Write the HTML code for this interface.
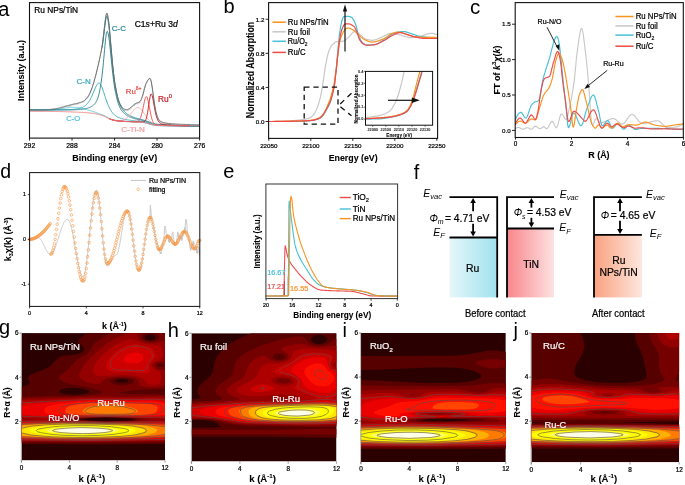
<!DOCTYPE html>
<html><head><meta charset="utf-8"><style>
html,body{margin:0;padding:0;background:#fff;width:685px;height:485px;overflow:hidden}
svg{display:block;font-family:"Liberation Sans", sans-serif;will-change:transform}
</style></head><body>
<svg width="685" height="485" viewBox="0 0 685 485">
<rect x="0" y="0" width="685" height="485" fill="#fff"/>
<path d="M29.5,111.6L29.9,111 30.3,110.8 30.7,110 31.1,110.7 31.5,110.6 31.9,110.7 32.3,110.5 32.7,110.8 33.2,110.6 33.6,110.2 34,111.2 34.4,111.2 34.8,111.5 35.2,110.8 35.6,110.6 36,110.5 36.4,110 36.8,111.2 37.2,110.2 37.6,110.2 38,110.6 38.4,111.3 38.8,110.8 39.2,110.2 39.6,110.3 40.1,110.9 40.5,110.6 40.9,110.3 41.3,110.5 41.7,110.9 42.1,111.5 42.5,110 42.9,110.3 43.3,110.2 43.7,109.4 44.1,110.1 44.5,110 44.9,111 45.3,110.4 45.7,109.7 46.1,110.7 46.5,110.2 47,109.5 47.4,110 47.8,110 48.2,109.8 48.6,110.2 49,109.2 49.4,110 49.8,110.5 50.2,110.4 50.6,110.5 51,110.5 51.4,110.6 51.8,109.4 52.2,110.2 52.6,108.9 53,109.4 53.4,108.8 53.9,110 54.3,110.1 54.7,109.4 55.1,110.2 55.5,109 55.9,109.3 56.3,109.2 56.7,108.6 57.1,109.2 57.5,109.8 57.9,108.4 58.3,109.1 58.7,108.6 59.1,109.3 59.5,108.7 59.9,108.7 60.3,108.5 60.8,108.3 61.2,107.4 61.6,108.6 62,107.2 62.4,107.8 62.8,107.9 63.2,107.1 63.6,107.5 64,107.8 64.4,107.2 64.8,106.7 65.2,105.6 65.6,106.4 66,106.4 66.4,106.4 66.8,106.1 67.3,106.5 67.7,106 68.1,106.1 68.5,106.3 68.9,105.5 69.3,105.7 69.7,106.7 70.1,106 70.5,104.9 70.9,105.4 71.3,105.5 71.7,105.7 72.1,105.2 72.5,104.7 72.9,104.6 73.3,105.1 73.7,104.8 74.2,104.4 74.6,104.4 75,104.2 75.4,104.7 75.8,103.9 76.2,104.4 76.6,104.4 77,104.2 77.4,103.5 77.8,104.4 78.2,103.4 78.6,103.7 79,103.1 79.4,102.5 79.8,103.3 80.2,103.2 80.6,102.9 81.1,102.9 81.5,102.3 81.9,102.1 82.3,102.2 82.7,102.9 83.1,102.2 83.5,101.4 83.9,101.6 84.3,100.9 84.7,100.6 85.1,100.8 85.5,99.8 85.9,98.9 86.3,98.8 86.7,98.8 87.1,98.3 87.5,98.3 88,96.8 88.4,96.8 88.8,96 89.2,95 89.6,94.7 90,93.7 90.4,92.2 90.8,92.1 91.2,90.1 91.6,89.6 92,88.5 92.4,87.5 92.8,85.7 93.2,84.7 93.6,83.3 94,82.4 94.4,80.2 94.9,79.1 95.3,77.4 95.7,75.3 96.1,75.5 96.5,72.7 96.9,70.4 97.3,70 97.7,67.3 98.1,66.2 98.5,64.7 98.9,62.4 99.3,60.7 99.7,58.8 100.1,57.1 100.5,54.5 100.9,52.6 101.3,50.8 101.8,48.9 102.2,46.1 102.6,43.7 103,40.2 103.4,36.5 103.8,33.2 104.2,28.9 104.6,25.9 105,22.5 105.4,20 105.8,17.5 106.2,15 106.6,13.8 107,13.2 107.4,14.7 107.8,16.6 108.2,19.1 108.7,21.7 109.1,26.6 109.5,30.4 109.9,34.2 110.3,38.6 110.7,43.4 111.1,48.3 111.5,52.8 111.9,57.5 112.3,61.9 112.7,66.2 113.1,70 113.5,73 113.9,76.6 114.3,79.4 114.7,82.3 115.1,86.1 115.6,87.5 116,90.9 116.4,92 116.8,94.1 117.2,96.3 117.6,97.4 118,99 118.4,100.1 118.8,101.2 119.2,102.4 119.6,103.2 120,105.1 120.4,105.2 120.8,106.8 121.2,105.4 121.6,107.3 122,108 122.5,108.1 122.9,109.2 123.3,109.3 123.7,109.2 124.1,109.8 124.5,111.1 124.9,110.1 125.3,110.3 125.7,110 126.1,110.3 126.5,109.7 126.9,110.1 127.3,111.2 127.7,110.5 128.1,110.1 128.5,110.1 129,110.3 129.4,109.4 129.8,109.8 130.2,109.1 130.6,108.3 131,108.7 131.4,106.5 131.8,106.9 132.2,106.9 132.6,106 133,106 133.4,105.4 133.8,105 134.2,106.2 134.6,105 135,104.4 135.4,104.8 135.9,103.8 136.3,104.1 136.7,103.7 137.1,104.2 137.5,102.7 137.9,103.5 138.3,103.1 138.7,102.4 139.1,103.2 139.5,102 139.9,102.8 140.3,101.8 140.7,101.3 141.1,100.3 141.5,99.7 141.9,97.4 142.3,97 142.8,95.3 143.2,94.2 143.6,92.5 144,91.2 144.4,88.9 144.8,88.6 145.2,87.5 145.6,85.1 146,84.1 146.4,83.3 146.8,83 147.2,82.6 147.6,80.6 148,80.3 148.4,79.6 148.8,79.1 149.2,78.4 149.7,79.1 150.1,78.6 150.5,80.3 150.9,81.2 151.3,82 151.7,84.2 152.1,86.9 152.5,90.6 152.9,92.5 153.3,95.2 153.7,98.8 154.1,101.8 154.5,104.1 154.9,107.6 155.3,109.3 155.7,111.4 156.1,112.7 156.6,114.7 157,116 157.4,116.2 157.8,118.4 158.2,118.3 158.6,119.8 159,119.8 159.4,121.9 159.8,121.5 160.2,122.1 160.6,122.4 161,121.6 161.4,121.4 161.8,122.5 162.2,123.2 162.6,123 163,123.4 163.5,123.6 163.9,122.6 164.3,123.5 164.7,124.3 165.1,123.3 165.5,122.7 165.9,123.6 166.3,123.5 166.7,124 167.1,123.4 167.5,123.9 167.9,123 168.3,124.4 168.7,124.8 169.1,124.7 169.5,123.5 169.9,124.3 170.4,122.9 170.8,124.4 171.2,124.3 171.6,123.9 172,124.5 172.4,124.5 172.8,124.9 173.2,124.5 173.6,124.6 174,123.6 174.4,124 174.8,124.4 175.2,124.7 175.6,124.6 176,125.3 176.4,124.3 176.8,124.6 177.3,124.8 177.7,124.6 178.1,125 178.5,124.5 178.9,125.4 179.3,124.7 179.7,125.3 180.1,124.8 180.5,125.5 180.9,124.2 181.3,125.1 181.7,124.7 182.1,125 182.5,125.5 182.9,124.4 183.3,124.4 183.7,124.5 184.2,125.1 184.6,124.2 185,125.1 185.4,124.5 185.8,124.5 186.2,124.9 186.6,125.2 187,124.8 187.4,124.9 187.8,125.1 188.2,125 188.6,123.9 189,124.9 189.4,125.2 189.8,125.7 190.2,126.1 190.6,125.5 191.1,125.2 191.5,124.8 191.9,125.2 192.3,125.6 192.7,125.8 193.1,124.8 193.5,125.3 193.9,125.6 194.3,126.1 194.7,125.4 195.1,125 195.5,125 195.9,125.1 196.3,125 196.7,125.7 197.1,125.8 197.6,125.6 198,125.9 198.4,125.1 198.8,125.5 199.2,125.2 199.6,125.4" fill="none" stroke="#bdbdbd" stroke-width="0.8" stroke-linejoin="round" stroke-linecap="round" />
<path d="M29.5,110L29.9,110 30.3,110 30.7,110 31.1,110 31.5,110 31.9,110 32.3,110 32.7,110 33.2,110 33.6,110 34,110.1 34.4,110.1 34.8,110.1 35.2,110.1 35.6,110.1 36,110.1 36.4,110.1 36.8,110.1 37.2,110.1 37.6,110.1 38,110.1 38.4,110.1 38.8,110.1 39.2,110.1 39.6,110.1 40.1,110.1 40.5,110.1 40.9,110.1 41.3,110.1 41.7,110.1 42.1,110.1 42.5,110.1 42.9,110.1 43.3,110.1 43.7,110.1 44.1,110.1 44.5,110.1 44.9,110.1 45.3,110.1 45.7,110.1 46.1,110.1 46.5,110.1 47,110.1 47.4,110.1 47.8,110.1 48.2,110.1 48.6,110.1 49,110 49.4,110 49.8,110 50.2,110 50.6,110 51,109.9 51.4,109.9 51.8,109.9 52.2,109.9 52.6,109.8 53,109.8 53.4,109.8 53.9,109.7 54.3,109.7 54.7,109.6 55.1,109.6 55.5,109.5 55.9,109.5 56.3,109.5 56.7,109.4 57.1,109.4 57.5,109.3 57.9,109.2 58.3,109.2 58.7,109.1 59.1,109.1 59.5,109 59.9,108.9 60.3,108.9 60.8,108.8 61.2,108.7 61.6,108.7 62,108.6 62.4,108.5 62.8,108.5 63.2,108.4 63.6,108.3 64,108.3 64.4,108.2 64.8,108.1 65.2,108.1 65.6,108 66,107.9 66.4,107.9 66.8,107.8 67.3,107.7 67.7,107.7 68.1,107.6 68.5,107.6 68.9,107.5 69.3,107.5 69.7,107.5 70.1,107.4 70.5,107.4 70.9,107.4 71.3,107.3 71.7,107.3 72.1,107.3 72.5,107.3 72.9,107.3 73.3,107.3 73.7,107.3 74.2,107.3 74.6,107.3 75,107.3 75.4,107.3 75.8,107.4 76.2,107.4 76.6,107.4 77,107.5 77.4,107.5 77.8,107.6 78.2,107.6 78.6,107.7 79,107.7 79.4,107.8 79.8,107.9 80.2,108 80.6,108 81.1,108.1 81.5,108.2 81.9,108.3 82.3,108.4 82.7,108.5 83.1,108.6 83.5,108.7 83.9,108.8 84.3,108.9 84.7,109 85.1,109.1 85.5,109.3 85.9,109.4 86.3,109.5 86.7,109.6 87.1,109.7 87.5,109.8 88,110 88.4,110.1 88.8,110.2 89.2,110.3 89.6,110.5 90,110.6 90.4,110.7 90.8,110.8 91.2,111 91.6,111.1 92,111.2 92.4,111.3 92.8,111.5 93.2,111.6 93.6,111.7 94,111.8 94.4,112 94.9,112.1 95.3,112.2 95.7,112.4 96.1,112.5 96.5,112.6 96.9,112.8 97.3,112.9 97.7,113.1 98.1,113.2 98.5,113.4 98.9,113.5 99.3,113.6 99.7,113.8 100.1,113.9 100.5,114.1 100.9,114.2 101.3,114.4 101.8,114.6 102.2,114.7 102.6,114.9 103,115.1 103.4,115.2 103.8,115.4 104.2,115.6 104.6,115.8 105,116 105.4,116.2 105.8,116.4 106.2,116.7 106.6,116.9 107,117.1 107.4,117.3 107.8,117.5 108.2,117.8 108.7,118 109.1,118.2 109.5,118.4 109.9,118.6 110.3,118.7 110.7,118.9 111.1,119.1 111.5,119.2 111.9,119.4 112.3,119.5 112.7,119.6 113.1,119.8 113.5,119.9 113.9,120 114.3,120.1 114.7,120.2 115.1,120.2 115.6,120.3 116,120.4 116.4,120.5 116.8,120.5 117.2,120.6 117.6,120.6 118,120.7 118.4,120.7 118.8,120.8 119.2,120.8 119.6,120.9 120,120.9 120.4,121 120.8,121 121.2,121 121.6,121.1 122,121.1 122.5,121.1 122.9,121.2 123.3,121.2 123.7,121.2 124.1,121.2 124.5,121.3 124.9,121.3 125.3,121.3 125.7,121.3 126.1,121.4 126.5,121.4 126.9,121.4 127.3,121.4 127.7,121.5 128.1,121.5 128.5,121.5 129,121.5 129.4,121.6 129.8,121.6 130.2,121.6 130.6,121.6 131,121.7 131.4,121.7 131.8,121.7 132.2,121.7 132.6,121.7 133,121.8 133.4,121.8 133.8,121.8 134.2,121.8 134.6,121.9 135,121.9 135.4,121.9 135.9,121.9 136.3,122 136.7,122 137.1,122 137.5,122 137.9,122.1 138.3,122.1 138.7,122.1 139.1,122.2 139.5,122.2 139.9,122.2 140.3,122.2 140.7,122.3 141.1,122.3 141.5,122.4 141.9,122.4 142.3,122.4 142.8,122.5 143.2,122.6 143.6,122.6 144,122.7 144.4,122.8 144.8,122.8 145.2,122.9 145.6,123 146,123.1 146.4,123.2 146.8,123.3 147.2,123.4 147.6,123.5 148,123.6 148.4,123.7 148.8,123.9 149.2,124 149.7,124.1 150.1,124.2 150.5,124.3 150.9,124.5 151.3,124.6 151.7,124.7 152.1,124.8 152.5,124.9 152.9,125 153.3,125.1 153.7,125.2 154.1,125.3 154.5,125.3 154.9,125.4 155.3,125.4 155.7,125.5 156.1,125.5 156.6,125.6 157,125.6 157.4,125.6 157.8,125.6 158.2,125.7 158.6,125.7 159,125.7 159.4,125.7 159.8,125.7 160.2,125.8 160.6,125.8 161,125.8 161.4,125.8 161.8,125.8 162.2,125.8 162.6,125.8 163,125.8 163.5,125.9 163.9,125.9 164.3,125.9 164.7,125.9 165.1,125.9 165.5,125.9 165.9,125.9 166.3,125.9 166.7,125.9 167.1,125.9 167.5,126 167.9,126 168.3,126 168.7,126 169.1,126 169.5,126 169.9,126 170.4,126 170.8,126 171.2,126 171.6,126 172,126 172.4,126.1 172.8,126.1 173.2,126.1 173.6,126.1 174,126.1 174.4,126.1 174.8,126.1 175.2,126.1 175.6,126.1 176,126.1 176.4,126.1 176.8,126.1 177.3,126.1 177.7,126.2 178.1,126.2 178.5,126.2 178.9,126.2 179.3,126.2 179.7,126.2 180.1,126.2 180.5,126.2 180.9,126.2 181.3,126.2 181.7,126.2 182.1,126.2 182.5,126.2 182.9,126.2 183.3,126.2 183.7,126.3 184.2,126.3 184.6,126.3 185,126.3 185.4,126.3 185.8,126.3 186.2,126.3 186.6,126.3 187,126.3 187.4,126.3 187.8,126.3 188.2,126.3 188.6,126.3 189,126.3 189.4,126.3 189.8,126.4 190.2,126.4 190.6,126.4 191.1,126.4 191.5,126.4 191.9,126.4 192.3,126.4 192.7,126.4 193.1,126.4 193.5,126.4 193.9,126.4 194.3,126.4 194.7,126.4 195.1,126.4 195.5,126.4 195.9,126.4 196.3,126.5 196.7,126.5 197.1,126.5 197.6,126.5 198,126.5 198.4,126.5 198.8,126.5 199.2,126.5 199.6,126.5" fill="none" stroke="#55c8da" stroke-width="0.9" stroke-linejoin="round" stroke-linecap="round" />
<path d="M29.5,109.7L29.9,109.7 30.3,109.7 30.7,109.7 31.1,109.7 31.5,109.7 31.9,109.7 32.3,109.7 32.7,109.7 33.2,109.7 33.6,109.7 34,109.7 34.4,109.7 34.8,109.7 35.2,109.8 35.6,109.8 36,109.8 36.4,109.8 36.8,109.8 37.2,109.8 37.6,109.8 38,109.8 38.4,109.8 38.8,109.8 39.2,109.8 39.6,109.8 40.1,109.8 40.5,109.8 40.9,109.8 41.3,109.8 41.7,109.8 42.1,109.8 42.5,109.8 42.9,109.8 43.3,109.8 43.7,109.8 44.1,109.8 44.5,109.8 44.9,109.8 45.3,109.8 45.7,109.8 46.1,109.8 46.5,109.8 47,109.8 47.4,109.8 47.8,109.8 48.2,109.8 48.6,109.8 49,109.8 49.4,109.8 49.8,109.8 50.2,109.8 50.6,109.8 51,109.8 51.4,109.8 51.8,109.8 52.2,109.8 52.6,109.8 53,109.8 53.4,109.8 53.9,109.8 54.3,109.8 54.7,109.8 55.1,109.8 55.5,109.8 55.9,109.8 56.3,109.8 56.7,109.8 57.1,109.8 57.5,109.8 57.9,109.8 58.3,109.8 58.7,109.8 59.1,109.8 59.5,109.8 59.9,109.8 60.3,109.8 60.8,109.8 61.2,109.8 61.6,109.8 62,109.8 62.4,109.8 62.8,109.7 63.2,109.7 63.6,109.7 64,109.7 64.4,109.7 64.8,109.7 65.2,109.7 65.6,109.7 66,109.7 66.4,109.7 66.8,109.7 67.3,109.6 67.7,109.6 68.1,109.6 68.5,109.6 68.9,109.6 69.3,109.6 69.7,109.5 70.1,109.5 70.5,109.5 70.9,109.5 71.3,109.5 71.7,109.4 72.1,109.4 72.5,109.4 72.9,109.3 73.3,109.3 73.7,109.3 74.2,109.2 74.6,109.2 75,109.1 75.4,109.1 75.8,109.1 76.2,109 76.6,108.9 77,108.9 77.4,108.8 77.8,108.7 78.2,108.7 78.6,108.6 79,108.5 79.4,108.4 79.8,108.3 80.2,108.2 80.6,108 81.1,107.9 81.5,107.8 81.9,107.6 82.3,107.4 82.7,107.3 83.1,107.1 83.5,106.8 83.9,106.6 84.3,106.3 84.7,106.1 85.1,105.8 85.5,105.4 85.9,105.1 86.3,104.7 86.7,104.3 87.1,103.9 87.5,103.4 88,102.9 88.4,102.3 88.8,101.8 89.2,101.2 89.6,100.5 90,99.8 90.4,99.1 90.8,98.3 91.2,97.5 91.6,96.7 92,95.8 92.4,94.9 92.8,93.9 93.2,93 93.6,92 94,91 94.4,90 94.9,89 95.3,88.1 95.7,87.2 96.1,86.3 96.5,85.5 96.9,84.8 97.3,84.2 97.7,83.7 98.1,83.3 98.5,83.1 98.9,83 99.3,83.1 99.7,83.4 100.1,83.8 100.5,84.4 100.9,85.1 101.3,86 101.8,86.9 102.2,87.9 102.6,89 103,90.2 103.4,91.4 103.8,92.6 104.2,93.8 104.6,95.1 105,96.3 105.4,97.5 105.8,98.7 106.2,99.9 106.6,101 107,102.1 107.4,103.2 107.8,104.2 108.2,105.2 108.7,106.2 109.1,107.1 109.5,107.9 109.9,108.7 110.3,109.5 110.7,110.2 111.1,110.8 111.5,111.5 111.9,112 112.3,112.6 112.7,113.1 113.1,113.6 113.5,114 113.9,114.4 114.3,114.8 114.7,115.2 115.1,115.5 115.6,115.8 116,116.1 116.4,116.3 116.8,116.6 117.2,116.8 117.6,117 118,117.2 118.4,117.4 118.8,117.6 119.2,117.8 119.6,117.9 120,118.1 120.4,118.2 120.8,118.4 121.2,118.5 121.6,118.6 122,118.7 122.5,118.8 122.9,118.9 123.3,119 123.7,119.1 124.1,119.2 124.5,119.3 124.9,119.4 125.3,119.5 125.7,119.5 126.1,119.6 126.5,119.7 126.9,119.8 127.3,119.8 127.7,119.9 128.1,120 128.5,120 129,120.1 129.4,120.1 129.8,120.2 130.2,120.3 130.6,120.3 131,120.4 131.4,120.4 131.8,120.5 132.2,120.5 132.6,120.6 133,120.6 133.4,120.7 133.8,120.7 134.2,120.8 134.6,120.8 135,120.9 135.4,120.9 135.9,121 136.3,121 136.7,121.1 137.1,121.1 137.5,121.1 137.9,121.2 138.3,121.2 138.7,121.3 139.1,121.3 139.5,121.4 139.9,121.4 140.3,121.5 140.7,121.5 141.1,121.6 141.5,121.6 141.9,121.7 142.3,121.7 142.8,121.8 143.2,121.9 143.6,121.9 144,122 144.4,122.1 144.8,122.2 145.2,122.3 145.6,122.4 146,122.5 146.4,122.6 146.8,122.7 147.2,122.8 147.6,122.9 148,123.1 148.4,123.2 148.8,123.3 149.2,123.4 149.7,123.6 150.1,123.7 150.5,123.8 150.9,124 151.3,124.1 151.7,124.2 152.1,124.3 152.5,124.4 152.9,124.5 153.3,124.6 153.7,124.7 154.1,124.8 154.5,124.9 154.9,124.9 155.3,125 155.7,125.1 156.1,125.1 156.6,125.1 157,125.2 157.4,125.2 157.8,125.3 158.2,125.3 158.6,125.3 159,125.3 159.4,125.4 159.8,125.4 160.2,125.4 160.6,125.4 161,125.4 161.4,125.4 161.8,125.5 162.2,125.5 162.6,125.5 163,125.5 163.5,125.5 163.9,125.5 164.3,125.6 164.7,125.6 165.1,125.6 165.5,125.6 165.9,125.6 166.3,125.6 166.7,125.6 167.1,125.7 167.5,125.7 167.9,125.7 168.3,125.7 168.7,125.7 169.1,125.7 169.5,125.7 169.9,125.7 170.4,125.7 170.8,125.8 171.2,125.8 171.6,125.8 172,125.8 172.4,125.8 172.8,125.8 173.2,125.8 173.6,125.8 174,125.8 174.4,125.9 174.8,125.9 175.2,125.9 175.6,125.9 176,125.9 176.4,125.9 176.8,125.9 177.3,125.9 177.7,125.9 178.1,125.9 178.5,125.9 178.9,126 179.3,126 179.7,126 180.1,126 180.5,126 180.9,126 181.3,126 181.7,126 182.1,126 182.5,126 182.9,126 183.3,126.1 183.7,126.1 184.2,126.1 184.6,126.1 185,126.1 185.4,126.1 185.8,126.1 186.2,126.1 186.6,126.1 187,126.1 187.4,126.1 187.8,126.1 188.2,126.2 188.6,126.2 189,126.2 189.4,126.2 189.8,126.2 190.2,126.2 190.6,126.2 191.1,126.2 191.5,126.2 191.9,126.2 192.3,126.2 192.7,126.2 193.1,126.2 193.5,126.3 193.9,126.3 194.3,126.3 194.7,126.3 195.1,126.3 195.5,126.3 195.9,126.3 196.3,126.3 196.7,126.3 197.1,126.3 197.6,126.3 198,126.3 198.4,126.3 198.8,126.3 199.2,126.4 199.6,126.4" fill="none" stroke="#2aa6b9" stroke-width="0.9" stroke-linejoin="round" stroke-linecap="round" />
<path d="M29.5,109.7L29.9,109.7 30.3,109.7 30.7,109.7 31.1,109.7 31.5,109.7 31.9,109.7 32.3,109.7 32.7,109.7 33.2,109.7 33.6,109.8 34,109.8 34.4,109.8 34.8,109.8 35.2,109.8 35.6,109.8 36,109.8 36.4,109.8 36.8,109.8 37.2,109.8 37.6,109.8 38,109.8 38.4,109.8 38.8,109.8 39.2,109.8 39.6,109.8 40.1,109.8 40.5,109.8 40.9,109.8 41.3,109.8 41.7,109.8 42.1,109.8 42.5,109.8 42.9,109.8 43.3,109.8 43.7,109.8 44.1,109.9 44.5,109.9 44.9,109.9 45.3,109.9 45.7,109.9 46.1,109.9 46.5,109.9 47,109.9 47.4,109.9 47.8,109.9 48.2,109.9 48.6,109.9 49,109.9 49.4,109.9 49.8,109.9 50.2,109.9 50.6,109.9 51,109.9 51.4,109.9 51.8,109.9 52.2,109.9 52.6,109.9 53,109.9 53.4,109.9 53.9,109.9 54.3,109.9 54.7,109.9 55.1,109.9 55.5,109.9 55.9,109.9 56.3,109.9 56.7,109.9 57.1,109.9 57.5,109.9 57.9,109.9 58.3,109.9 58.7,109.9 59.1,109.9 59.5,109.9 59.9,109.9 60.3,109.9 60.8,109.9 61.2,109.9 61.6,109.9 62,109.9 62.4,109.9 62.8,109.9 63.2,109.9 63.6,109.9 64,109.9 64.4,109.9 64.8,109.9 65.2,109.9 65.6,109.9 66,109.9 66.4,109.9 66.8,109.9 67.3,109.9 67.7,109.9 68.1,109.9 68.5,109.9 68.9,109.9 69.3,109.9 69.7,109.9 70.1,109.9 70.5,109.9 70.9,109.9 71.3,109.9 71.7,109.9 72.1,109.9 72.5,109.8 72.9,109.8 73.3,109.8 73.7,109.8 74.2,109.8 74.6,109.8 75,109.8 75.4,109.7 75.8,109.7 76.2,109.7 76.6,109.7 77,109.7 77.4,109.6 77.8,109.6 78.2,109.6 78.6,109.6 79,109.5 79.4,109.5 79.8,109.5 80.2,109.4 80.6,109.4 81.1,109.4 81.5,109.3 81.9,109.3 82.3,109.2 82.7,109.2 83.1,109.1 83.5,109 83.9,109 84.3,108.9 84.7,108.8 85.1,108.8 85.5,108.7 85.9,108.6 86.3,108.5 86.7,108.4 87.1,108.3 87.5,108.2 88,108.1 88.4,107.9 88.8,107.8 89.2,107.6 89.6,107.5 90,107.3 90.4,107.1 90.8,106.9 91.2,106.7 91.6,106.5 92,106.2 92.4,106 92.8,105.7 93.2,105.4 93.6,105 94,104.6 94.4,104.2 94.9,103.7 95.3,103.2 95.7,102.6 96.1,101.9 96.5,101.2 96.9,100.4 97.3,99.4 97.7,98.4 98.1,97.2 98.5,95.9 98.9,94.4 99.3,92.7 99.7,90.8 100.1,88.7 100.5,86.4 100.9,83.8 101.3,81 101.8,77.8 102.2,74.4 102.6,70.8 103,66.9 103.4,62.7 103.8,58.4 104.2,54 104.6,49.5 105,45.2 105.4,41.2 105.8,37.6 106.2,34.6 106.6,32.5 107,31.5 107.4,31.4 107.8,32.3 108.2,33.9 108.7,36.2 109.1,39 109.5,42.3 109.9,46 110.3,49.9 110.7,53.9 111.1,57.9 111.5,61.9 111.9,65.8 112.3,69.5 112.7,73.1 113.1,76.5 113.5,79.7 113.9,82.6 114.3,85.4 114.7,88 115.1,90.4 115.6,92.6 116,94.6 116.4,96.5 116.8,98.2 117.2,99.8 117.6,101.2 118,102.6 118.4,103.8 118.8,104.9 119.2,105.9 119.6,106.8 120,107.7 120.4,108.4 120.8,109.2 121.2,109.8 121.6,110.4 122,111 122.5,111.5 122.9,112 123.3,112.5 123.7,112.9 124.1,113.3 124.5,113.6 124.9,114 125.3,114.3 125.7,114.6 126.1,114.9 126.5,115.2 126.9,115.4 127.3,115.7 127.7,115.9 128.1,116.1 128.5,116.4 129,116.6 129.4,116.8 129.8,116.9 130.2,117.1 130.6,117.3 131,117.4 131.4,117.6 131.8,117.8 132.2,117.9 132.6,118 133,118.2 133.4,118.3 133.8,118.4 134.2,118.6 134.6,118.7 135,118.8 135.4,118.9 135.9,119 136.3,119.1 136.7,119.2 137.1,119.3 137.5,119.4 137.9,119.5 138.3,119.6 138.7,119.7 139.1,119.8 139.5,119.9 139.9,119.9 140.3,120 140.7,120.1 141.1,120.2 141.5,120.3 141.9,120.4 142.3,120.5 142.8,120.6 143.2,120.7 143.6,120.8 144,120.9 144.4,121 144.8,121.1 145.2,121.2 145.6,121.3 146,121.5 146.4,121.6 146.8,121.7 147.2,121.9 147.6,122 148,122.1 148.4,122.3 148.8,122.4 149.2,122.6 149.7,122.7 150.1,122.9 150.5,123 150.9,123.2 151.3,123.3 151.7,123.4 152.1,123.6 152.5,123.7 152.9,123.8 153.3,123.9 153.7,124 154.1,124.1 154.5,124.2 154.9,124.3 155.3,124.4 155.7,124.4 156.1,124.5 156.6,124.5 157,124.6 157.4,124.6 157.8,124.7 158.2,124.7 158.6,124.8 159,124.8 159.4,124.8 159.8,124.8 160.2,124.9 160.6,124.9 161,124.9 161.4,125 161.8,125 162.2,125 162.6,125 163,125 163.5,125.1 163.9,125.1 164.3,125.1 164.7,125.1 165.1,125.2 165.5,125.2 165.9,125.2 166.3,125.2 166.7,125.2 167.1,125.3 167.5,125.3 167.9,125.3 168.3,125.3 168.7,125.3 169.1,125.3 169.5,125.4 169.9,125.4 170.4,125.4 170.8,125.4 171.2,125.4 171.6,125.4 172,125.5 172.4,125.5 172.8,125.5 173.2,125.5 173.6,125.5 174,125.5 174.4,125.5 174.8,125.6 175.2,125.6 175.6,125.6 176,125.6 176.4,125.6 176.8,125.6 177.3,125.6 177.7,125.7 178.1,125.7 178.5,125.7 178.9,125.7 179.3,125.7 179.7,125.7 180.1,125.7 180.5,125.7 180.9,125.7 181.3,125.8 181.7,125.8 182.1,125.8 182.5,125.8 182.9,125.8 183.3,125.8 183.7,125.8 184.2,125.8 184.6,125.9 185,125.9 185.4,125.9 185.8,125.9 186.2,125.9 186.6,125.9 187,125.9 187.4,125.9 187.8,125.9 188.2,125.9 188.6,126 189,126 189.4,126 189.8,126 190.2,126 190.6,126 191.1,126 191.5,126 191.9,126 192.3,126 192.7,126.1 193.1,126.1 193.5,126.1 193.9,126.1 194.3,126.1 194.7,126.1 195.1,126.1 195.5,126.1 195.9,126.1 196.3,126.1 196.7,126.1 197.1,126.2 197.6,126.2 198,126.2 198.4,126.2 198.8,126.2 199.2,126.2 199.6,126.2" fill="none" stroke="#1f7f8c" stroke-width="0.9" stroke-linejoin="round" stroke-linecap="round" />
<path d="M102.2,47.1L102.6,44.4 103,41.5 103.4,38.4 103.8,35.2 104.2,31.8 104.6,28.4 105,25.2 105.4,22.1 105.8,19.6 106.2,17.6 106.6,16.5 107,16.3 107.4,17.1 107.8,18.8 108.2,21.2 108.7,24.2 109.1,27.8 109.5,31.7 109.9,36 110.3,40.5 110.7,45 111.1,49.6 111.5,54 111.9,58.4 112.3,62.5 112.7,66.5 113.1,70.3 113.5,73.8 113.9,77.1 114.3,80.1 114.7,83 115.1,85.6 115.6,88.1 116,90.3 116.4,92.4 116.8,94.3 117.2,96 117.6,97.6 118,99.1 118.4,100.5 118.8,101.7 119.2,102.8 119.6,103.9 120,104.8 120.4,105.7 120.8,106.5 121.2,107.3 121.6,108 122,108.6 122.5,109.2 122.9,109.8 123.3,110.3 123.7,110.8 124.1,111.2 124.5,111.7 124.9,112.1 125.3,112.5 125.7,112.8 126.1,113.2 126.5,113.5 126.9,113.8 127.3,114.1 127.7,114.4 128.1,114.6 128.5,114.9 129,115.1 129.4,115.3 129.8,115.6 130.2,115.8 130.6,116 131,116.2 131.4,116.3 131.8,116.5 132.2,116.7 132.6,116.9 133,117 133.4,117.2 133.8,117.3 134.2,117.5 134.6,117.6 135,117.8 135.4,117.9 135.9,118 136.3,118.1 136.7,118.3 137.1,118.4 137.5,118.5 137.9,118.6 138.3,118.7 138.7,118.8 139.1,118.9 139.5,119 139.9,119.1 140.3,119.2 140.7,119.3 141.1,119.4 141.5,119.5 141.9,119.6 142.3,119.7 142.8,119.9 143.2,120 143.6,120.1 144,120.2 144.4,120.3 144.8,120.5 145.2,120.6 145.6,120.7 146,120.9 146.4,121 146.8,121.1 147.2,121.3 147.6,121.4 148,121.6 148.4,121.7 148.8,121.9 149.2,122 149.7,122.2 150.1,122.3 150.5,122.5 150.9,122.7 151.3,122.8 151.7,123 152.1,123.1 152.5,123.2 152.9,123.4 153.3,123.5 153.7,123.6 154.1,123.7 154.5,123.8 154.9,123.9 155.3,123.9 155.7,124 156.1,124.1 156.6,124.1 157,124.2 157.4,124.2 157.8,124.3 158.2,124.3 158.6,124.4 159,124.4 159.4,124.4 159.8,124.5 160.2,124.5 160.6,124.5 161,124.6 161.4,124.6 161.8,124.6 162.2,124.7 162.6,124.7 163,124.7 163.5,124.7 163.9,124.8 164.3,124.8 164.7,124.8 165.1,124.8 165.5,124.9 165.9,124.9 166.3,124.9 166.7,124.9 167.1,125 167.5,125 167.9,125 168.3,125 168.7,125 169.1,125.1 169.5,125.1 169.9,125.1 170.4,125.1 170.8,125.1 171.2,125.2 171.6,125.2 172,125.2 172.4,125.2 172.8,125.2 173.2,125.3 173.6,125.3 174,125.3 174.4,125.3 174.8,125.3 175.2,125.3 175.6,125.4 176,125.4 176.4,125.4 176.8,125.4 177.3,125.4 177.7,125.4 178.1,125.4 178.5,125.5 178.9,125.5 179.3,125.5 179.7,125.5 180.1,125.5 180.5,125.5 180.9,125.5 181.3,125.6 181.7,125.6 182.1,125.6 182.5,125.6 182.9,125.6 183.3,125.6 183.7,125.6 184.2,125.7 184.6,125.7 185,125.7 185.4,125.7 185.8,125.7 186.2,125.7 186.6,125.7 187,125.7 187.4,125.8 187.8,125.8 188.2,125.8 188.6,125.8 189,125.8 189.4,125.8 189.8,125.8 190.2,125.8 190.6,125.8 191.1,125.9 191.5,125.9 191.9,125.9 192.3,125.9 192.7,125.9 193.1,125.9 193.5,125.9 193.9,125.9 194.3,125.9 194.7,126 195.1,126 195.5,126 195.9,126 196.3,126 196.7,126 197.1,126 197.6,126 198,126 198.4,126 198.8,126.1 199.2,126.1 199.6,126.1" fill="none" stroke="#1f7f8c" stroke-width="0.9" stroke-linejoin="round" stroke-linecap="round" />
<path d="M109.5,118.7L109.9,118.9 110.3,119 110.7,119.2 111.1,119.3 111.5,119.5 111.9,119.6 112.3,119.7 112.7,119.8 113.1,120 113.5,120.1 113.9,120.1 114.3,120.2 114.7,120.3 115.1,120.4 115.6,120.4 116,120.5 116.4,120.5 116.8,120.6 117.2,120.6 117.6,120.6 118,120.6 118.4,120.6 118.8,120.7 119.2,120.6 119.6,120.6 120,120.6 120.4,120.6 120.8,120.5 121.2,120.5 121.6,120.4 122,120.3 122.5,120.2 122.9,120.1 123.3,120 123.7,119.9 124.1,119.7 124.5,119.5 124.9,119.3 125.3,119.1 125.7,118.8 126.1,118.5 126.5,118.2 126.9,117.9 127.3,117.6 127.7,117.2 128.1,116.8 128.5,116.4 129,116 129.4,115.5 129.8,115 130.2,114.5 130.6,114 131,113.5 131.4,113 131.8,112.5 132.2,112 132.6,111.5 133,111 133.4,110.5 133.8,110 134.2,109.6 134.6,109.2 135,108.8 135.4,108.5 135.9,108.2 136.3,108 136.7,107.8 137.1,107.7 137.5,107.6 137.9,107.6 138.3,107.6 138.7,107.7 139.1,107.9 139.5,108.1 139.9,108.4 140.3,108.7 140.7,109.1 141.1,109.5 141.5,109.9 141.9,110.4 142.3,110.9 142.8,111.5 143.2,112 143.6,112.6 144,113.2 144.4,113.8 144.8,114.4 145.2,115 145.6,115.6 146,116.2 146.4,116.8 146.8,117.4 147.2,118 147.6,118.5 148,119 148.4,119.5 148.8,120 149.2,120.5 149.7,120.9 150.1,121.3 150.5,121.7 150.9,122.1 151.3,122.5 151.7,122.8 152.1,123.1 152.5,123.3 152.9,123.6 153.3,123.8 153.7,124 154.1,124.2 154.5,124.4 154.9,124.5 155.3,124.6 155.7,124.7 156.1,124.8 156.6,124.9 157,125 157.4,125.1 157.8,125.1 158.2,125.2 158.6,125.2 159,125.2 159.4,125.3 159.8,125.3 160.2,125.3 160.6,125.3 161,125.4 161.4,125.4 161.8,125.4 162.2,125.4 162.6,125.4 163,125.4 163.5,125.5 163.9,125.5 164.3,125.5 164.7,125.5 165.1,125.5 165.5,125.5 165.9,125.5 166.3,125.5 166.7,125.5 167.1,125.5 167.5,125.5 167.9,125.5 168.3,125.6 168.7,125.6 169.1,125.6 169.5,125.6 169.9,125.6 170.4,125.6 170.8,125.6 171.2,125.6 171.6,125.6 172,125.6 172.4,125.6 172.8,125.6 173.2,125.6 173.6,125.6 174,125.6 174.4,125.6 174.8,125.6 175.2,125.6 175.6,125.6 176,125.6 176.4,125.6 176.8,125.7 177.3,125.7 177.7,125.7 178.1,125.7 178.5,125.7 178.9,125.7 179.3,125.7 179.7,125.7 180.1,125.7 180.5,125.7 180.9,125.7 181.3,125.7 181.7,125.7 182.1,125.7 182.5,125.7 182.9,125.7 183.3,125.7 183.7,125.7 184.2,125.7 184.6,125.7 185,125.7 185.4,125.7 185.8,125.7 186.2,125.7 186.6,125.7 187,125.7 187.4,125.7 187.8,125.7 188.2,125.7 188.6,125.7" fill="none" stroke="#f6a3a3" stroke-width="0.9" stroke-linejoin="round" stroke-linecap="round" />
<path d="M109.5,118.8L109.9,118.9 110.3,119.1 110.7,119.3 111.1,119.4 111.5,119.6 111.9,119.7 112.3,119.8 112.7,120 113.1,120.1 113.5,120.2 113.9,120.3 114.3,120.3 114.7,120.4 115.1,120.5 115.6,120.6 116,120.6 116.4,120.7 116.8,120.8 117.2,120.8 117.6,120.9 118,120.9 118.4,121 118.8,121 119.2,121 119.6,121.1 120,121.1 120.4,121.1 120.8,121.2 121.2,121.2 121.6,121.2 122,121.2 122.5,121.3 122.9,121.3 123.3,121.3 123.7,121.3 124.1,121.4 124.5,121.4 124.9,121.4 125.3,121.4 125.7,121.4 126.1,121.5 126.5,121.5 126.9,121.5 127.3,121.5 127.7,121.5 128.1,121.5 128.5,121.5 129,121.6 129.4,121.6 129.8,121.6 130.2,121.6 130.6,121.6 131,121.6 131.4,121.6 131.8,121.6 132.2,121.7 132.6,121.7 133,121.7 133.4,121.7 133.8,121.7 134.2,121.7 134.6,121.7 135,121.7 135.4,121.7 135.9,121.7 136.3,121.6 136.7,121.6 137.1,121.5 137.5,121.4 137.9,121.2 138.3,121 138.7,120.7 139.1,120.3 139.5,119.8 139.9,119.1 140.3,118.3 140.7,117.3 141.1,116.1 141.5,114.7 141.9,113.2 142.3,111.4 142.8,109.5 143.2,107.5 143.6,105.5 144,103.5 144.4,101.6 144.8,99.9 145.2,98.5 145.6,97.4 146,96.8 146.4,96.6 146.8,96.9 147.2,97.7 147.6,98.9 148,100.5 148.4,102.3 148.8,104.4 149.2,106.6 149.7,108.8 150.1,110.9 150.5,113 150.9,114.9 151.3,116.6 151.7,118.2 152.1,119.5 152.5,120.7 152.9,121.6 153.3,122.4 153.7,123.1 154.1,123.6 154.5,124 154.9,124.3 155.3,124.5 155.7,124.7 156.1,124.8 156.6,125 157,125 157.4,125.1 157.8,125.2 158.2,125.2 158.6,125.2 159,125.3 159.4,125.3 159.8,125.3 160.2,125.3 160.6,125.4 161,125.4 161.4,125.4 161.8,125.4 162.2,125.4 162.6,125.4 163,125.5 163.5,125.5 163.9,125.5 164.3,125.5 164.7,125.5 165.1,125.5 165.5,125.5 165.9,125.5 166.3,125.5 166.7,125.5 167.1,125.5 167.5,125.6 167.9,125.6 168.3,125.6 168.7,125.6 169.1,125.6 169.5,125.6 169.9,125.6 170.4,125.6 170.8,125.6 171.2,125.6 171.6,125.6 172,125.6 172.4,125.6 172.8,125.6 173.2,125.6 173.6,125.6 174,125.6 174.4,125.6 174.8,125.6 175.2,125.7 175.6,125.7 176,125.7 176.4,125.7 176.8,125.7 177.3,125.7 177.7,125.7 178.1,125.7 178.5,125.7 178.9,125.7 179.3,125.7 179.7,125.7 180.1,125.7 180.5,125.7 180.9,125.7 181.3,125.7 181.7,125.7 182.1,125.7 182.5,125.7 182.9,125.7 183.3,125.7 183.7,125.7 184.2,125.7 184.6,125.7 185,125.7 185.4,125.7 185.8,125.7 186.2,125.7 186.6,125.7 187,125.7 187.4,125.7 187.8,125.7 188.2,125.7 188.6,125.7" fill="none" stroke="#ef4444" stroke-width="0.9" stroke-linejoin="round" stroke-linecap="round" />
<path d="M109.5,118.8L109.9,119 110.3,119.1 110.7,119.3 111.1,119.4 111.5,119.6 111.9,119.7 112.3,119.8 112.7,120 113.1,120.1 113.5,120.2 113.9,120.3 114.3,120.4 114.7,120.4 115.1,120.5 115.6,120.6 116,120.7 116.4,120.7 116.8,120.8 117.2,120.8 117.6,120.9 118,120.9 118.4,121 118.8,121 119.2,121.1 119.6,121.1 120,121.1 120.4,121.2 120.8,121.2 121.2,121.2 121.6,121.2 122,121.3 122.5,121.3 122.9,121.3 123.3,121.3 123.7,121.4 124.1,121.4 124.5,121.4 124.9,121.4 125.3,121.5 125.7,121.5 126.1,121.5 126.5,121.5 126.9,121.5 127.3,121.5 127.7,121.6 128.1,121.6 128.5,121.6 129,121.6 129.4,121.6 129.8,121.6 130.2,121.7 130.6,121.7 131,121.7 131.4,121.7 131.8,121.7 132.2,121.7 132.6,121.8 133,121.8 133.4,121.8 133.8,121.8 134.2,121.8 134.6,121.8 135,121.9 135.4,121.9 135.9,121.9 136.3,121.9 136.7,121.9 137.1,121.9 137.5,121.9 137.9,122 138.3,122 138.7,122 139.1,122 139.5,122 139.9,122 140.3,122 140.7,122 141.1,122.1 141.5,122.1 141.9,122.1 142.3,122.1 142.8,122.1 143.2,122 143.6,121.9 144,121.8 144.4,121.6 144.8,121.3 145.2,120.8 145.6,120.2 146,119.3 146.4,118.1 146.8,116.6 147.2,114.7 147.6,112.6 148,110.1 148.4,107.4 148.8,104.5 149.2,101.7 149.7,99.1 150.1,96.8 150.5,95.1 150.9,94.1 151.3,94 151.7,94.5 152.1,95.5 152.5,97 152.9,98.9 153.3,101 153.7,103.3 154.1,105.6 154.5,107.8 154.9,109.9 155.3,111.9 155.7,113.8 156.1,115.4 156.6,116.9 157,118.1 157.4,119.2 157.8,120.1 158.2,120.9 158.6,121.6 159,122.1 159.4,122.6 159.8,122.9 160.2,123.2 160.6,123.5 161,123.7 161.4,123.8 161.8,124 162.2,124.1 162.6,124.2 163,124.3 163.5,124.4 163.9,124.5 164.3,124.6 164.7,124.6 165.1,124.7 165.5,124.7 165.9,124.8 166.3,124.8 166.7,124.9 167.1,124.9 167.5,125 167.9,125 168.3,125 168.7,125.1 169.1,125.1 169.5,125.1 169.9,125.1 170.4,125.2 170.8,125.2 171.2,125.2 171.6,125.2 172,125.2 172.4,125.3 172.8,125.3 173.2,125.3 173.6,125.3 174,125.3 174.4,125.3 174.8,125.4 175.2,125.4 175.6,125.4 176,125.4 176.4,125.4 176.8,125.4 177.3,125.4 177.7,125.4 178.1,125.5 178.5,125.5 178.9,125.5 179.3,125.5 179.7,125.5 180.1,125.5 180.5,125.5 180.9,125.5 181.3,125.5 181.7,125.5 182.1,125.5 182.5,125.5 182.9,125.6 183.3,125.6 183.7,125.6 184.2,125.6 184.6,125.6 185,125.6 185.4,125.6 185.8,125.6 186.2,125.6 186.6,125.6 187,125.6 187.4,125.6 187.8,125.6 188.2,125.6 188.6,125.6" fill="none" stroke="#c8141a" stroke-width="0.9" stroke-linejoin="round" stroke-linecap="round" />
<path d="M29.5,111.3L29.9,111.3 30.3,111.3 30.7,111.3 31.1,111.3 31.5,111.3 31.9,111.3 32.3,111.3 32.7,111.3 33.2,111.3 33.6,111.3 34,111.3 34.4,111.3 34.8,111.3 35.2,111.3 35.6,111.3 36,111.3 36.4,111.3 36.8,111.3 37.2,111.3 37.6,111.3 38,111.3 38.4,111.3 38.8,111.3 39.2,111.3 39.6,111.4 40.1,111.4 40.5,111.4 40.9,111.4 41.3,111.4 41.7,111.4 42.1,111.4 42.5,111.4 42.9,111.4 43.3,111.4 43.7,111.4 44.1,111.4 44.5,111.4 44.9,111.4 45.3,111.4 45.7,111.4 46.1,111.4 46.5,111.4 47,111.4 47.4,111.4 47.8,111.4 48.2,111.4 48.6,111.4 49,111.4 49.4,111.4 49.8,111.4 50.2,111.4 50.6,111.5 51,111.5 51.4,111.5 51.8,111.5 52.2,111.5 52.6,111.5 53,111.5 53.4,111.5 53.9,111.5 54.3,111.5 54.7,111.5 55.1,111.5 55.5,111.5 55.9,111.5 56.3,111.5 56.7,111.5 57.1,111.5 57.5,111.5 57.9,111.6 58.3,111.6 58.7,111.6 59.1,111.6 59.5,111.6 59.9,111.6 60.3,111.6 60.8,111.6 61.2,111.6 61.6,111.6 62,111.6 62.4,111.6 62.8,111.7 63.2,111.7 63.6,111.7 64,111.7 64.4,111.7 64.8,111.7 65.2,111.7 65.6,111.7 66,111.7 66.4,111.8 66.8,111.8 67.3,111.8 67.7,111.8 68.1,111.8 68.5,111.8 68.9,111.8 69.3,111.8 69.7,111.9 70.1,111.9 70.5,111.9 70.9,111.9 71.3,111.9 71.7,111.9 72.1,112 72.5,112 72.9,112 73.3,112 73.7,112 74.2,112 74.6,112.1 75,112.1 75.4,112.1 75.8,112.1 76.2,112.1 76.6,112.1 77,112.2 77.4,112.2 77.8,112.2 78.2,112.2 78.6,112.2 79,112.3 79.4,112.3 79.8,112.3 80.2,112.3 80.6,112.3 81.1,112.4 81.5,112.4 81.9,112.4 82.3,112.4 82.7,112.4 83.1,112.5 83.5,112.5 83.9,112.5 84.3,112.5 84.7,112.6 85.1,112.6 85.5,112.6 85.9,112.6 86.3,112.7 86.7,112.7 87.1,112.7 87.5,112.8 88,112.8 88.4,112.8 88.8,112.9 89.2,112.9 89.6,112.9 90,113 90.4,113 90.8,113.1 91.2,113.1 91.6,113.2 92,113.2 92.4,113.3 92.8,113.3 93.2,113.4 93.6,113.4 94,113.5 94.4,113.6 94.9,113.6 95.3,113.7 95.7,113.8 96.1,113.9 96.5,113.9 96.9,114 97.3,114.1 97.7,114.2 98.1,114.3 98.5,114.4 98.9,114.5 99.3,114.6 99.7,114.7 100.1,114.8 100.5,114.9 100.9,115.1 101.3,115.2 101.8,115.3 102.2,115.5 102.6,115.6 103,115.8 103.4,115.9 103.8,116.1 104.2,116.2 104.6,116.4 105,116.6 105.4,116.8 105.8,117 106.2,117.2 106.6,117.4 107,117.6 107.4,117.8 107.8,118 108.2,118.2 108.7,118.4 109.1,118.6 109.5,118.8 109.9,119 110.3,119.1 110.7,119.3 111.1,119.5 111.5,119.6 111.9,119.7 112.3,119.9 112.7,120 113.1,120.1 113.5,120.2 113.9,120.3 114.3,120.4 114.7,120.5 115.1,120.5 115.6,120.6 116,120.7 116.4,120.7 116.8,120.8 117.2,120.9 117.6,120.9 118,121 118.4,121 118.8,121 119.2,121.1 119.6,121.1 120,121.2 120.4,121.2 120.8,121.2 121.2,121.2 121.6,121.3 122,121.3 122.5,121.3 122.9,121.4 123.3,121.4 123.7,121.4 124.1,121.4 124.5,121.5 124.9,121.5 125.3,121.5 125.7,121.5 126.1,121.5 126.5,121.6 126.9,121.6 127.3,121.6 127.7,121.6 128.1,121.6 128.5,121.6 129,121.7 129.4,121.7 129.8,121.7 130.2,121.7 130.6,121.7 131,121.8 131.4,121.8 131.8,121.8 132.2,121.8 132.6,121.8 133,121.9 133.4,121.9 133.8,121.9 134.2,121.9 134.6,121.9 135,122 135.4,122 135.9,122 136.3,122 136.7,122 137.1,122.1 137.5,122.1 137.9,122.1 138.3,122.1 138.7,122.1 139.1,122.2 139.5,122.2 139.9,122.2 140.3,122.2 140.7,122.3 141.1,122.3 141.5,122.3 141.9,122.4 142.3,122.4 142.8,122.5 143.2,122.5 143.6,122.6 144,122.6 144.4,122.7 144.8,122.8 145.2,122.9 145.6,122.9 146,123 146.4,123.1 146.8,123.2 147.2,123.3 147.6,123.4 148,123.5 148.4,123.6 148.8,123.7 149.2,123.9 149.7,124 150.1,124.1 150.5,124.2 150.9,124.3 151.3,124.4 151.7,124.6 152.1,124.7 152.5,124.8 152.9,124.9 153.3,124.9 153.7,125 154.1,125.1 154.5,125.1 154.9,125.2 155.3,125.3 155.7,125.3 156.1,125.3 156.6,125.4 157,125.4 157.4,125.4 157.8,125.4 158.2,125.5 158.6,125.5 159,125.5 159.4,125.5 159.8,125.5 160.2,125.5 160.6,125.5 161,125.5 161.4,125.5 161.8,125.6 162.2,125.6 162.6,125.6 163,125.6 163.5,125.6 163.9,125.6 164.3,125.6 164.7,125.6 165.1,125.6 165.5,125.6 165.9,125.6 166.3,125.6 166.7,125.6 167.1,125.6 167.5,125.6 167.9,125.6 168.3,125.6 168.7,125.6 169.1,125.6 169.5,125.7 169.9,125.7 170.4,125.7 170.8,125.7 171.2,125.7 171.6,125.7 172,125.7 172.4,125.7 172.8,125.7 173.2,125.7 173.6,125.7 174,125.7 174.4,125.7 174.8,125.7 175.2,125.7 175.6,125.7 176,125.7 176.4,125.7 176.8,125.7 177.3,125.7 177.7,125.7 178.1,125.7 178.5,125.7 178.9,125.7 179.3,125.7 179.7,125.7 180.1,125.7 180.5,125.7 180.9,125.7 181.3,125.7 181.7,125.7 182.1,125.7 182.5,125.7 182.9,125.7 183.3,125.7 183.7,125.7 184.2,125.7 184.6,125.7 185,125.7 185.4,125.7 185.8,125.8 186.2,125.8 186.6,125.8 187,125.8 187.4,125.8 187.8,125.8 188.2,125.8 188.6,125.8 189,125.8 189.4,125.8 189.8,125.8 190.2,125.8 190.6,125.8 191.1,125.8 191.5,125.8 191.9,125.8 192.3,125.8 192.7,125.8 193.1,125.8 193.5,125.8 193.9,125.8 194.3,125.8 194.7,125.8 195.1,125.8 195.5,125.8 195.9,125.8 196.3,125.8 196.7,125.8 197.1,125.8 197.6,125.8 198,125.8 198.4,125.8 198.8,125.8 199.2,125.8 199.6,125.8" fill="none" stroke="#ef8080" stroke-width="1" stroke-linejoin="round" stroke-linecap="round" />
<path d="M29.5,110.2L29.9,110.2 30.3,110.2 30.7,110.2 31.1,110.2 31.5,110.2 31.9,110.2 32.3,110.2 32.7,110.2 33.2,110.2 33.6,110.2 34,110.2 34.4,110.2 34.8,110.1 35.2,110.1 35.6,110.1 36,110.1 36.4,110.1 36.8,110.1 37.2,110.1 37.6,110.1 38,110.1 38.4,110.1 38.8,110.1 39.2,110.1 39.6,110.1 40.1,110 40.5,110 40.9,110 41.3,110 41.7,110 42.1,110 42.5,110 42.9,109.9 43.3,109.9 43.7,109.9 44.1,109.9 44.5,109.9 44.9,109.8 45.3,109.8 45.7,109.8 46.1,109.8 46.5,109.8 47,109.7 47.4,109.7 47.8,109.7 48.2,109.6 48.6,109.6 49,109.6 49.4,109.5 49.8,109.5 50.2,109.4 50.6,109.4 51,109.4 51.4,109.3 51.8,109.3 52.2,109.2 52.6,109.2 53,109.1 53.4,109 53.9,109 54.3,108.9 54.7,108.8 55.1,108.8 55.5,108.7 55.9,108.6 56.3,108.6 56.7,108.5 57.1,108.4 57.5,108.3 57.9,108.2 58.3,108.1 58.7,108 59.1,107.9 59.5,107.9 59.9,107.8 60.3,107.7 60.8,107.6 61.2,107.4 61.6,107.3 62,107.2 62.4,107.1 62.8,107 63.2,106.9 63.6,106.8 64,106.7 64.4,106.6 64.8,106.5 65.2,106.3 65.6,106.2 66,106.1 66.4,106 66.8,105.9 67.3,105.8 67.7,105.7 68.1,105.5 68.5,105.4 68.9,105.3 69.3,105.2 69.7,105.1 70.1,105 70.5,104.9 70.9,104.8 71.3,104.7 71.7,104.6 72.1,104.5 72.5,104.4 72.9,104.3 73.3,104.2 73.7,104.1 74.2,104 74.6,103.9 75,103.8 75.4,103.7 75.8,103.6 76.2,103.5 76.6,103.5 77,103.4 77.4,103.3 77.8,103.2 78.2,103.1 78.6,103 79,102.8 79.4,102.7 79.8,102.6 80.2,102.5 80.6,102.3 81.1,102.2 81.5,102 81.9,101.9 82.3,101.7 82.7,101.5 83.1,101.3 83.5,101 83.9,100.8 84.3,100.5 84.7,100.2 85.1,99.8 85.5,99.5 85.9,99.1 86.3,98.6 86.7,98.2 87.1,97.7 87.5,97.1 88,96.5 88.4,95.9 88.8,95.2 89.2,94.5 89.6,93.7 90,92.9 90.4,92 90.8,91 91.2,90 91.6,89 92,87.9 92.4,86.7 92.8,85.4 93.2,84.1 93.6,82.8 94,81.4 94.4,79.9 94.9,78.4 95.3,76.9 95.7,75.3 96.1,73.7 96.5,72.1 96.9,70.5 97.3,68.8 97.7,67.1 98.1,65.5 98.5,63.8 98.9,62 99.3,60.3 99.7,58.5 100.1,56.6 100.5,54.6 100.9,52.5 101.3,50.3 101.8,47.8 102.2,45.2 102.6,42.4 103,39.3 103.4,36.1 103.8,32.7 104.2,29.2 104.6,25.7 105,22.3 105.4,19.2 105.8,16.6 106.2,14.6 106.6,13.4 107,13.3 107.4,14.2 107.8,15.9 108.2,18.3 108.7,21.5 109.1,25.1 109.5,29.2 109.9,33.6 110.3,38.2 110.7,42.9 111.1,47.6 111.5,52.2 111.9,56.6 112.3,60.9 112.7,65 113.1,68.9 113.5,72.5 113.9,75.9 114.3,79 114.7,81.9 115.1,84.6 115.6,87.1 116,89.4 116.4,91.5 116.8,93.4 117.2,95.2 117.6,96.8 118,98.3 118.4,99.6 118.8,100.8 119.2,101.9 119.6,102.9 120,103.8 120.4,104.6 120.8,105.4 121.2,106 121.6,106.6 122,107.2 122.5,107.7 122.9,108.1 123.3,108.4 123.7,108.8 124.1,109 124.5,109.2 124.9,109.4 125.3,109.5 125.7,109.6 126.1,109.7 126.5,109.6 126.9,109.6 127.3,109.5 127.7,109.4 128.1,109.2 128.5,109 129,108.8 129.4,108.6 129.8,108.3 130.2,108 130.6,107.6 131,107.3 131.4,106.9 131.8,106.6 132.2,106.2 132.6,105.8 133,105.4 133.4,105.1 133.8,104.7 134.2,104.4 134.6,104.1 135,103.8 135.4,103.6 135.9,103.3 136.3,103.1 136.7,103 137.1,102.8 137.5,102.7 137.9,102.6 138.3,102.4 138.7,102.3 139.1,102.1 139.5,101.8 139.9,101.5 140.3,101 140.7,100.4 141.1,99.6 141.5,98.7 141.9,97.6 142.3,96.4 142.8,95 143.2,93.5 143.6,91.9 144,90.3 144.4,88.7 144.8,87.2 145.2,85.8 145.6,84.6 146,83.5 146.4,82.6 146.8,81.8 147.2,81.1 147.6,80.5 148,80 148.4,79.4 148.8,79 149.2,78.6 149.7,78.4 150.1,78.5 150.5,79.1 150.9,80.2 151.3,81.9 151.7,84.1 152.1,86.6 152.5,89.3 152.9,92.3 153.3,95.3 153.7,98.2 154.1,101.1 154.5,103.8 154.9,106.3 155.3,108.6 155.7,110.6 156.1,112.5 156.6,114.1 157,115.5 157.4,116.7 157.8,117.7 158.2,118.5 158.6,119.3 159,119.9 159.4,120.3 159.8,120.8 160.2,121.1 160.6,121.4 161,121.6 161.4,121.8 161.8,122 162.2,122.2 162.6,122.3 163,122.4 163.5,122.5 163.9,122.7 164.3,122.7 164.7,122.8 165.1,122.9 165.5,123 165.9,123.1 166.3,123.1 166.7,123.2 167.1,123.2 167.5,123.3 167.9,123.4 168.3,123.4 168.7,123.5 169.1,123.5 169.5,123.5 169.9,123.6 170.4,123.6 170.8,123.7 171.2,123.7 171.6,123.7 172,123.8 172.4,123.8 172.8,123.8 173.2,123.9 173.6,123.9 174,123.9 174.4,123.9 174.8,124 175.2,124 175.6,124 176,124 176.4,124.1 176.8,124.1 177.3,124.1 177.7,124.1 178.1,124.1 178.5,124.2 178.9,124.2 179.3,124.2 179.7,124.2 180.1,124.2 180.5,124.3 180.9,124.3 181.3,124.3 181.7,124.3 182.1,124.3 182.5,124.3 182.9,124.4 183.3,124.4 183.7,124.4 184.2,124.4 184.6,124.4 185,124.4 185.4,124.4 185.8,124.4 186.2,124.5 186.6,124.5 187,124.5 187.4,124.5 187.8,124.5 188.2,124.5 188.6,124.5 189,124.5 189.4,124.5 189.8,124.6 190.2,124.6 190.6,124.6 191.1,124.6 191.5,124.6 191.9,124.6 192.3,124.6 192.7,124.6 193.1,124.6 193.5,124.6 193.9,124.6 194.3,124.7 194.7,124.7 195.1,124.7 195.5,124.7 195.9,124.7 196.3,124.7 196.7,124.7 197.1,124.7 197.6,124.7 198,124.7 198.4,124.7 198.8,124.7 199.2,124.7 199.6,124.8" fill="none" stroke="#6d6d6d" stroke-width="1" stroke-linejoin="round" stroke-linecap="round" />
<rect x="29.5" y="2.6" width="170.1" height="135.5" fill="none" stroke="#111" stroke-width="1.1" />
<line x1="29.5" y1="138.1" x2="29.5" y2="140.6" stroke="#111" stroke-width="0.9" />
<text x="29.5" y="147.8" font-size="6.8" fill="#000" text-anchor="middle" stroke="#000" stroke-width="0.22">292</text>
<line x1="72.02" y1="138.1" x2="72.02" y2="140.6" stroke="#111" stroke-width="0.9" />
<text x="72.02" y="147.8" font-size="6.8" fill="#000" text-anchor="middle" stroke="#000" stroke-width="0.22">288</text>
<line x1="114.54" y1="138.1" x2="114.54" y2="140.6" stroke="#111" stroke-width="0.9" />
<text x="114.54" y="147.8" font-size="6.8" fill="#000" text-anchor="middle" stroke="#000" stroke-width="0.22">284</text>
<line x1="157.06" y1="138.1" x2="157.06" y2="140.6" stroke="#111" stroke-width="0.9" />
<text x="157.06" y="147.8" font-size="6.8" fill="#000" text-anchor="middle" stroke="#000" stroke-width="0.22">280</text>
<line x1="199.58" y1="138.1" x2="199.58" y2="140.6" stroke="#111" stroke-width="0.9" />
<text x="199.58" y="147.8" font-size="6.8" fill="#000" text-anchor="middle" stroke="#000" stroke-width="0.22">276</text>
<text x="114.7" y="161.1" font-size="9.46" fill="#000" text-anchor="middle" font-weight="bold" textLength="85" lengthAdjust="spacingAndGlyphs" stroke="#000" stroke-width="0.08">Binding energy (eV)</text>
<text x="24" y="70.4" font-size="9.9" fill="#000" text-anchor="middle" font-weight="bold" textLength="61" lengthAdjust="spacingAndGlyphs" transform="rotate(-90 24 70.4)" stroke="#000" stroke-width="0.08">Intensity (a.u.)</text>
<text x="-1.8" y="15.8" font-size="20" fill="#000" text-anchor="start" >a</text>
<text x="34.3" y="12.7" font-size="8.14" fill="#000" text-anchor="start" textLength="43.8" lengthAdjust="spacingAndGlyphs" stroke="#000" stroke-width="0.22">Ru NPs/TiN</text>
<text x="134.7" y="27.3" font-size="8.14" fill="#000" text-anchor="start" textLength="43" lengthAdjust="spacingAndGlyphs" stroke="#000" stroke-width="0.22">C1<tspan font-style="italic">s</tspan>+Ru 3<tspan font-style="italic">d</tspan></text>
<text x="111.8" y="31.3" font-size="7.92" fill="#2a8796" text-anchor="start" textLength="14.2" lengthAdjust="spacingAndGlyphs" stroke="#2a8796" stroke-width="0.22">C-C</text>
<text x="76.5" y="84" font-size="7.92" fill="#35a9ba" text-anchor="start" textLength="14.2" lengthAdjust="spacingAndGlyphs" stroke="#35a9ba" stroke-width="0.22">C-N</text>
<text x="66.2" y="120.8" font-size="7.92" fill="#4fc5d8" text-anchor="start" textLength="14.2" lengthAdjust="spacingAndGlyphs" stroke="#4fc5d8" stroke-width="0.22">C-O</text>
<text x="121.3" y="131.6" font-size="7.92" fill="#f3a0a0" text-anchor="start" textLength="23.5" lengthAdjust="spacingAndGlyphs" stroke="#f3a0a0" stroke-width="0.22">C-Ti-N</text>
<text x="125.8" y="93.5" font-size="7.8" fill="#e84a4a" text-anchor="start" stroke="#e84a4a" stroke-width="0.22">Ru<tspan font-size="5" dy="-3.6">&#948;+</tspan></text>
<text x="158" y="101.6" font-size="8.4" fill="#c8252b" text-anchor="start" stroke="#c8252b" stroke-width="0.22">Ru<tspan font-size="6" dy="-4">0</tspan></text>
<defs><clipPath id="cb"><rect x="268.6" y="2.6" width="169" height="135.8"/></clipPath><clipPath id="cbi"><rect x="365.5" y="71.4" width="67.1" height="53.8"/></clipPath></defs>
<g clip-path="url(#cb)">
<path d="M268.8,121.5L269.2,121.5 269.6,121.5 270.1,121.5 270.5,121.5 270.9,121.5 271.3,121.5 271.7,121.5 272.2,121.5 272.6,121.5 273,121.5 273.4,121.5 273.9,121.5 274.3,121.5 274.7,121.4 275.1,121.4 275.5,121.4 276,121.4 276.4,121.4 276.8,121.4 277.2,121.4 277.6,121.4 278.1,121.4 278.5,121.4 278.9,121.4 279.3,121.3 279.7,121.3 280.2,121.3 280.6,121.3 281,121.3 281.4,121.3 281.9,121.3 282.3,121.3 282.7,121.3 283.1,121.2 283.5,121.2 284,121.2 284.4,121.2 284.8,121.2 285.2,121.2 285.6,121.2 286.1,121.1 286.5,121.1 286.9,121.1 287.3,121.1 287.7,121.1 288.2,121 288.6,121 289,121 289.4,121 289.9,120.9 290.3,120.9 290.7,120.9 291.1,120.8 291.5,120.8 292,120.8 292.4,120.7 292.8,120.7 293.2,120.6 293.6,120.6 294.1,120.6 294.5,120.5 294.9,120.5 295.3,120.4 295.7,120.4 296.2,120.3 296.6,120.3 297,120.3 297.4,120.2 297.9,120.2 298.3,120.1 298.7,120.1 299.1,120 299.5,120 300,120 300.4,119.9 300.8,119.9 301.2,119.8 301.6,119.8 302.1,119.7 302.5,119.7 302.9,119.6 303.3,119.5 303.7,119.5 304.2,119.4 304.6,119.3 305,119.3 305.4,119.2 305.9,119.1 306.3,119 306.7,118.9 307.1,118.8 307.5,118.7 308,118.6 308.4,118.4 308.8,118.2 309.2,118.1 309.6,117.9 310.1,117.7 310.5,117.4 310.9,117.2 311.3,116.9 311.7,116.6 312.2,116.2 312.6,115.7 313,115.3 313.4,114.8 313.9,114.2 314.3,113.7 314.7,113 315.1,112.3 315.5,111.5 316,110.7 316.4,109.8 316.8,108.8 317.2,107.8 317.6,106.7 318.1,105.5 318.5,104.2 318.9,102.8 319.3,101.3 319.7,99.7 320.2,98 320.6,96.2 321,94.3 321.4,92.1 321.9,89.8 322.3,87.4 322.7,84.9 323.1,82.2 323.5,79.3 324,76.3 324.4,73.3 324.8,70.4 325.2,67.6 325.6,65 326.1,62.8 326.5,60.8 326.9,58.7 327.3,56.8 327.7,55 328.2,53.3 328.6,51.9 329,50.6 329.4,49.6 329.9,48.7 330.3,47.8 330.7,47.1 331.1,46.4 331.5,45.8 332,45.3 332.4,44.8 332.8,44.4 333.2,44 333.6,43.6 334.1,43.2 334.5,42.9 334.9,42.6 335.3,42.3 335.7,42 336.2,41.9 336.6,41.7 337,41.6 337.4,41.6 337.9,41.5 338.3,41.5 338.7,41.5 339.1,41.4 339.5,41.4 340,41.4 340.4,41.4 340.8,41.3 341.2,41.3 341.6,41.3 342.1,41.3 342.5,41.2 342.9,41.2 343.3,41.1 343.7,41 344.2,40.9 344.6,40.7 345,40.4 345.4,40.1 345.9,39.7 346.3,39.4 346.7,38.9 347.1,38.5 347.5,38.1 348,37.7 348.4,37.3 348.8,37 349.2,36.6 349.6,36.1 350.1,35.6 350.5,35.2 350.9,34.6 351.3,34.1 351.7,33.7 352.2,33.2 352.6,32.8 353,32.4 353.4,32.1 353.9,31.8 354.3,31.7 354.7,31.6 355.1,31.6 355.5,31.7 356,31.9 356.4,32.1 356.8,32.3 357.2,32.6 357.6,32.8 358.1,33.1 358.5,33.3 358.9,33.6 359.3,33.9 359.7,34.2 360.2,34.6 360.6,35 361,35.3 361.4,35.7 361.9,36.1 362.3,36.5 362.7,36.9 363.1,37.3 363.5,37.7 364,38 364.4,38.3 364.8,38.6 365.2,38.8 365.6,39 366.1,39.1 366.5,39.2 366.9,39.4 367.3,39.5 367.7,39.6 368.2,39.7 368.6,39.8 369,39.9 369.4,40 369.9,40.1 370.3,40.2 370.7,40.2 371.1,40.3 371.5,40.3 372,40.3 372.4,40.3 372.8,40.3 373.2,40.2 373.6,40.2 374.1,40.1 374.5,40 374.9,39.9 375.3,39.8 375.7,39.7 376.2,39.5 376.6,39.4 377,39.2 377.4,39 377.9,38.8 378.3,38.7 378.7,38.5 379.1,38.3 379.5,38.1 380,37.9 380.4,37.7 380.8,37.5 381.2,37.3 381.6,37.1 382.1,36.9 382.5,36.7 382.9,36.5 383.3,36.3 383.7,36.1 384.2,36 384.6,35.8 385,35.6 385.4,35.4 385.9,35.2 386.3,35 386.7,34.8 387.1,34.6 387.5,34.4 388,34.2 388.4,34 388.8,33.8 389.2,33.6 389.6,33.5 390.1,33.4 390.5,33.4 390.9,33.3 391.3,33.3 391.7,33.3 392.2,33.4 392.6,33.4 393,33.4 393.4,33.5 393.9,33.5 394.3,33.6 394.7,33.7 395.1,33.8 395.5,33.8 396,33.9 396.4,34 396.8,34.1 397.2,34.2 397.6,34.3 398.1,34.4 398.5,34.5 398.9,34.6 399.3,34.7 399.7,34.8 400.2,34.9 400.6,35 401,35.2 401.4,35.3 401.9,35.5 402.3,35.6 402.7,35.8 403.1,36 403.5,36.1 404,36.2 404.4,36.4 404.8,36.5 405.2,36.6 405.6,36.7 406.1,36.8 406.5,36.9 406.9,37 407.3,37.1 407.7,37.1 408.2,37.2 408.6,37.3 409,37.4 409.4,37.4 409.9,37.5 410.3,37.6 410.7,37.6 411.1,37.6 411.5,37.7 412,37.7 412.4,37.7 412.8,37.6 413.2,37.6 413.6,37.6 414.1,37.5 414.5,37.5 414.9,37.4 415.3,37.3 415.7,37.2 416.2,37.2 416.6,37.1 417,37 417.4,36.9 417.9,36.8 418.3,36.7 418.7,36.6 419.1,36.5 419.5,36.4 420,36.3 420.4,36.2 420.8,36.1 421.2,36 421.6,35.9 422.1,35.8 422.5,35.6 422.9,35.5 423.3,35.3 423.7,35.2 424.2,35.1 424.6,34.9 425,34.8 425.4,34.6 425.9,34.5 426.3,34.3 426.7,34.2 427.1,34.1 427.5,33.9 428,33.8 428.4,33.7 428.8,33.6 429.2,33.5 429.6,33.5 430.1,33.4 430.5,33.4 430.9,33.3 431.3,33.3 431.7,33.3 432.2,33.3 432.6,33.4 433,33.5 433.4,33.5 433.9,33.6 434.3,33.7 434.7,33.9 435.1,34 435.5,34.1 436,34.3 436.4,34.4 436.8,34.6" fill="none" stroke="#c8c8c8" stroke-width="1.2" stroke-linejoin="round" stroke-linecap="round" />
<path d="M268.8,121.5L269.2,121.5 269.6,121.5 270.1,121.5 270.5,121.5 270.9,121.5 271.3,121.5 271.7,121.5 272.2,121.5 272.6,121.5 273,121.5 273.4,121.5 273.9,121.5 274.3,121.5 274.7,121.5 275.1,121.5 275.5,121.5 276,121.5 276.4,121.5 276.8,121.5 277.2,121.5 277.6,121.5 278.1,121.5 278.5,121.5 278.9,121.5 279.3,121.5 279.7,121.5 280.2,121.5 280.6,121.5 281,121.5 281.4,121.5 281.9,121.5 282.3,121.5 282.7,121.5 283.1,121.5 283.5,121.5 284,121.5 284.4,121.5 284.8,121.5 285.2,121.5 285.6,121.5 286.1,121.5 286.5,121.5 286.9,121.5 287.3,121.5 287.7,121.5 288.2,121.5 288.6,121.5 289,121.5 289.4,121.5 289.9,121.5 290.3,121.5 290.7,121.5 291.1,121.5 291.5,121.5 292,121.5 292.4,121.5 292.8,121.5 293.2,121.5 293.6,121.5 294.1,121.5 294.5,121.5 294.9,121.5 295.3,121.5 295.7,121.5 296.2,121.5 296.6,121.5 297,121.5 297.4,121.5 297.9,121.5 298.3,121.5 298.7,121.5 299.1,121.5 299.5,121.5 300,121.5 300.4,121.5 300.8,121.5 301.2,121.4 301.6,121.4 302.1,121.4 302.5,121.4 302.9,121.4 303.3,121.3 303.7,121.3 304.2,121.3 304.6,121.2 305,121.2 305.4,121.2 305.9,121.1 306.3,121.1 306.7,121.1 307.1,121 307.5,121 308,120.9 308.4,120.9 308.8,120.9 309.2,120.8 309.6,120.8 310.1,120.7 310.5,120.7 310.9,120.6 311.3,120.6 311.7,120.5 312.2,120.5 312.6,120.4 313,120.3 313.4,120.3 313.9,120.2 314.3,120.1 314.7,120 315.1,119.9 315.5,119.8 316,119.7 316.4,119.6 316.8,119.5 317.2,119.3 317.6,119.2 318.1,119 318.5,118.9 318.9,118.7 319.3,118.6 319.7,118.4 320.2,118.1 320.6,117.8 321,117.5 321.4,117.1 321.9,116.7 322.3,116.3 322.7,115.8 323.1,115.3 323.5,114.7 324,114.1 324.4,113.4 324.8,112.7 325.2,112 325.6,111.3 326.1,110.6 326.5,109.9 326.9,109.1 327.3,108.4 327.7,107.6 328.2,106.7 328.6,105.9 329,105 329.4,104.1 329.9,103.1 330.3,102 330.7,100.8 331.1,99.5 331.5,97.9 332,96.2 332.4,94.4 332.8,92.7 333.2,90.9 333.6,88.9 334.1,86.6 334.5,83.9 334.9,80.7 335.3,77.2 335.7,73.4 336.2,69.4 336.6,65.3 337,60.6 337.4,55.5 337.9,50.3 338.3,45.6 338.7,41.5 339.1,37.7 339.5,34.2 340,31.1 340.4,28.4 340.8,25.9 341.2,23.7 341.6,21.8 342.1,20.3 342.5,18.9 342.9,17.7 343.3,17 343.7,16.7 344.2,16.6 344.6,16.6 345,16.5 345.4,16.4 345.9,16.4 346.3,16.3 346.7,16.3 347.1,16.3 347.5,16.3 348,16.3 348.4,16.3 348.8,16.4 349.2,16.5 349.6,16.6 350.1,16.7 350.5,16.9 350.9,17.1 351.3,17.2 351.7,17.5 352.2,17.8 352.6,18.3 353,18.9 353.4,19.6 353.9,20.4 354.3,21.3 354.7,22.2 355.1,23.1 355.5,24.2 356,25.5 356.4,27 356.8,28.7 357.2,30.4 357.6,32.1 358.1,33.6 358.5,34.8 358.9,35.9 359.3,37 359.7,38 360.2,39 360.6,39.9 361,40.7 361.4,41.3 361.9,41.9 362.3,42.3 362.7,42.7 363.1,43.1 363.5,43.5 364,43.8 364.4,44.1 364.8,44.4 365.2,44.6 365.6,44.8 366.1,45 366.5,45.1 366.9,45.2 367.3,45.2 367.7,45.2 368.2,45.1 368.6,45.1 369,45.1 369.4,45.1 369.9,45.1 370.3,45 370.7,45 371.1,45 371.5,44.9 372,44.9 372.4,44.8 372.8,44.8 373.2,44.7 373.6,44.7 374.1,44.6 374.5,44.6 374.9,44.5 375.3,44.4 375.7,44.3 376.2,44.2 376.6,44 377,43.8 377.4,43.7 377.9,43.5 378.3,43.3 378.7,43 379.1,42.8 379.5,42.6 380,42.3 380.4,42.1 380.8,41.8 381.2,41.6 381.6,41.3 382.1,41 382.5,40.8 382.9,40.5 383.3,40.3 383.7,40 384.2,39.7 384.6,39.5 385,39.2 385.4,39 385.9,38.7 386.3,38.4 386.7,38 387.1,37.7 387.5,37.4 388,37 388.4,36.7 388.8,36.4 389.2,36.1 389.6,35.7 390.1,35.4 390.5,35.1 390.9,34.9 391.3,34.6 391.7,34.4 392.2,34.1 392.6,33.9 393,33.8 393.4,33.6 393.9,33.5 394.3,33.4 394.7,33.2 395.1,33.1 395.5,33 396,32.8 396.4,32.7 396.8,32.6 397.2,32.5 397.6,32.3 398.1,32.2 398.5,32.1 398.9,32 399.3,32 399.7,31.9 400.2,31.8 400.6,31.7 401,31.7 401.4,31.6 401.9,31.6 402.3,31.6 402.7,31.5 403.1,31.5 403.5,31.5 404,31.6 404.4,31.6 404.8,31.7 405.2,31.7 405.6,31.8 406.1,31.9 406.5,32.1 406.9,32.2 407.3,32.3 407.7,32.5 408.2,32.6 408.6,32.7 409,32.9 409.4,33 409.9,33.2 410.3,33.3 410.7,33.5 411.1,33.6 411.5,33.7 412,33.8 412.4,34 412.8,34.1 413.2,34.2 413.6,34.4 414.1,34.5 414.5,34.7 414.9,34.8 415.3,35 415.7,35.1 416.2,35.3 416.6,35.4 417,35.6 417.4,35.7 417.9,35.9 418.3,36 418.7,36.1 419.1,36.2 419.5,36.3 420,36.4 420.4,36.5 420.8,36.6 421.2,36.7 421.6,36.7 422.1,36.8 422.5,36.8 422.9,36.9 423.3,36.9 423.7,36.9 424.2,37 424.6,37 425,37.1 425.4,37.1 425.9,37.1 426.3,37.2 426.7,37.2 427.1,37.2 427.5,37.3 428,37.3 428.4,37.3 428.8,37.4 429.2,37.4 429.6,37.4 430.1,37.4 430.5,37.5 430.9,37.5 431.3,37.5 431.7,37.5 432.2,37.6 432.6,37.6 433,37.6 433.4,37.6 433.9,37.6 434.3,37.6 434.7,37.6 435.1,37.6 435.5,37.7 436,37.7 436.4,37.7 436.8,37.7" fill="none" stroke="#45c1d6" stroke-width="1.2" stroke-linejoin="round" stroke-linecap="round" />
<path d="M268.8,121.5L269.2,121.5 269.6,121.5 270.1,121.5 270.5,121.5 270.9,121.5 271.3,121.5 271.7,121.5 272.2,121.5 272.6,121.5 273,121.4 273.4,121.4 273.9,121.4 274.3,121.4 274.7,121.4 275.1,121.4 275.5,121.4 276,121.4 276.4,121.4 276.8,121.4 277.2,121.4 277.6,121.4 278.1,121.4 278.5,121.4 278.9,121.4 279.3,121.3 279.7,121.3 280.2,121.3 280.6,121.3 281,121.3 281.4,121.3 281.9,121.3 282.3,121.3 282.7,121.3 283.1,121.3 283.5,121.3 284,121.3 284.4,121.3 284.8,121.3 285.2,121.3 285.6,121.2 286.1,121.2 286.5,121.2 286.9,121.2 287.3,121.2 287.7,121.2 288.2,121.2 288.6,121.2 289,121.2 289.4,121.2 289.9,121.2 290.3,121.2 290.7,121.2 291.1,121.1 291.5,121.1 292,121.1 292.4,121.1 292.8,121.1 293.2,121.1 293.6,121.1 294.1,121.1 294.5,121.1 294.9,121.1 295.3,121.1 295.7,121.1 296.2,121 296.6,121 297,121 297.4,121 297.9,121 298.3,121 298.7,121 299.1,121 299.5,120.9 300,120.9 300.4,120.9 300.8,120.9 301.2,120.9 301.6,120.9 302.1,120.9 302.5,120.8 302.9,120.8 303.3,120.8 303.7,120.8 304.2,120.8 304.6,120.7 305,120.7 305.4,120.7 305.9,120.7 306.3,120.7 306.7,120.6 307.1,120.6 307.5,120.6 308,120.5 308.4,120.5 308.8,120.5 309.2,120.4 309.6,120.4 310.1,120.4 310.5,120.3 310.9,120.3 311.3,120.2 311.7,120.2 312.2,120.1 312.6,120.1 313,120 313.4,119.9 313.9,119.8 314.3,119.7 314.7,119.6 315.1,119.4 315.5,119.3 316,119.2 316.4,119 316.8,118.9 317.2,118.7 317.6,118.5 318.1,118.4 318.5,118.2 318.9,118 319.3,117.8 319.7,117.6 320.2,117.4 320.6,117.1 321,116.7 321.4,116.3 321.9,115.9 322.3,115.4 322.7,115 323.1,114.4 323.5,113.8 324,113.1 324.4,112.3 324.8,111.5 325.2,110.7 325.6,109.9 326.1,109 326.5,108.1 326.9,107.1 327.3,106.1 327.7,105.1 328.2,104.1 328.6,103.1 329,102.1 329.4,101 329.9,99.9 330.3,98.7 330.7,97.4 331.1,96 331.5,94.4 332,92.7 332.4,91.1 332.8,89.5 333.2,87.8 333.6,86.1 334.1,84 334.5,81.6 334.9,78.8 335.3,75.6 335.7,72.3 336.2,69 336.6,65.6 337,61.9 337.4,58.1 337.9,54.3 338.3,50.8 338.7,47.9 339.1,45.2 339.5,42.7 340,40.7 340.4,39.1 340.8,37.7 341.2,36.5 341.6,35.4 342.1,34.4 342.5,33.5 342.9,32.7 343.3,32 343.7,31.3 344.2,30.7 344.6,30.1 345,29.6 345.4,29.1 345.9,28.7 346.3,28.4 346.7,28.3 347.1,28.2 347.5,28.1 348,28 348.4,28 348.8,28.1 349.2,28.2 349.6,28.3 350.1,28.4 350.5,28.6 350.9,28.8 351.3,29 351.7,29.2 352.2,29.4 352.6,29.7 353,29.9 353.4,30.2 353.9,30.5 354.3,30.7 354.7,31 355.1,31.3 355.5,31.7 356,32.1 356.4,32.5 356.8,33 357.2,33.4 357.6,33.9 358.1,34.3 358.5,34.7 358.9,35.1 359.3,35.5 359.7,35.9 360.2,36.3 360.6,36.7 361,37 361.4,37.4 361.9,37.8 362.3,38.1 362.7,38.5 363.1,38.8 363.5,39 364,39.3 364.4,39.5 364.8,39.7 365.2,39.9 365.6,40.1 366.1,40.3 366.5,40.5 366.9,40.7 367.3,40.9 367.7,41.1 368.2,41.3 368.6,41.4 369,41.6 369.4,41.7 369.9,41.8 370.3,41.9 370.7,42 371.1,42 371.5,42.1 372,42.1 372.4,42.1 372.8,42.1 373.2,42 373.6,42 374.1,41.9 374.5,41.9 374.9,41.8 375.3,41.7 375.7,41.6 376.2,41.5 376.6,41.4 377,41.3 377.4,41.2 377.9,41 378.3,40.9 378.7,40.7 379.1,40.6 379.5,40.4 380,40.3 380.4,40.1 380.8,39.9 381.2,39.8 381.6,39.6 382.1,39.4 382.5,39.2 382.9,39.1 383.3,38.9 383.7,38.7 384.2,38.5 384.6,38.3 385,38.1 385.4,37.9 385.9,37.6 386.3,37.3 386.7,37 387.1,36.7 387.5,36.3 388,36 388.4,35.7 388.8,35.3 389.2,35 389.6,34.7 390.1,34.4 390.5,34.2 390.9,34 391.3,33.8 391.7,33.6 392.2,33.5 392.6,33.3 393,33.2 393.4,33 393.9,32.9 394.3,32.7 394.7,32.6 395.1,32.5 395.5,32.4 396,32.3 396.4,32.2 396.8,32.1 397.2,32.1 397.6,32 398.1,32 398.5,32.1 398.9,32.1 399.3,32.1 399.7,32.2 400.2,32.3 400.6,32.4 401,32.5 401.4,32.6 401.9,32.7 402.3,32.9 402.7,33 403.1,33.2 403.5,33.3 404,33.5 404.4,33.6 404.8,33.8 405.2,33.9 405.6,34.1 406.1,34.2 406.5,34.3 406.9,34.5 407.3,34.6 407.7,34.7 408.2,34.8 408.6,34.9 409,35.1 409.4,35.2 409.9,35.3 410.3,35.4 410.7,35.6 411.1,35.7 411.5,35.8 412,35.9 412.4,36 412.8,36.2 413.2,36.3 413.6,36.4 414.1,36.5 414.5,36.5 414.9,36.6 415.3,36.7 415.7,36.7 416.2,36.8 416.6,36.8 417,36.8 417.4,36.9 417.9,36.9 418.3,37 418.7,37 419.1,37 419.5,37.1 420,37.1 420.4,37.1 420.8,37.2 421.2,37.2 421.6,37.2 422.1,37.2 422.5,37.3 422.9,37.3 423.3,37.3 423.7,37.3 424.2,37.3 424.6,37.3 425,37.3 425.4,37.3 425.9,37.3 426.3,37.3 426.7,37.3 427.1,37.3 427.5,37.3 428,37.3 428.4,37.3 428.8,37.3 429.2,37.3 429.6,37.3 430.1,37.3 430.5,37.3 430.9,37.3 431.3,37.3 431.7,37.3 432.2,37.3 432.6,37.3 433,37.3 433.4,37.3 433.9,37.3 434.3,37.3 434.7,37.3 435.1,37.3 435.5,37.3 436,37.3 436.4,37.3 436.8,37.3" fill="none" stroke="#f7931e" stroke-width="1.2" stroke-linejoin="round" stroke-linecap="round" />
<path d="M268.8,121.5L269.2,121.5 269.6,121.5 270.1,121.5 270.5,121.5 270.9,121.5 271.3,121.5 271.7,121.5 272.2,121.5 272.6,121.5 273,121.5 273.4,121.5 273.9,121.5 274.3,121.5 274.7,121.5 275.1,121.5 275.5,121.5 276,121.4 276.4,121.4 276.8,121.4 277.2,121.4 277.6,121.4 278.1,121.4 278.5,121.4 278.9,121.4 279.3,121.4 279.7,121.4 280.2,121.4 280.6,121.4 281,121.4 281.4,121.4 281.9,121.4 282.3,121.4 282.7,121.4 283.1,121.4 283.5,121.4 284,121.4 284.4,121.3 284.8,121.3 285.2,121.3 285.6,121.3 286.1,121.3 286.5,121.3 286.9,121.3 287.3,121.3 287.7,121.3 288.2,121.3 288.6,121.3 289,121.3 289.4,121.3 289.9,121.3 290.3,121.3 290.7,121.2 291.1,121.2 291.5,121.2 292,121.2 292.4,121.2 292.8,121.2 293.2,121.2 293.6,121.2 294.1,121.2 294.5,121.2 294.9,121.2 295.3,121.1 295.7,121.1 296.2,121.1 296.6,121.1 297,121.1 297.4,121.1 297.9,121.1 298.3,121.1 298.7,121.1 299.1,121 299.5,121 300,121 300.4,121 300.8,121 301.2,121 301.6,121 302.1,121 302.5,120.9 302.9,120.9 303.3,120.9 303.7,120.9 304.2,120.9 304.6,120.9 305,120.8 305.4,120.8 305.9,120.8 306.3,120.8 306.7,120.8 307.1,120.7 307.5,120.7 308,120.7 308.4,120.7 308.8,120.6 309.2,120.6 309.6,120.6 310.1,120.5 310.5,120.5 310.9,120.5 311.3,120.4 311.7,120.4 312.2,120.3 312.6,120.3 313,120.2 313.4,120.1 313.9,120 314.3,119.9 314.7,119.8 315.1,119.7 315.5,119.6 316,119.5 316.4,119.3 316.8,119.2 317.2,119.1 317.6,118.9 318.1,118.7 318.5,118.6 318.9,118.4 319.3,118.2 319.7,118 320.2,117.8 320.6,117.5 321,117.1 321.4,116.7 321.9,116.3 322.3,115.9 322.7,115.4 323.1,114.8 323.5,114.2 324,113.5 324.4,112.7 324.8,112 325.2,111.2 325.6,110.5 326.1,109.7 326.5,109 326.9,108.3 327.3,107.5 327.7,106.7 328.2,105.9 328.6,105.1 329,104.3 329.4,103.4 329.9,102.5 330.3,101.5 330.7,100.4 331.1,99.1 331.5,97.7 332,96.1 332.4,94.5 332.8,92.9 333.2,91.3 333.6,89.5 334.1,87.4 334.5,84.9 334.9,81.8 335.3,78.3 335.7,74.7 336.2,70.9 336.6,67.1 337,63 337.4,58.7 337.9,54.4 338.3,50.3 338.7,46.8 339.1,43.4 339.5,40.3 340,37.6 340.4,35.4 340.8,33.5 341.2,31.8 341.6,30.3 342.1,29.1 342.5,28 342.9,27 343.3,26.1 343.7,25.3 344.2,24.7 344.6,24.3 345,24.2 345.4,24.1 345.9,24 346.3,23.9 346.7,23.8 347.1,23.8 347.5,23.8 348,23.8 348.4,23.8 348.8,23.8 349.2,23.9 349.6,24 350.1,24.2 350.5,24.3 350.9,24.5 351.3,24.7 351.7,24.9 352.2,25.2 352.6,25.4 353,25.7 353.4,26 353.9,26.3 354.3,26.8 354.7,27.5 355.1,28.2 355.5,29 356,29.9 356.4,30.8 356.8,31.7 357.2,32.9 357.6,34.2 358.1,35.5 358.5,36.9 358.9,38.1 359.3,39.1 359.7,39.9 360.2,40.5 360.6,41.1 361,41.7 361.4,42.3 361.9,42.7 362.3,43.2 362.7,43.5 363.1,43.8 363.5,44 364,44.3 364.4,44.4 364.8,44.6 365.2,44.8 365.6,44.9 366.1,45 366.5,45.1 366.9,45.2 367.3,45.2 367.7,45.2 368.2,45.1 368.6,45.1 369,45.1 369.4,45.1 369.9,45.1 370.3,45.1 370.7,45 371.1,45 371.5,45 372,45 372.4,44.9 372.8,44.9 373.2,44.9 373.6,44.8 374.1,44.8 374.5,44.7 374.9,44.7 375.3,44.6 375.7,44.5 376.2,44.3 376.6,44.2 377,44 377.4,43.9 377.9,43.7 378.3,43.5 378.7,43.3 379.1,43.1 379.5,42.9 380,42.7 380.4,42.5 380.8,42.2 381.2,42 381.6,41.8 382.1,41.5 382.5,41.3 382.9,41.1 383.3,40.9 383.7,40.6 384.2,40.4 384.6,40.2 385,40 385.4,39.7 385.9,39.5 386.3,39.2 386.7,38.9 387.1,38.7 387.5,38.4 388,38.1 388.4,37.8 388.8,37.5 389.2,37.2 389.6,36.9 390.1,36.7 390.5,36.4 390.9,36.2 391.3,35.9 391.7,35.7 392.2,35.5 392.6,35.3 393,35.1 393.4,34.9 393.9,34.7 394.3,34.5 394.7,34.3 395.1,34.1 395.5,33.9 396,33.7 396.4,33.5 396.8,33.3 397.2,33.2 397.6,33 398.1,32.9 398.5,32.8 398.9,32.7 399.3,32.7 399.7,32.6 400.2,32.6 400.6,32.7 401,32.7 401.4,32.8 401.9,32.8 402.3,32.9 402.7,33 403.1,33.2 403.5,33.3 404,33.4 404.4,33.6 404.8,33.7 405.2,33.9 405.6,34 406.1,34.2 406.5,34.3 406.9,34.4 407.3,34.6 407.7,34.7 408.2,34.8 408.6,35 409,35.1 409.4,35.2 409.9,35.4 410.3,35.5 410.7,35.7 411.1,35.8 411.5,35.9 412,36.1 412.4,36.2 412.8,36.4 413.2,36.5 413.6,36.6 414.1,36.7 414.5,36.9 414.9,37 415.3,37.1 415.7,37.1 416.2,37.2 416.6,37.3 417,37.4 417.4,37.5 417.9,37.5 418.3,37.6 418.7,37.7 419.1,37.8 419.5,37.9 420,37.9 420.4,38 420.8,38.1 421.2,38.1 421.6,38.2 422.1,38.2 422.5,38.3 422.9,38.3 423.3,38.3 423.7,38.4 424.2,38.4 424.6,38.4 425,38.4 425.4,38.4 425.9,38.4 426.3,38.4 426.7,38.5 427.1,38.5 427.5,38.5 428,38.5 428.4,38.5 428.8,38.5 429.2,38.5 429.6,38.5 430.1,38.5 430.5,38.5 430.9,38.5 431.3,38.5 431.7,38.5 432.2,38.5 432.6,38.5 433,38.5 433.4,38.5 433.9,38.5 434.3,38.5 434.7,38.5 435.1,38.5 435.5,38.5 436,38.5 436.4,38.5 436.8,38.5" fill="none" stroke="#ef4b4b" stroke-width="1.2" stroke-linejoin="round" stroke-linecap="round" />
</g>
<rect x="268.6" y="2.6" width="169" height="135.8" fill="none" stroke="#111" stroke-width="1.1" />
<line x1="265.6" y1="121.5" x2="268.6" y2="121.5" stroke="#111" stroke-width="0.9" />
<text x="264.4" y="123.8" font-size="6.2" fill="#000" text-anchor="end" textLength="8.7" lengthAdjust="spacingAndGlyphs" stroke="#000" stroke-width="0.22">0.0</text>
<line x1="265.6" y1="87.42" x2="268.6" y2="87.42" stroke="#111" stroke-width="0.9" />
<text x="264.4" y="89.72" font-size="6.2" fill="#000" text-anchor="end" textLength="8.7" lengthAdjust="spacingAndGlyphs" stroke="#000" stroke-width="0.22">0.4</text>
<line x1="265.6" y1="53.34" x2="268.6" y2="53.34" stroke="#111" stroke-width="0.9" />
<text x="264.4" y="55.64" font-size="6.2" fill="#000" text-anchor="end" textLength="8.7" lengthAdjust="spacingAndGlyphs" stroke="#000" stroke-width="0.22">0.8</text>
<line x1="265.6" y1="19.26" x2="268.6" y2="19.26" stroke="#111" stroke-width="0.9" />
<text x="264.4" y="21.56" font-size="6.2" fill="#000" text-anchor="end" textLength="8.7" lengthAdjust="spacingAndGlyphs" stroke="#000" stroke-width="0.22">1.2</text>
<line x1="268.8" y1="138.4" x2="268.8" y2="140.8" stroke="#111" stroke-width="0.9" />
<text x="268.8" y="147.8" font-size="6.2" fill="#000" text-anchor="middle" textLength="17.3" lengthAdjust="spacingAndGlyphs" stroke="#000" stroke-width="0.22">22050</text>
<line x1="310.8" y1="138.4" x2="310.8" y2="140.8" stroke="#111" stroke-width="0.9" />
<text x="310.8" y="147.8" font-size="6.2" fill="#000" text-anchor="middle" textLength="17.3" lengthAdjust="spacingAndGlyphs" stroke="#000" stroke-width="0.22">22100</text>
<line x1="352.8" y1="138.4" x2="352.8" y2="140.8" stroke="#111" stroke-width="0.9" />
<text x="352.8" y="147.8" font-size="6.2" fill="#000" text-anchor="middle" textLength="17.3" lengthAdjust="spacingAndGlyphs" stroke="#000" stroke-width="0.22">22150</text>
<line x1="394.8" y1="138.4" x2="394.8" y2="140.8" stroke="#111" stroke-width="0.9" />
<text x="394.8" y="147.8" font-size="6.2" fill="#000" text-anchor="middle" textLength="17.3" lengthAdjust="spacingAndGlyphs" stroke="#000" stroke-width="0.22">22200</text>
<line x1="436.8" y1="138.4" x2="436.8" y2="140.8" stroke="#111" stroke-width="0.9" />
<text x="436.8" y="147.8" font-size="6.2" fill="#000" text-anchor="middle" textLength="17.3" lengthAdjust="spacingAndGlyphs" stroke="#000" stroke-width="0.22">22250</text>
<text x="353.2" y="161.4" font-size="9.68" fill="#000" text-anchor="middle" font-weight="bold" textLength="49" lengthAdjust="spacingAndGlyphs" stroke="#000" stroke-width="0.08">Energy (eV)</text>
<text x="254" y="70" font-size="10.12" fill="#000" text-anchor="middle" font-weight="bold" textLength="96.4" lengthAdjust="spacingAndGlyphs" transform="rotate(-90 254 70)" stroke="#000" stroke-width="0.08">Normalized Absorption</text>
<text x="223.6" y="13.2" font-size="20" fill="#000" text-anchor="start" >b</text>
<line x1="272.4" y1="22.2" x2="285.8" y2="22.2" stroke="#f7931e" stroke-width="1.5" />
<text x="287.8" y="24.9" font-size="8.58" fill="#000" text-anchor="start" textLength="40.88" lengthAdjust="spacingAndGlyphs" stroke="#000" stroke-width="0.22">Ru NPs/TiN</text>
<line x1="272.4" y1="31.8" x2="285.8" y2="31.8" stroke="#c8c8c8" stroke-width="1.5" />
<text x="287.8" y="34.5" font-size="8.58" fill="#000" text-anchor="start" textLength="22.11" lengthAdjust="spacingAndGlyphs" stroke="#000" stroke-width="0.22">Ru foil</text>
<line x1="272.4" y1="41.3" x2="285.8" y2="41.3" stroke="#45c1d6" stroke-width="1.5" />
<text x="287.8" y="44" font-size="8.58" fill="#000" text-anchor="start" textLength="19.8" lengthAdjust="spacingAndGlyphs" stroke="#000" stroke-width="0.22">Ru/O<tspan font-size="5.8" dy="1.8">2</tspan></text>
<line x1="272.4" y1="52.4" x2="285.8" y2="52.4" stroke="#ef4b4b" stroke-width="1.5" />
<text x="287.8" y="55.1" font-size="8.58" fill="#000" text-anchor="start" textLength="17.77" lengthAdjust="spacingAndGlyphs" stroke="#000" stroke-width="0.22">Ru/C</text>
<line x1="345" y1="51.6" x2="345" y2="10" stroke="#111" stroke-width="1.2" />
<path d="M345,4.2 L347.1,11.4 L342.9,11.4 Z" fill="#111"/>
<rect x="304.2" y="87.1" width="33.8" height="37.1" fill="none" stroke="#111" stroke-width="1.3" stroke-dasharray="5.3,3.9"/>
<path d="M351.5,93.3 L338.6,105.4 L351.5,115.8" fill="none" stroke="#111" stroke-width="1.3" stroke-dasharray="5.5,4.5"/>
<g clip-path="url(#cbi)">
<path d="M359.6,117.9L359.9,117.9 360.1,117.9 360.4,117.9 360.7,117.9 360.9,117.9 361.2,117.9 361.4,117.9 361.7,117.8 362,117.8 362.2,117.8 362.5,117.8 362.8,117.8 363,117.8 363.3,117.8 363.5,117.7 363.8,117.7 364.1,117.7 364.3,117.7 364.6,117.7 364.9,117.7 365.1,117.6 365.4,117.6 365.7,117.6 365.9,117.6 366.2,117.6 366.4,117.5 366.7,117.5 367,117.5 367.2,117.5 367.5,117.4 367.8,117.4 368,117.4 368.3,117.3 368.5,117.3 368.8,117.3 369.1,117.2 369.3,117.2 369.6,117.2 369.9,117.1 370.1,117.1 370.4,117.1 370.7,117 370.9,117 371.2,116.9 371.4,116.9 371.7,116.9 372,116.8 372.2,116.8 372.5,116.7 372.8,116.7 373,116.7 373.3,116.6 373.5,116.6 373.8,116.5 374.1,116.5 374.3,116.5 374.6,116.4 374.9,116.4 375.1,116.3 375.4,116.3 375.7,116.2 375.9,116.2 376.2,116.2 376.4,116.1 376.7,116.1 377,116 377.2,116 377.5,115.9 377.8,115.9 378,115.8 378.3,115.8 378.5,115.7 378.8,115.7 379.1,115.6 379.3,115.5 379.6,115.5 379.9,115.4 380.1,115.4 380.4,115.3 380.7,115.2 380.9,115.2 381.2,115.1 381.4,115 381.7,115 382,114.9 382.2,114.8 382.5,114.7 382.8,114.7 383,114.6 383.3,114.5 383.5,114.4 383.8,114.3 384.1,114.2 384.3,114.1 384.6,114 384.9,113.9 385.1,113.8 385.4,113.7 385.7,113.6 385.9,113.4 386.2,113.3 386.4,113.2 386.7,113 387,112.9 387.2,112.7 387.5,112.6 387.8,112.4 388,112.3 388.3,112.1 388.5,111.9 388.8,111.7 389.1,111.6 389.3,111.4 389.6,111.2 389.9,110.9 390.1,110.7 390.4,110.4 390.7,110.1 390.9,109.8 391.2,109.5 391.4,109.1 391.7,108.8 392,108.4 392.2,108 392.5,107.6 392.8,107.2 393,106.8 393.3,106.4 393.5,105.9 393.8,105.5 394.1,105 394.3,104.5 394.6,104 394.9,103.5 395.1,102.9 395.4,102.3 395.7,101.7 395.9,101.1 396.2,100.5 396.4,99.8 396.7,99.2 397,98.5 397.2,97.8 397.5,97.1 397.8,96.3 398,95.6 398.3,94.8 398.5,94 398.8,93.2 399.1,92.3 399.3,91.4 399.6,90.4 399.9,89.5 400.1,88.5 400.4,87.5 400.7,86.5 400.9,85.5 401.2,84.5 401.4,83.4 401.7,82.4 402,81.3 402.2,80.2 402.5,79.1 402.8,77.9 403,76.7 403.3,75.5 403.5,74.3 403.8,73 404.1,71.7 404.3,70.2 404.6,68.7 404.9,67.1 405.1,65.5 405.4,63.8 405.7,62.1 405.9,60.3 406.2,58.6 406.4,56.9 406.7,55.2 407,53.5 407.2,51.9 407.5,50.4 407.8,49 408,47.8 408.3,46.6 408.5,45.4 408.8,44.2 409.1,43 409.3,41.9 409.6,40.7 409.9,39.6 410.1,38.4 410.4,37.3 410.7,36.2 410.9,35.1 411.2,34 411.4,32.9 411.7,31.8 412,30.8 412.2,29.8 412.5,28.7 412.8,27.7 413,26.8 413.3,25.8 413.5,24.9 413.8,24 414.1,23.1 414.3,22.2 414.6,21.3 414.9,20.5 415.1,19.7 415.4,18.9 415.7,18.2 415.9,17.4 416.2,16.7 416.4,16.1 416.7,15.4 417,14.8 417.2,14.2 417.5,13.7 417.8,13.1 418,12.7 418.3,12.2 418.6,11.8" fill="none" stroke="#c8c8c8" stroke-width="1.2" stroke-linejoin="round" stroke-linecap="round" />
<path d="M359.6,119.1L359.9,119.1 360.1,119.1 360.4,119.1 360.7,119.1 360.9,119.1 361.2,119.1 361.4,119.1 361.7,119.1 362,119.1 362.2,119.1 362.5,119.1 362.8,119.1 363,119.1 363.3,119.1 363.5,119.1 363.8,119.1 364.1,119.1 364.3,119.1 364.6,119.1 364.9,119.1 365.1,119.1 365.4,119.1 365.6,119.1 365.9,119.1 366.2,119.1 366.4,119.1 366.7,119.1 367,119.1 367.2,119.1 367.5,119.1 367.7,119.1 368,119.1 368.3,119.1 368.5,119.1 368.8,119.1 369.1,119.1 369.3,119.1 369.6,119.1 369.9,119.1 370.1,119.1 370.4,119.1 370.6,119.1 370.9,119.1 371.2,119.1 371.4,119 371.7,119 372,119 372.2,119 372.5,119 372.7,119 373,119 373.3,119 373.5,119 373.8,119 374.1,119 374.3,119 374.6,119 374.8,119 375.1,119 375.4,119 375.6,119 375.9,119 376.2,118.9 376.4,118.9 376.7,118.9 376.9,118.9 377.2,118.9 377.5,118.9 377.7,118.9 378,118.9 378.3,118.9 378.5,118.9 378.8,118.9 379.1,118.9 379.3,118.9 379.6,118.8 379.8,118.8 380.1,118.8 380.4,118.8 380.6,118.8 380.9,118.8 381.2,118.7 381.4,118.7 381.7,118.7 381.9,118.7 382.2,118.6 382.5,118.6 382.7,118.6 383,118.5 383.3,118.5 383.5,118.5 383.8,118.4 384,118.4 384.3,118.3 384.6,118.3 384.8,118.3 385.1,118.2 385.4,118.2 385.6,118.1 385.9,118.1 386.2,118.1 386.4,118 386.7,118 386.9,117.9 387.2,117.9 387.5,117.9 387.7,117.8 388,117.8 388.3,117.7 388.5,117.7 388.8,117.6 389,117.6 389.3,117.5 389.6,117.5 389.8,117.5 390.1,117.4 390.4,117.4 390.6,117.3 390.9,117.3 391.1,117.2 391.4,117.2 391.7,117.1 391.9,117.1 392.2,117 392.5,117 392.7,116.9 393,116.8 393.2,116.8 393.5,116.7 393.8,116.7 394,116.6 394.3,116.6 394.6,116.5 394.8,116.4 395.1,116.4 395.4,116.3 395.6,116.2 395.9,116.2 396.1,116.1 396.4,116 396.7,116 396.9,115.9 397.2,115.8 397.5,115.8 397.7,115.7 398,115.6 398.2,115.5 398.5,115.5 398.8,115.4 399,115.3 399.3,115.2 399.6,115.1 399.8,115.1 400.1,115 400.3,114.9 400.6,114.8 400.9,114.7 401.1,114.6 401.4,114.5 401.7,114.4 401.9,114.3 402.2,114.2 402.4,114.1 402.7,114 403,113.9 403.2,113.8 403.5,113.7 403.8,113.5 404,113.4 404.3,113.3 404.6,113.1 404.8,113 405.1,112.8 405.3,112.7 405.6,112.5 405.9,112.3 406.1,112.2 406.4,112 406.7,111.8 406.9,111.6 407.2,111.3 407.4,111.1 407.7,110.8 408,110.4 408.2,110.1 408.5,109.7 408.8,109.3 409,108.9 409.3,108.4 409.5,108 409.8,107.6 410.1,107.1 410.3,106.6 410.6,106.1 410.9,105.6 411.1,105.1 411.4,104.5 411.6,103.9 411.9,103.3 412.2,102.6 412.4,102 412.7,101.3 413,100.6 413.2,99.9 413.5,99.2 413.8,98.4 414,97.6 414.3,96.7 414.5,95.9 414.8,95 415.1,94.1 415.3,93.2 415.6,92.2 415.9,91.3 416.1,90.4 416.4,89.5 416.6,88.6 416.9,87.8 417.2,86.9 417.4,86 417.7,85.1 418,84.2 418.2,83.3 418.5,82.3 418.7,81.4 419,80.5 419.3,79.7 419.5,78.8 419.8,77.9 420.1,77 420.3,76.2 420.6,75.3 420.9,74.5 421.1,73.6 421.4,72.8 421.6,71.9 421.9,71 422.2,70.1 422.4,69.2 422.7,68.2 423,67.3 423.2,66.3 423.5,65.3 423.7,64.2 424,63.2 424.3,62.1 424.5,61.1 424.8,60 425.1,58.9 425.3,57.8 425.6,56.7 425.8,55.6 426.1,54.5 426.4,53.3 426.6,52.2 426.9,51.1 427.2,50 427.4,48.8 427.7,47.7 427.9,46.6 428.2,45.4 428.5,44.3 428.7,43.2 429,42 429.3,40.9 429.5,39.7 429.8,38.6 430.1,37.4 430.3,36.3 430.6,35.1 430.8,34 431.1,32.8 431.4,31.6 431.6,30.4 431.9,29.3 432.2,28.1 432.4,26.9 432.7,25.7 432.9,24.5 433.2,23.3 433.5,22.1 433.7,20.9 434,19.7 434.3,18.5 434.5,17.3 434.8,16.1 435,14.9 435.3,13.6 435.6,12.4 435.8,11.2 436.1,9.9 436.4,8.7 436.6,7.4 436.9,6.2 437.1,4.9 437.4,3.7 437.7,2.4 437.9,1.1 438.2,-0.2" fill="none" stroke="#45c1d6" stroke-width="1.2" stroke-linejoin="round" stroke-linecap="round" />
<path d="M359.6,118.6L359.9,118.6 360.1,118.6 360.4,118.6 360.7,118.6 360.9,118.6 361.2,118.6 361.4,118.6 361.7,118.6 362,118.6 362.2,118.6 362.5,118.6 362.8,118.6 363,118.6 363.3,118.5 363.5,118.5 363.8,118.5 364.1,118.5 364.3,118.5 364.6,118.5 364.9,118.5 365.1,118.5 365.4,118.5 365.6,118.5 365.9,118.5 366.2,118.5 366.4,118.5 366.7,118.4 367,118.4 367.2,118.4 367.5,118.4 367.7,118.4 368,118.4 368.3,118.4 368.5,118.4 368.8,118.4 369.1,118.4 369.3,118.3 369.6,118.3 369.9,118.3 370.1,118.3 370.4,118.3 370.6,118.3 370.9,118.3 371.2,118.3 371.4,118.3 371.7,118.3 372,118.2 372.2,118.2 372.5,118.2 372.7,118.2 373,118.2 373.3,118.2 373.5,118.2 373.8,118.2 374.1,118.1 374.3,118.1 374.6,118.1 374.8,118.1 375.1,118.1 375.4,118.1 375.6,118.1 375.9,118 376.2,118 376.4,118 376.7,118 376.9,118 377.2,118 377.5,117.9 377.7,117.9 378,117.9 378.3,117.9 378.5,117.9 378.8,117.9 379.1,117.8 379.3,117.8 379.6,117.8 379.8,117.8 380.1,117.8 380.4,117.8 380.6,117.7 380.9,117.7 381.2,117.7 381.4,117.7 381.7,117.7 381.9,117.6 382.2,117.6 382.5,117.6 382.7,117.6 383,117.6 383.3,117.5 383.5,117.5 383.8,117.5 384,117.5 384.3,117.4 384.6,117.4 384.8,117.4 385.1,117.4 385.4,117.4 385.6,117.3 385.9,117.3 386.2,117.3 386.4,117.3 386.7,117.2 386.9,117.2 387.2,117.2 387.5,117.2 387.7,117.1 388,117.1 388.3,117.1 388.5,117 388.8,117 389,117 389.3,116.9 389.6,116.9 389.8,116.9 390.1,116.8 390.4,116.8 390.6,116.7 390.9,116.7 391.1,116.6 391.4,116.6 391.7,116.5 391.9,116.5 392.2,116.4 392.5,116.4 392.7,116.3 393,116.3 393.2,116.2 393.5,116.2 393.8,116.1 394,116.1 394.3,116 394.6,115.9 394.8,115.9 395.1,115.8 395.4,115.7 395.6,115.7 395.9,115.6 396.1,115.5 396.4,115.5 396.7,115.4 396.9,115.3 397.2,115.2 397.5,115.2 397.7,115.1 398,115 398.2,114.9 398.5,114.9 398.8,114.8 399,114.7 399.3,114.6 399.6,114.5 399.8,114.5 400.1,114.4 400.3,114.3 400.6,114.2 400.9,114.1 401.1,114 401.4,113.9 401.7,113.8 401.9,113.7 402.2,113.6 402.4,113.5 402.7,113.3 403,113.2 403.2,113.1 403.5,112.9 403.8,112.8 404,112.7 404.3,112.5 404.6,112.3 404.8,112.2 405.1,112 405.3,111.8 405.6,111.6 405.9,111.5 406.1,111.3 406.4,111.1 406.7,110.8 406.9,110.6 407.2,110.4 407.4,110.1 407.7,109.8 408,109.4 408.2,109.1 408.5,108.7 408.8,108.3 409,107.8 409.3,107.4 409.5,106.9 409.8,106.4 410.1,105.9 410.3,105.4 410.6,104.8 410.9,104.1 411.1,103.5 411.4,102.7 411.6,102 411.9,101.2 412.2,100.4 412.4,99.6 412.7,98.7 413,97.9 413.2,97 413.5,96.1 413.8,95.1 414,94.1 414.3,93.1 414.5,92 414.8,90.9 415.1,89.8 415.3,88.7 415.6,87.6 415.9,86.5 416.1,85.5 416.4,84.4 416.6,83.4 416.9,82.4 417.2,81.4 417.4,80.4 417.7,79.5 418,78.5 418.2,77.5 418.5,76.5 418.7,75.6 419,74.6 419.3,73.6 419.5,72.7 419.8,71.7 420.1,70.8 420.3,69.9 420.6,69 420.9,68.1 421.1,67.2 421.4,66.4 421.6,65.5 421.9,64.7 422.2,63.8 422.4,62.9 422.7,62.1 423,61.2 423.2,60.3 423.5,59.4 423.7,58.5 424,57.6 424.3,56.6 424.5,55.7 424.8,54.7 425.1,53.7 425.3,52.6 425.6,51.6 425.8,50.5 426.1,49.3 426.4,48.2 426.6,47 426.9,45.8 427.2,44.5 427.4,43.3 427.7,42.1 427.9,40.8 428.2,39.5 428.5,38.2 428.7,37 429,35.7 429.3,34.4 429.5,33.2 429.8,31.9 430.1,30.7 430.3,29.5 430.6,28.3 430.8,27.1 431.1,26 431.4,24.9 431.6,23.8 431.9,22.7 432.2,21.7 432.4,20.6 432.7,19.6 432.9,18.6 433.2,17.5 433.5,16.5 433.7,15.5 434,14.5 434.3,13.5 434.5,12.6 434.8,11.6 435,10.6 435.3,9.7 435.6,8.7 435.8,7.8 436.1,6.9 436.4,6 436.6,5.1 436.9,4.2 437.1,3.3 437.4,2.4 437.7,1.5 437.9,0.7 438.2,-0.2" fill="none" stroke="#f7931e" stroke-width="1.2" stroke-linejoin="round" stroke-linecap="round" />
<path d="M359.6,118.9L359.9,118.9 360.1,118.9 360.4,118.8 360.7,118.8 360.9,118.8 361.2,118.8 361.4,118.8 361.7,118.8 362,118.8 362.2,118.8 362.5,118.8 362.8,118.8 363,118.8 363.3,118.8 363.5,118.8 363.8,118.8 364.1,118.8 364.3,118.8 364.6,118.7 364.9,118.7 365.1,118.7 365.4,118.7 365.6,118.7 365.9,118.7 366.2,118.7 366.4,118.7 366.7,118.7 367,118.7 367.2,118.7 367.5,118.7 367.7,118.6 368,118.6 368.3,118.6 368.5,118.6 368.8,118.6 369.1,118.6 369.3,118.6 369.6,118.6 369.9,118.6 370.1,118.6 370.4,118.5 370.6,118.5 370.9,118.5 371.2,118.5 371.4,118.5 371.7,118.5 372,118.5 372.2,118.5 372.5,118.5 372.7,118.4 373,118.4 373.3,118.4 373.5,118.4 373.8,118.4 374.1,118.4 374.3,118.4 374.6,118.3 374.8,118.3 375.1,118.3 375.4,118.3 375.6,118.3 375.9,118.3 376.2,118.3 376.4,118.2 376.7,118.2 376.9,118.2 377.2,118.2 377.5,118.2 377.7,118.2 378,118.2 378.3,118.1 378.5,118.1 378.8,118.1 379.1,118.1 379.3,118.1 379.6,118 379.8,118 380.1,118 380.4,118 380.6,118 380.9,118 381.2,117.9 381.4,117.9 381.7,117.9 381.9,117.9 382.2,117.9 382.5,117.8 382.7,117.8 383,117.8 383.3,117.8 383.5,117.8 383.8,117.7 384,117.7 384.3,117.7 384.6,117.7 384.8,117.6 385.1,117.6 385.4,117.6 385.6,117.6 385.9,117.5 386.2,117.5 386.4,117.5 386.7,117.5 386.9,117.4 387.2,117.4 387.5,117.4 387.7,117.4 388,117.3 388.3,117.3 388.5,117.3 388.8,117.2 389,117.2 389.3,117.2 389.6,117.1 389.8,117.1 390.1,117.1 390.4,117 390.6,117 390.9,116.9 391.1,116.9 391.4,116.8 391.7,116.8 391.9,116.7 392.2,116.7 392.5,116.6 392.7,116.6 393,116.5 393.2,116.5 393.5,116.4 393.8,116.4 394,116.3 394.3,116.3 394.6,116.2 394.8,116.1 395.1,116.1 395.4,116 395.6,116 395.9,115.9 396.1,115.8 396.4,115.8 396.7,115.7 396.9,115.6 397.2,115.6 397.5,115.5 397.7,115.4 398,115.3 398.2,115.3 398.5,115.2 398.8,115.1 399,115 399.3,115 399.6,114.9 399.8,114.8 400.1,114.7 400.3,114.6 400.6,114.6 400.9,114.5 401.1,114.4 401.4,114.3 401.7,114.2 401.9,114.1 402.2,114 402.4,113.9 402.7,113.8 403,113.7 403.2,113.6 403.5,113.4 403.8,113.3 404,113.2 404.3,113 404.6,112.9 404.8,112.8 405.1,112.6 405.3,112.4 405.6,112.3 405.9,112.1 406.1,111.9 406.4,111.7 406.7,111.5 406.9,111.3 407.2,111.1 407.4,110.8 407.7,110.6 408,110.2 408.2,109.9 408.5,109.5 408.8,109.2 409,108.8 409.3,108.4 409.5,108 409.8,107.5 410.1,107.1 410.3,106.7 410.6,106.2 410.9,105.7 411.1,105.2 411.4,104.6 411.6,104.1 411.9,103.5 412.2,102.9 412.4,102.3 412.7,101.7 413,101 413.2,100.4 413.5,99.7 413.8,99 414,98.3 414.3,97.5 414.5,96.7 414.8,95.9 415.1,95.1 415.3,94.3 415.6,93.5 415.9,92.6 416.1,91.8 416.4,91 416.6,90.1 416.9,89.3 417.2,88.4 417.4,87.5 417.7,86.6 418,85.7 418.2,84.8 418.5,83.9 418.7,83 419,82.1 419.3,81.2 419.5,80.3 419.8,79.4 420.1,78.5 420.3,77.6 420.6,76.8 420.9,75.9 421.1,75 421.4,74.1 421.6,73.1 421.9,72.2 422.2,71.2 422.4,70.3 422.7,69.3 423,68.3 423.2,67.3 423.5,66.3 423.7,65.2 424,64.2 424.3,63.1 424.5,62 424.8,60.8 425.1,59.7 425.3,58.5 425.6,57.2 425.8,55.9 426.1,54.5 426.4,53.1 426.6,51.6 426.9,50.2 427.2,48.7 427.4,47.1 427.7,45.6 427.9,44 428.2,42.4 428.5,40.9 428.7,39.3 429,37.8 429.3,36.2 429.5,34.7 429.8,33.2 430.1,31.7 430.3,30.3 430.6,28.9 430.8,27.5 431.1,26.2 431.4,25 431.6,23.8 431.9,22.7 432.2,21.5 432.4,20.4 432.7,19.3 432.9,18.2 433.2,17.1 433.5,16.1 433.7,15 434,14 434.3,13 434.5,11.9 434.8,11 435,10 435.3,9 435.6,8.1 435.8,7.2 436.1,6.3 436.4,5.4 436.6,4.6 436.9,3.7 437.1,2.9 437.4,2.1 437.7,1.3 437.9,0.6 438.2,-0.2" fill="none" stroke="#ef4b4b" stroke-width="1.2" stroke-linejoin="round" stroke-linecap="round" />
</g>
<rect x="365.5" y="71.4" width="67.1" height="53.8" fill="none" stroke="#111" stroke-width="1" />
<line x1="363.7" y1="119.1" x2="365.5" y2="119.1" stroke="#111" stroke-width="0.6" />
<text x="363.3" y="120.4" font-size="3.8" fill="#333" text-anchor="end" font-weight="bold" stroke="#333" stroke-width="0.08">0.0</text>
<line x1="363.7" y1="107.17" x2="365.5" y2="107.17" stroke="#111" stroke-width="0.6" />
<text x="363.3" y="108.47" font-size="3.8" fill="#333" text-anchor="end" font-weight="bold" stroke="#333" stroke-width="0.08">0.1</text>
<line x1="363.7" y1="95.25" x2="365.5" y2="95.25" stroke="#111" stroke-width="0.6" />
<text x="363.3" y="96.55" font-size="3.8" fill="#333" text-anchor="end" font-weight="bold" stroke="#333" stroke-width="0.08">0.2</text>
<line x1="363.7" y1="83.32" x2="365.5" y2="83.32" stroke="#111" stroke-width="0.6" />
<text x="363.3" y="84.62" font-size="3.8" fill="#333" text-anchor="end" font-weight="bold" stroke="#333" stroke-width="0.08">0.3</text>
<line x1="363.7" y1="71.4" x2="365.5" y2="71.4" stroke="#111" stroke-width="0.6" />
<text x="363.3" y="72.7" font-size="3.8" fill="#333" text-anchor="end" font-weight="bold" stroke="#333" stroke-width="0.08">0.4</text>
<line x1="372.7" y1="125.2" x2="372.7" y2="126.8" stroke="#111" stroke-width="0.6" />
<text x="372.7" y="130.6" font-size="3.8" fill="#333" text-anchor="middle" font-weight="bold" stroke="#333" stroke-width="0.08">22090</text>
<line x1="385.8" y1="125.2" x2="385.8" y2="126.8" stroke="#111" stroke-width="0.6" />
<text x="385.8" y="130.6" font-size="3.8" fill="#333" text-anchor="middle" font-weight="bold" stroke="#333" stroke-width="0.08">22100</text>
<line x1="398.9" y1="125.2" x2="398.9" y2="126.8" stroke="#111" stroke-width="0.6" />
<text x="398.9" y="130.6" font-size="3.8" fill="#333" text-anchor="middle" font-weight="bold" stroke="#333" stroke-width="0.08">22110</text>
<line x1="412" y1="125.2" x2="412" y2="126.8" stroke="#111" stroke-width="0.6" />
<text x="412" y="130.6" font-size="3.8" fill="#333" text-anchor="middle" font-weight="bold" stroke="#333" stroke-width="0.08">22120</text>
<line x1="425.1" y1="125.2" x2="425.1" y2="126.8" stroke="#111" stroke-width="0.6" />
<text x="425.1" y="130.6" font-size="3.8" fill="#333" text-anchor="middle" font-weight="bold" stroke="#333" stroke-width="0.08">22130</text>
<text x="399.2" y="136.8" font-size="5.6" fill="#000" text-anchor="middle" font-weight="bold" textLength="25.7" lengthAdjust="spacingAndGlyphs" stroke="#000" stroke-width="0.08">Energy (eV)</text>
<text x="358.2" y="99.1" font-size="5.4" fill="#000" text-anchor="middle" font-weight="bold" textLength="49" lengthAdjust="spacingAndGlyphs" transform="rotate(-90 358.2 99.1)" stroke="#000" stroke-width="0.08">Normalized Absorption</text>
<line x1="388" y1="100.3" x2="413.5" y2="100.3" stroke="#111" stroke-width="1.2" />
<path d="M419.8,100.3 L411.8,97.6 L411.8,103 Z" fill="#111"/>
<defs><clipPath id="cc"><rect x="515.2" y="2.6" width="168.1" height="134.9"/></clipPath></defs>
<g clip-path="url(#cc)">
<path d="M515.5,128.4L516,128.1 516.4,127.9 516.9,127.8 517.4,127.6 517.8,127.5 518.3,127.5 518.8,127.5 519.2,127.6 519.7,127.8 520.2,128 520.6,128.2 521.1,128.5 521.6,128.7 522.1,129 522.5,129.1 523,129.2 523.5,129.1 523.9,129 524.4,128.8 524.9,128.6 525.3,128.3 525.8,128.1 526.3,127.9 526.7,127.8 527.2,127.7 527.7,127.7 528.1,127.9 528.6,128 529.1,128.3 529.5,128.5 530,128.8 530.5,129 530.9,129.1 531.4,129.2 531.9,129.1 532.3,128.8 532.8,128.4 533.3,127.8 533.8,127.3 534.2,126.8 534.7,126.5 535.2,126.2 535.6,126.2 536.1,126.4 536.6,126.6 537,126.9 537.5,127.2 538,127.6 538.4,128 538.9,128.3 539.4,128.5 539.8,128.6 540.3,128.7 540.8,128.5 541.2,128.2 541.7,127.9 542.2,127.5 542.6,127.2 543.1,126.9 543.6,126.7 544,126.8 544.5,127 545,127.5 545.4,128 545.9,128.4 546.4,128.6 546.9,128.6 547.3,128.3 547.8,127.8 548.3,127.1 548.7,126.3 549.2,125.4 549.7,124.5 550.1,123.6 550.6,122.8 551.1,122.1 551.5,121.6 552,121.4 552.5,121.5 552.9,121.9 553.4,122.7 553.9,123.6 554.3,124.7 554.8,125.7 555.3,126.6 555.7,127.3 556.2,127.7 556.7,127.6 557.1,126.8 557.6,125.6 558.1,124 558.6,122.2 559,120.3 559.5,118.4 560,116.7 560.4,115.3 560.9,114.3 561.4,113.9 561.8,114 562.3,114.4 562.8,115 563.2,115.7 563.7,116.5 564.2,117.3 564.6,118.1 565.1,118.7 565.6,119.2 566,119.5 566.5,119.3 567,118.3 567.4,116.8 567.9,114.9 568.4,112.8 568.8,110.6 569.3,108.5 569.8,106.4 570.3,104.3 570.7,102 571.2,99.6 571.7,97 572.1,94.3 572.6,91.5 573.1,88.6 573.5,85.4 574,82.2 574.5,78.7 574.9,74.4 575.4,69.5 575.9,64.3 576.3,59.3 576.8,54.9 577.3,51.3 577.7,47.9 578.2,44.4 578.7,41 579.1,37.8 579.6,34.9 580.1,32.4 580.5,30.4 581,29 581.5,28.4 582,28.8 582.4,30.2 582.9,32.5 583.4,35.4 583.8,38.9 584.3,42.7 584.8,46.6 585.2,50.4 585.7,54.1 586.2,58.2 586.6,62.6 587.1,67.3 587.6,72.2 588,77.2 588.5,82.2 589,88.3 589.4,95.2 589.9,102.4 590.4,109.3 590.8,115.6 591.3,120.6 591.8,124 592.2,125.1 592.7,124.8 593.2,124.2 593.7,123.3 594.1,122.3 594.6,121.2 595.1,120.1 595.5,119.3 596,118.7 596.5,118.5 596.9,118.7 597.4,119.1 597.9,119.7 598.3,120.3 598.8,121.1 599.3,121.7 599.7,122.3 600.2,122.7 600.7,122.8 601.1,122.8 601.6,122.7 602.1,122.6 602.5,122.5 603,122.4 603.5,122.2 603.9,122 604.4,121.8 604.9,121.6 605.3,121.4 605.8,121.2 606.3,121 606.8,120.7 607.2,120.5 607.7,120.2 608.2,120 608.6,119.8 609.1,119.6 609.6,119.4 610,119.2 610.5,119 611,118.9 611.4,118.7 611.9,118.6 612.4,118.6 612.8,118.5 613.3,118.5 613.8,118.6 614.2,118.7 614.7,118.9 615.2,119.2 615.6,119.5 616.1,119.9 616.6,120.3 617,120.7 617.5,121.1 618,121.6 618.5,122 618.9,122.4 619.4,122.8 619.9,123.2 620.3,123.5 620.8,123.8 621.3,123.9 621.7,124.1 622.2,124.1 622.7,124 623.1,123.9 623.6,123.6 624.1,123.2 624.5,122.7 625,122.2 625.5,121.6 625.9,120.9 626.4,120.3 626.9,119.6 627.3,118.9 627.8,118.2 628.3,117.5 628.7,116.9 629.2,116.3 629.7,115.8 630.2,115.3 630.6,114.9 631.1,114.7 631.6,114.5 632,114.4 632.5,114.5 633,114.7 633.4,114.9 633.9,115.3 634.4,115.7 634.8,116.1 635.3,116.7 635.8,117.2 636.2,117.8 636.7,118.4 637.2,119 637.6,119.7 638.1,120.3 638.6,120.9 639,121.4 639.5,121.9 640,122.4 640.4,122.8 640.9,123.1 641.4,123.4 641.9,123.6 642.3,123.6 642.8,123.6 643.3,123.6 643.7,123.6 644.2,123.5 644.7,123.4 645.1,123.4 645.6,123.3 646.1,123.2 646.5,123.1 647,123 647.5,122.8 647.9,122.7 648.4,122.6 648.9,122.4 649.3,122.3 649.8,122.2 650.3,122 650.7,121.9 651.2,121.8 651.7,121.6 652.1,121.5 652.6,121.4 653.1,121.3 653.6,121.2 654,121.1 654.5,121 655,120.9 655.4,120.8 655.9,120.8 656.4,120.7 656.8,120.7 657.3,120.7 657.8,120.7 658.2,120.8 658.7,121 659.2,121.2 659.6,121.5 660.1,121.9 660.6,122.3 661,122.8 661.5,123.2 662,123.7 662.4,124.2 662.9,124.7 663.4,125.2 663.8,125.7 664.3,126.1 664.8,126.5 665.2,126.9 665.7,127.2 666.2,127.4 666.7,127.5 667.1,127.6 667.6,127.6 668.1,127.6 668.5,127.6 669,127.6 669.5,127.6 669.9,127.6 670.4,127.6 670.9,127.6 671.3,127.6 671.8,127.5 672.3,127.5 672.7,127.5 673.2,127.4 673.7,127.4 674.1,127.3 674.6,127.2 675.1,127.2 675.5,127.1 676,127 676.5,126.9 676.9,126.7 677.4,126.6 677.9,126.5 678.4,126.3 678.8,126.1 679.3,125.9 679.8,125.7 680.2,125.5 680.7,125.3 681.2,125 681.6,124.8 682.1,124.5 682.6,124.2 683,123.8 683.5,123.5" fill="none" stroke="#c8c8c8" stroke-width="1.15" stroke-linejoin="round" stroke-linecap="round" />
<path d="M515.5,119.5L516,118.3 516.4,117.3 516.9,116.3 517.4,115.4 517.8,114.7 518.3,114 518.8,113.5 519.2,113 519.7,112.7 520.2,112.5 520.6,112.4 521.1,112.4 521.6,112.7 522.1,113.2 522.5,113.9 523,114.6 523.5,115.4 523.9,116.2 524.4,116.9 524.9,117.4 525.3,117.8 525.8,118 526.3,117.9 526.7,117.3 527.2,116.5 527.7,115.4 528.1,114.1 528.6,112.7 529.1,111.3 529.5,109.8 530,108.4 530.5,107.2 530.9,106.1 531.4,105.3 531.9,104.7 532.3,104.1 532.8,103.6 533.3,103.1 533.8,102.7 534.2,102.4 534.7,102.1 535.2,101.9 535.6,101.8 536.1,101.7 536.6,101.5 537,101.4 537.5,101.2 538,100.9 538.4,100.5 538.9,99.9 539.4,99.3 539.8,98.3 540.3,96.2 540.8,93.4 541.2,90.1 541.7,86.6 542.2,83.4 542.6,80.7 543.1,78.7 543.6,77 544,75.5 544.5,74 545,72.4 545.4,70.9 545.9,69.4 546.4,67.9 546.9,66.4 547.3,65 547.8,63.5 548.3,62 548.7,60.6 549.2,59.1 549.7,57.5 550.1,55.8 550.6,54 551.1,52.1 551.5,50.2 552,48.4 552.5,46.6 552.9,44.8 553.4,43.2 553.9,41.6 554.3,40.2 554.8,39 555.3,38 555.7,37.2 556.2,36.7 556.7,36.4 557.1,36.7 557.6,37.5 558.1,38.9 558.6,40.7 559,42.6 559.5,45.6 560,49.6 560.4,54.1 560.9,58.6 561.4,63 561.8,67.8 562.3,72.6 562.8,77.4 563.2,81.9 563.7,86.2 564.2,90.3 564.6,94.3 565.1,98.3 565.6,102.4 566,106.5 566.5,111.6 567,117.1 567.4,122.2 567.9,126 568.4,127.7 568.8,127.4 569.3,126.6 569.8,125.3 570.3,123.7 570.7,121.8 571.2,119.9 571.7,118 572.1,116.2 572.6,114.7 573.1,113.6 573.5,113 574,113 574.5,113.3 574.9,113.9 575.4,114.6 575.9,115.6 576.3,116.7 576.8,117.8 577.3,119.1 577.7,120.3 578.2,121.5 578.7,122.6 579.1,123.6 579.6,124.5 580.1,125.1 580.5,125.6 581,125.7 581.5,125.5 582,124.9 582.4,123.9 582.9,122.7 583.4,121.2 583.8,119.5 584.3,117.8 584.8,116 585.2,114.2 585.7,112.5 586.2,110.9 586.6,109.4 587.1,108.2 587.6,107 588,105.7 588.5,104.4 589,103 589.4,101.7 589.9,100.4 590.4,99.2 590.8,98.1 591.3,97.1 591.8,96.3 592.2,95.7 592.7,95.2 593.2,95 593.7,95.1 594.1,95.6 594.6,96.5 595.1,97.8 595.5,99.3 596,100.9 596.5,102.8 596.9,104.7 597.4,106.6 597.9,108.4 598.3,110.1 598.8,111.9 599.3,114.1 599.7,116.5 600.2,119 600.7,121.3 601.1,123.3 601.6,124.8 602.1,125.6 602.5,125.7 603,125.5 603.5,125.1 603.9,124.5 604.4,123.9 604.9,123.2 605.3,122.6 605.8,121.9 606.3,121.4 606.8,120.9 607.2,120.6 607.7,120.5 608.2,120.8 608.6,121.3 609.1,122.1 609.6,123.1 610,124.1 610.5,125.2 611,126.2 611.4,127 611.9,127.7 612.4,128.1 612.8,128.2 613.3,128 613.8,127.6 614.2,127.1 614.7,126.5 615.2,125.9 615.6,125.3 616.1,124.7 616.6,124.2 617,123.8 617.5,123.6 618,123.7 618.5,123.9 618.9,124.2 619.4,124.6 619.9,125.2 620.3,125.8 620.8,126.4 621.3,127 621.7,127.6 622.2,128.2 622.7,128.6 623.1,129 623.6,129.1 624.1,129.1 624.5,129 625,128.6 625.5,128.2 625.9,127.7 626.4,127.1 626.9,126.5 627.3,126 627.8,125.6 628.3,125.3 628.7,125.1 629.2,125.1 629.7,125.3 630.2,125.5 630.6,125.8 631.1,126.2 631.6,126.6 632,127 632.5,127.5 633,127.9 633.4,128.4 633.9,128.7 634.4,129 634.8,129.3 635.3,129.4 635.8,129.4 636.2,129.4 636.7,129.4 637.2,129.3 637.6,129.2 638.1,129.1 638.6,129 639,128.8 639.5,128.7 640,128.6 640.4,128.5 640.9,128.4 641.4,128.4 641.9,128.4 642.3,128.4 642.8,128.3 643.3,128.3 643.7,128.3 644.2,128.3 644.7,128.3 645.1,128.3 645.6,128.2 646.1,128.2 646.5,128.2 647,128.2 647.5,128.2 647.9,128.2 648.4,128.2 648.9,128.2 649.3,128.2 649.8,128.2 650.3,128.2 650.7,128.2 651.2,128.2 651.7,128.2 652.1,128.3 652.6,128.3 653.1,128.3 653.6,128.3 654,128.3 654.5,128.4 655,128.4 655.4,128.4 655.9,128.4 656.4,128.4 656.8,128.4 657.3,128.4 657.8,128.4 658.2,128.4 658.7,128.4 659.2,128.4 659.6,128.4 660.1,128.5 660.6,128.5 661,128.5 661.5,128.5 662,128.5 662.4,128.5 662.9,128.5 663.4,128.5 663.8,128.5 664.3,128.5 664.8,128.5 665.2,128.5 665.7,128.5 666.2,128.5 666.7,128.5 667.1,128.5 667.6,128.6 668.1,128.6 668.5,128.6 669,128.6 669.5,128.7 669.9,128.7 670.4,128.7 670.9,128.8 671.3,128.8 671.8,128.9 672.3,128.9 672.7,128.9 673.2,129 673.7,129 674.1,129 674.6,129.1 675.1,129.1 675.5,129.1 676,129.1 676.5,129.2 676.9,129.2 677.4,129.2 677.9,129.2 678.4,129.3 678.8,129.3 679.3,129.3 679.8,129.3 680.2,129.3 680.7,129.4 681.2,129.4 681.6,129.4 682.1,129.4 682.6,129.4 683,129.4 683.5,129.4" fill="none" stroke="#45c1d6" stroke-width="1.15" stroke-linejoin="round" stroke-linecap="round" />
<path d="M515.5,124.6L516,124 516.4,123.5 516.9,123 517.4,122.5 517.8,122.1 518.3,121.8 518.8,121.5 519.2,121.3 519.7,121.2 520.2,121.1 520.6,121.1 521.1,121.3 521.6,121.4 522.1,121.7 522.5,122 523,122.2 523.5,122.5 523.9,122.8 524.4,123 524.9,123.1 525.3,123.1 525.8,123.1 526.3,122.9 526.7,122.6 527.2,122.2 527.7,121.8 528.1,121.3 528.6,120.8 529.1,120.4 529.5,119.9 530,119.6 530.5,119.3 530.9,119.1 531.4,119 531.9,119 532.3,119.1 532.8,119.3 533.3,119.4 533.8,119.6 534.2,119.8 534.7,119.9 535.2,120 535.6,119.9 536.1,119.3 536.6,118.3 537,116.9 537.5,115.2 538,113.5 538.4,111.7 538.9,110 539.4,108.5 539.8,107.1 540.3,105.5 540.8,103.9 541.2,102.3 541.7,100.8 542.2,99.2 542.6,97.8 543.1,96.5 543.6,95.4 544,94.5 544.5,93.7 545,93 545.4,92.3 545.9,91.8 546.4,91.2 546.9,90.7 547.3,90.1 547.8,89.5 548.3,88.9 548.7,88.2 549.2,87.3 549.7,86.4 550.1,85.3 550.6,84.1 551.1,82.7 551.5,81.2 552,79.6 552.5,77.7 552.9,75.4 553.4,72.9 553.9,70.3 554.3,67.6 554.8,65.1 555.3,62.8 555.7,60.8 556.2,59.3 556.7,57.8 557.1,56.4 557.6,55.1 558.1,54 558.6,53.3 559,53.1 559.5,53.3 560,54 560.4,55 560.9,56.1 561.4,57.3 561.8,58.5 562.3,60 562.8,61.7 563.2,63.6 563.7,65.6 564.2,67.8 564.6,70.1 565.1,72.6 565.6,75.3 566,78.1 566.5,81 567,83.9 567.4,86.8 567.9,89.7 568.4,92.6 568.8,95.5 569.3,98.5 569.8,101.5 570.3,104.6 570.7,107.9 571.2,111.5 571.7,116.1 572.1,121 572.6,125 573.1,127.1 573.5,126.8 574,125.2 574.5,122.7 574.9,119.6 575.4,116.3 575.9,112.9 576.3,109.9 576.8,107.3 577.3,104.7 577.7,102.1 578.2,99.6 578.7,97.3 579.1,95.6 579.6,94.3 580.1,93 580.5,91.9 581,90.9 581.5,90.1 582,89.6 582.4,89.4 582.9,89.8 583.4,90.7 583.8,92.1 584.3,93.9 584.8,95.8 585.2,97.8 585.7,99.7 586.2,101.4 586.6,103.2 587.1,105.1 587.6,107.1 588,109.2 588.5,111.3 589,113.5 589.4,115.5 589.9,117.5 590.4,119.4 590.8,121 591.3,122.5 591.8,123.7 592.2,124.6 592.7,125.4 593.2,126.2 593.7,126.9 594.1,127.5 594.6,127.9 595.1,128.2 595.5,128.1 596,127.8 596.5,127.3 596.9,126.6 597.4,125.9 597.9,125.4 598.3,125 598.8,124.9 599.3,125.1 599.7,125.6 600.2,126.1 600.7,126.7 601.1,127.2 601.6,127.6 602.1,127.7 602.5,127.6 603,127.4 603.5,127.2 603.9,126.8 604.4,126.5 604.9,126.1 605.3,125.8 605.8,125.5 606.3,125.3 606.8,125.1 607.2,125.1 607.7,125.3 608.2,125.6 608.6,126.1 609.1,126.6 609.6,127.1 610,127.5 610.5,127.9 611,128.1 611.4,128.2 611.9,128 612.4,127.8 612.8,127.4 613.3,127 613.8,126.5 614.2,125.9 614.7,125.4 615.2,124.9 615.6,124.3 616.1,123.9 616.6,123.5 617,123.3 617.5,123.1 618,123.2 618.5,123.3 618.9,123.7 619.4,124.1 619.9,124.5 620.3,125 620.8,125.5 621.3,126 621.7,126.3 622.2,126.6 622.7,126.7 623.1,126.7 623.6,126.6 624.1,126.5 624.5,126.3 625,126.1 625.5,125.8 625.9,125.6 626.4,125.4 626.9,125.1 627.3,124.9 627.8,124.8 628.3,124.7 628.7,124.6 629.2,124.6 629.7,124.6 630.2,124.6 630.6,124.7 631.1,124.7 631.6,124.8 632,124.8 632.5,124.8 633,124.9 633.4,124.9 633.9,125 634.4,125 634.8,125.1 635.3,125.1 635.8,125.1 636.2,125.1 636.7,125.1 637.2,125 637.6,124.9 638.1,124.8 638.6,124.6 639,124.4 639.5,124.2 640,124 640.4,123.8 640.9,123.5 641.4,123.3 641.9,123.1 642.3,122.9 642.8,122.7 643.3,122.5 643.7,122.3 644.2,122.2 644.7,122.1 645.1,122.1 645.6,122.1 646.1,122.1 646.5,122.2 647,122.3 647.5,122.4 647.9,122.6 648.4,122.7 648.9,122.9 649.3,123.1 649.8,123.3 650.3,123.5 650.7,123.7 651.2,123.9 651.7,124.1 652.1,124.3 652.6,124.5 653.1,124.6 653.6,124.8 654,124.9 654.5,125 655,125 655.4,125.1 655.9,125.2 656.4,125.3 656.8,125.4 657.3,125.5 657.8,125.5 658.2,125.6 658.7,125.7 659.2,125.8 659.6,125.8 660.1,125.9 660.6,125.9 661,126 661.5,126.1 662,126.1 662.4,126.1 662.9,126.2 663.4,126.2 663.8,126.2 664.3,126.3 664.8,126.3 665.2,126.3 665.7,126.3 666.2,126.3 666.7,126.3 667.1,126.2 667.6,126.2 668.1,126.1 668.5,126.1 669,126 669.5,125.9 669.9,125.8 670.4,125.7 670.9,125.6 671.3,125.6 671.8,125.5 672.3,125.4 672.7,125.3 673.2,125.2 673.7,125.1 674.1,125 674.6,125 675.1,124.9 675.5,124.8 676,124.8 676.5,124.7 676.9,124.6 677.4,124.6 677.9,124.5 678.4,124.5 678.8,124.4 679.3,124.3 679.8,124.3 680.2,124.2 680.7,124.2 681.2,124.1 681.6,124.1 682.1,124 682.6,123.9 683,123.9 683.5,123.8" fill="none" stroke="#f7931e" stroke-width="1.15" stroke-linejoin="round" stroke-linecap="round" />
<path d="M515.5,123.6L516,122.6 516.4,121.7 516.9,120.9 517.4,120.2 517.8,119.5 518.3,119 518.8,118.6 519.2,118.3 519.7,118.1 520.2,118 520.6,118.1 521.1,118.4 521.6,118.9 522.1,119.5 522.5,120.2 523,120.9 523.5,121.6 523.9,122.2 524.4,122.7 524.9,123 525.3,123.1 525.8,123 526.3,122.6 526.7,122 527.2,121.3 527.7,120.4 528.1,119.5 528.6,118.6 529.1,117.7 529.5,116.8 530,116.1 530.5,115.5 530.9,115.1 531.4,114.9 531.9,115.1 532.3,115.5 532.8,116.2 533.3,117 533.8,117.8 534.2,118.5 534.7,119.1 535.2,119.4 535.6,119.4 536.1,118.7 536.6,117.4 537,115.6 537.5,113.5 538,111.2 538.4,108.9 538.9,105.8 539.4,101.7 539.8,97.5 540.3,94 540.8,91.5 541.2,89.2 541.7,87.1 542.2,85 542.6,83.2 543.1,81.6 543.6,80.3 544,79.3 544.5,78.6 545,78.3 545.4,78 545.9,77.8 546.4,77.7 546.9,77.5 547.3,77.4 547.8,77.3 548.3,77.1 548.7,76.9 549.2,76.6 549.7,76.1 550.1,75.1 550.6,73.7 551.1,72 551.5,70 552,68 552.5,66.1 552.9,64.3 553.4,62.8 553.9,61.3 554.3,59.6 554.8,58 555.3,56.3 555.7,54.8 556.2,53.5 556.7,52.4 557.1,51.7 557.6,51.4 558.1,51.7 558.6,52.7 559,54.3 559.5,56.3 560,58.6 560.4,61 560.9,64.4 561.4,68.7 561.8,73.4 562.3,77.9 562.8,81.7 563.2,85.3 563.7,88.7 564.2,92.1 564.6,95.3 565.1,98.5 565.6,102.1 566,106 566.5,110 567,113.8 567.4,117.1 567.9,119.7 568.4,121.3 568.8,121.6 569.3,121.2 569.8,120.4 570.3,119.3 570.7,117.9 571.2,116.5 571.7,115.1 572.1,113.8 572.6,112.6 573.1,111.8 573.5,111.3 574,111.3 574.5,111.4 574.9,111.5 575.4,111.7 575.9,112 576.3,112.4 576.8,112.7 577.3,113.2 577.7,113.6 578.2,114.1 578.7,114.6 579.1,115.2 579.6,115.7 580.1,116.3 580.5,116.8 581,117.4 581.5,117.9 582,118.4 582.4,118.9 582.9,119.4 583.4,119.9 583.8,120.5 584.3,121 584.8,121.3 585.2,121.3 585.7,121.1 586.2,120.7 586.6,120.2 587.1,119.5 587.6,118.7 588,117.8 588.5,116.9 589,115.9 589.4,115 589.9,114 590.4,113.1 590.8,112.3 591.3,111.5 591.8,110.8 592.2,110.3 592.7,110 593.2,109.8 593.7,109.9 594.1,110.2 594.6,110.8 595.1,111.7 595.5,112.7 596,113.9 596.5,115.2 596.9,116.6 597.4,118.1 597.9,119.6 598.3,121 598.8,122.5 599.3,123.8 599.7,125 600.2,126.1 600.7,127 601.1,127.7 601.6,128.1 602.1,128.2 602.5,128 603,127.7 603.5,127.2 603.9,126.5 604.4,125.8 604.9,125.1 605.3,124.5 605.8,123.9 606.3,123.5 606.8,123.2 607.2,123.1 607.7,123.3 608.2,123.7 608.6,124.1 609.1,124.7 609.6,125.2 610,125.8 610.5,126.2 611,126.5 611.4,126.7 611.9,126.7 612.4,126.5 612.8,126.3 613.3,126 613.8,125.6 614.2,125.3 614.7,124.9 615.2,124.6 615.6,124.3 616.1,124.2 616.6,124.1 617,124.2 617.5,124.3 618,124.5 618.5,124.7 618.9,125 619.4,125.3 619.9,125.6 620.3,126 620.8,126.3 621.3,126.7 621.7,127 622.2,127.2 622.7,127.4 623.1,127.6 623.6,127.7 624.1,127.7 624.5,127.6 625,127.4 625.5,127.2 625.9,126.9 626.4,126.7 626.9,126.4 627.3,126.3 627.8,126.2 628.3,126.2 628.7,126.2 629.2,126.3 629.7,126.4 630.2,126.5 630.6,126.7 631.1,126.8 631.6,127 632,127.2 632.5,127.4 633,127.5 633.4,127.7 633.9,127.9 634.4,128 634.8,128.1 635.3,128.2 635.8,128.2 636.2,128.2 636.7,128.1 637.2,128.1 637.6,128 638.1,127.9 638.6,127.8 639,127.8 639.5,127.7 640,127.7 640.4,127.7 640.9,127.7 641.4,127.7 641.9,127.8 642.3,127.8 642.8,127.8 643.3,127.9 643.7,127.9 644.2,128 644.7,128.1 645.1,128.1 645.6,128.2 646.1,128.3 646.5,128.3 647,128.4 647.5,128.5 647.9,128.5 648.4,128.6 648.9,128.7 649.3,128.7 649.8,128.8 650.3,128.8 650.7,128.9 651.2,128.9 651.7,128.9 652.1,128.9 652.6,129 653.1,129 653.6,129 654,129 654.5,128.9 655,128.9 655.4,128.9 655.9,128.9 656.4,128.9 656.8,128.9 657.3,128.9 657.8,128.9 658.2,128.9 658.7,128.8 659.2,128.8 659.6,128.8 660.1,128.8 660.6,128.8 661,128.8 661.5,128.8 662,128.8 662.4,128.8 662.9,128.8 663.4,128.7 663.8,128.7 664.3,128.7 664.8,128.8 665.2,128.8 665.7,128.8 666.2,128.8 666.7,128.8 667.1,128.8 667.6,128.8 668.1,128.9 668.5,128.9 669,128.9 669.5,128.9 669.9,128.9 670.4,129 670.9,129 671.3,129 671.8,129 672.3,129 672.7,129.1 673.2,129.1 673.7,129.1 674.1,129.1 674.6,129.1 675.1,129.1 675.5,129.1 676,129.1 676.5,129.1 676.9,129.1 677.4,129.1 677.9,129.1 678.4,129.1 678.8,129.1 679.3,129.1 679.8,129.1 680.2,129.1 680.7,129 681.2,129 681.6,129 682.1,129 682.6,129 683,129 683.5,129" fill="none" stroke="#ef4b4b" stroke-width="1.15" stroke-linejoin="round" stroke-linecap="round" />
</g>
<rect x="515.2" y="2.6" width="168.1" height="134.9" fill="none" stroke="#111" stroke-width="1.1" />
<line x1="512" y1="130.4" x2="515.2" y2="130.4" stroke="#111" stroke-width="0.9" />
<text x="510.6" y="132.6" font-size="6.2" fill="#000" text-anchor="end" stroke="#000" stroke-width="0.22">0.0</text>
<line x1="512" y1="95" x2="515.2" y2="95" stroke="#111" stroke-width="0.9" />
<text x="510.6" y="97.2" font-size="6.2" fill="#000" text-anchor="end" stroke="#000" stroke-width="0.22">0.5</text>
<line x1="512" y1="59.6" x2="515.2" y2="59.6" stroke="#111" stroke-width="0.9" />
<text x="510.6" y="61.8" font-size="6.2" fill="#000" text-anchor="end" stroke="#000" stroke-width="0.22">1.0</text>
<line x1="512" y1="24.2" x2="515.2" y2="24.2" stroke="#111" stroke-width="0.9" />
<text x="510.6" y="26.4" font-size="6.2" fill="#000" text-anchor="end" stroke="#000" stroke-width="0.22">1.5</text>
<line x1="515.5" y1="137.5" x2="515.5" y2="139.6" stroke="#111" stroke-width="0.9" />
<text x="515.5" y="146.3" font-size="6.4" fill="#000" text-anchor="middle" stroke="#000" stroke-width="0.22">0</text>
<line x1="571.5" y1="137.5" x2="571.5" y2="139.6" stroke="#111" stroke-width="0.9" />
<text x="571.5" y="146.3" font-size="6.4" fill="#000" text-anchor="middle" stroke="#000" stroke-width="0.22">2</text>
<line x1="627.5" y1="137.5" x2="627.5" y2="139.6" stroke="#111" stroke-width="0.9" />
<text x="627.5" y="146.3" font-size="6.4" fill="#000" text-anchor="middle" stroke="#000" stroke-width="0.22">4</text>
<line x1="683.5" y1="137.5" x2="683.5" y2="139.6" stroke="#111" stroke-width="0.9" />
<text x="683.5" y="146.3" font-size="6.4" fill="#000" text-anchor="middle" stroke="#000" stroke-width="0.22">6</text>
<text x="598.9" y="158.4" font-size="9.9" fill="#000" text-anchor="middle" font-weight="bold" textLength="21.4" lengthAdjust="spacingAndGlyphs" stroke="#000" stroke-width="0.08">R (&#197;)</text>
<text x="499.6" y="70" font-size="9" fill="#000" text-anchor="middle" font-weight="bold" transform="rotate(-90 499.6 70)" stroke="#000" stroke-width="0.08">FT of <tspan font-style="italic">k</tspan><tspan font-size="6" dy="-3.5">3</tspan><tspan dy="3.5" font-style="italic">&#967;</tspan>(<tspan font-style="italic">k</tspan>)</text>
<text x="470" y="13.5" font-size="20.5" fill="#000" text-anchor="start" >c</text>
<line x1="615.4" y1="16.5" x2="633.5" y2="16.5" stroke="#f7931e" stroke-width="1.5" />
<text x="635.7" y="19.2" font-size="8.58" fill="#000" text-anchor="start" textLength="40.88" lengthAdjust="spacingAndGlyphs" stroke="#000" stroke-width="0.22">Ru NPs/TiN</text>
<line x1="615.4" y1="25.9" x2="633.5" y2="25.9" stroke="#c8c8c8" stroke-width="1.5" />
<text x="635.7" y="28.6" font-size="8.58" fill="#000" text-anchor="start" textLength="22.11" lengthAdjust="spacingAndGlyphs" stroke="#000" stroke-width="0.22">Ru foil</text>
<line x1="615.4" y1="35.1" x2="633.5" y2="35.1" stroke="#45c1d6" stroke-width="1.5" />
<text x="635.7" y="37.8" font-size="8.58" fill="#000" text-anchor="start" textLength="18.6" lengthAdjust="spacingAndGlyphs" stroke="#000" stroke-width="0.22">RuO<tspan font-size="5.8" dy="1.8">2</tspan></text>
<line x1="615.4" y1="46.2" x2="633.5" y2="46.2" stroke="#ef4b4b" stroke-width="1.5" />
<text x="635.7" y="48.9" font-size="8.58" fill="#000" text-anchor="start" textLength="17.77" lengthAdjust="spacingAndGlyphs" stroke="#000" stroke-width="0.22">Ru/C</text>
<text x="549.5" y="23.8" font-size="7.7" fill="#000" text-anchor="middle" textLength="23.9" lengthAdjust="spacingAndGlyphs" stroke="#000" stroke-width="0.22">Ru-N/O</text>
<line x1="547" y1="27.2" x2="557.6" y2="47.8" stroke="#111" stroke-width="0.9" />
<path d="M559.3,50.8 L555.6,45.9 L559.2,44.3 Z" fill="#111"/>
<text x="613.4" y="65.9" font-size="7.7" fill="#000" text-anchor="middle" textLength="20.5" lengthAdjust="spacingAndGlyphs" stroke="#000" stroke-width="0.22">Ru-Ru</text>
<line x1="607.2" y1="70.4" x2="587.3" y2="86.4" stroke="#111" stroke-width="0.9" />
<path d="M584.3,88.9 L587.6,83.8 L590.0,86.9 Z" fill="#111"/>
<path d="M29.6,239.4L29.8,239.4 30,239.4 30.1,239.4 30.3,239.4 30.5,239.4 30.7,239.3 30.9,239.3 31,239.3 31.2,239.2 31.4,239.2 31.6,239.2 31.8,239.1 32,239.1 32.1,239 32.3,239 32.5,238.9 32.7,238.9 32.9,238.8 33,238.8 33.2,238.7 33.4,238.7 33.6,238.6 33.8,238.5 33.9,238.5 34.1,238.4 34.3,238.4 34.5,238.3 34.7,238.2 34.8,238.2 35,238.1 35.2,238.1 35.4,238 35.6,238 35.8,237.9 35.9,237.9 36.1,237.8 36.3,237.8 36.5,237.8 36.7,237.7 36.8,237.7 37,237.7 37.2,237.7 37.4,237.6 37.6,237.6 37.7,237.6 37.9,237.6 38.1,237.6 38.3,237.6 38.5,237.6 38.6,237.7 38.8,237.7 39,237.8 39.2,237.9 39.3,238 39.5,238.2 39.7,238.3 39.9,238.5 40.1,238.7 40.2,238.8 40.4,239.1 40.6,239.3 40.8,239.5 40.9,239.8 41.1,240 41.3,240.3 41.5,240.6 41.6,240.9 41.8,241.2 42,241.5 42.2,241.9 42.4,242.2 42.5,242.5 42.7,242.9 42.9,243.3 43.1,243.6 43.2,244 43.4,244.4 43.6,244.8 43.8,245.1 44,245.5 44.1,245.9 44.3,246.3 44.5,246.7 44.7,247 44.8,247.4 45,247.8 45.2,248.2 45.4,248.5 45.5,248.9 45.7,249.2 45.9,249.6 46.1,249.9 46.3,250.3 46.4,250.6 46.6,250.9 46.8,251.2 47,251.5 47.1,251.8 47.3,252 47.5,252.3 47.7,252.5 47.9,252.7 48,252.9 48.2,253.1 48.4,253.3 48.6,253.5 48.7,253.6 48.9,253.8 49.1,253.9 49.3,254 49.4,254 49.6,254.1 49.8,254.1 50,254.2 50.2,254.2 50.3,254.2 50.5,254.1 50.7,254.1 50.9,254 51,254 51.2,253.9 51.4,253.7 51.6,253.6 51.8,253.4 51.9,253.3 52.1,253.1 52.3,252.9 52.5,252.7 52.6,252.4 52.8,252.2 53,251.9 53.2,251.6 53.4,251.3 53.5,251 53.7,250.6 53.9,250.3 54.1,249.9 54.3,249.6 54.4,249.2 54.6,248.8 54.8,248.3 55,247.9 55.1,247.5 55.3,247 55.5,246.6 55.7,246.1 55.9,245.6 56,245.1 56.2,244.6 56.4,244.1 56.6,243.6 56.8,243.1 56.9,242.5 57.1,242 57.3,241.5 57.5,240.9 57.6,240.4 57.8,239.8 58,239.2 58.2,238.7 58.4,238.1 58.5,237.6 58.7,237 58.9,236.4 59.1,235.9 59.2,235.3 59.4,234.7 59.6,234.2 59.8,233.6 60,233.1 60.1,232.5 60.3,232 60.5,231.4 60.7,230.9 60.9,230.4 61,229.8 61.2,229.3 61.4,228.8 61.6,228.3 61.7,227.8 61.9,227.3 62.1,226.9 62.3,226.4 62.5,225.9 62.6,225.5 62.8,225.1 63,224.7 63.2,224.3 63.3,223.9 63.5,223.5 63.7,223.1 63.9,222.8 64.1,222.4 64.2,222.1 64.4,221.8 64.6,221.5 64.8,221.3 65,221 65.1,220.8 65.3,220.5 65.5,220.3 65.7,220.1 65.8,220 66,219.8 66.2,219.7 66.4,219.6 66.6,219.5 66.7,219.4 66.9,219.3 67.1,219.3 67.3,219.2 67.4,219.2 67.6,219.3 67.8,219.3 68,219.4 68.2,219.5 68.3,219.7 68.5,219.9 68.7,220.1 68.9,220.4 69,220.7 69.2,221 69.4,221.4 69.6,221.8 69.8,222.3 69.9,222.7 70.1,223.3 70.3,223.8 70.5,224.4 70.6,225 70.8,225.6 71,226.2 71.2,226.9 71.3,227.6 71.5,228.4 71.7,229.1 71.9,229.9 72.1,230.7 72.2,231.6 72.4,232.4 72.6,233.3 72.8,234.2 72.9,235.1 73.1,236 73.3,236.9 73.5,237.9 73.6,238.9 73.8,239.8 74,240.8 74.2,241.8 74.4,242.8 74.5,243.8 74.7,244.8 74.9,245.9 75.1,246.9 75.2,247.9 75.4,248.9 75.6,250 75.8,251 76,252 76.1,253 76.3,254 76.5,255 76.7,256 76.8,257 77,257.9 77.2,258.9 77.4,259.8 77.5,260.7 77.7,261.7 77.9,262.5 78.1,263.4 78.3,264.3 78.4,265.1 78.6,265.9 78.8,266.7 79,267.4 79.1,268.2 79.3,268.9 79.5,269.6 79.7,270.2 79.9,270.9 80,271.5 80.2,272 80.4,272.6 80.6,273.1 80.7,273.6 80.9,274 81.1,274.4 81.3,274.8 81.4,275.1 81.6,275.4 81.8,275.7 82,275.9 82.2,276.1 82.3,276.3 82.5,276.4 82.7,276.5 82.9,276.6 83,276.6 83.2,276.5 83.4,276.4 83.6,276.2 83.8,276 83.9,275.6 84.1,275.2 84.3,274.7 84.5,274.2 84.6,273.5 84.8,272.8 85,272.1 85.2,271.2 85.3,270.3 85.5,269.4 85.7,268.3 85.9,267.2 86.1,266.1 86.2,264.9 86.4,263.6 86.6,262.3 86.8,260.9 86.9,259.5 87.1,258 87.3,256.5 87.5,255 87.7,253.4 87.8,251.8 88,250.1 88.2,248.4 88.4,246.7 88.5,245 88.7,243.2 88.9,241.5 89.1,239.7 89.3,237.9 89.4,236.1 89.6,234.3 89.8,232.4 90,230.6 90.1,228.8 90.3,227 90.5,225.3 90.7,223.5 90.9,221.7 91,220 91.2,218.3 91.4,216.6 91.6,214.9 91.7,213.3 91.9,211.7 92.1,210.2 92.3,208.7 92.5,207.2 92.6,205.8 92.8,204.4 93,203.1 93.2,201.8 93.3,200.6 93.5,199.5 93.7,198.4 93.9,197.3 94.1,196.4 94.2,195.5 94.4,194.6 94.6,193.9 94.8,193.2 94.9,192.5 95.1,192 95.3,191.5 95.5,191.1 95.7,190.7 95.8,190.5 96,190.3 96.2,190.2 96.4,190.1 96.5,190.2 96.7,190.3 96.9,190.6 97.1,190.9 97.3,191.4 97.4,191.9 97.6,192.6 97.8,193.3 98,194.1 98.2,195.1 98.3,196.1 98.5,197.2 98.7,198.3 98.9,199.6 99,200.9 99.2,202.3 99.4,203.8 99.6,205.3 99.8,206.9 99.9,208.6 100.1,210.3 100.3,212.1 100.5,213.9 100.7,215.7 100.8,217.6 101,219.5 101.2,221.4 101.4,223.3 101.6,225.3 101.7,227.2 101.9,229.2 102.1,231.1 102.3,233.1 102.4,235 102.6,236.9 102.8,238.8 103,240.7 103.2,242.5 103.3,244.3 103.5,246.1 103.7,247.8 103.9,249.5 104.1,251.1 104.2,252.6 104.4,254.1 104.6,255.5 104.8,256.8 105,258.1 105.1,259.2 105.3,260.3 105.5,261.3 105.7,262.3 105.8,263.1 106,263.8 106.2,264.5 106.4,265 106.6,265.5 106.7,265.8 106.9,266.1 107.1,266.2 107.3,266.3 107.5,266.3 107.6,266.2 107.8,266.2 108,266.1 108.2,266 108.4,265.9 108.5,265.7 108.7,265.6 108.9,265.4 109.1,265.2 109.3,264.9 109.4,264.7 109.6,264.4 109.8,264.2 110,263.9 110.1,263.6 110.3,263.3 110.5,262.9 110.7,262.6 110.9,262.3 111,261.9 111.2,261.6 111.4,261.2 111.6,260.9 111.8,260.5 111.9,260.1 112.1,259.8 112.3,259.4 112.5,259.1 112.7,258.7 112.8,258.4 113,258.1 113.2,257.8 113.4,257.5 113.6,257.2 113.7,256.9 113.9,256.7 114.1,256.4 114.3,256.2 114.5,256 114.6,255.8 114.8,255.6 115,255.5 115.2,255.4 115.4,255.3 115.5,255.2 115.7,255.1 115.9,255.1 116.1,255.1 116.2,255.1 116.4,255 116.6,254.8 116.8,254.6 117,254.4 117.1,254.1 117.3,253.8 117.5,253.4 117.7,252.9 117.8,252.4 118,251.9 118.2,251.3 118.4,250.6 118.5,249.9 118.7,249.2 118.9,248.5 119.1,247.6 119.3,246.8 119.4,245.9 119.6,245 119.8,244.1 120,243.1 120.1,242.1 120.3,241.1 120.5,240.1 120.7,239 120.9,238 121,236.9 121.2,235.8 121.4,234.7 121.6,233.6 121.7,232.5 121.9,231.3 122.1,230.2 122.3,229.1 122.4,228 122.6,227 122.8,225.9 123,224.8 123.2,223.8 123.3,222.8 123.5,221.8 123.7,220.8 123.9,219.9 124,219 124.2,218.1 124.4,217.3 124.6,216.5 124.7,215.7 124.9,215 125.1,214.3 125.3,213.6 125.5,213.1 125.6,212.5 125.8,212 126,211.6 126.2,211.2 126.3,210.8 126.5,210.5 126.7,210.3 126.9,210.1 127.1,209.9 127.2,209.9 127.4,209.8 127.6,209.9 127.8,210 127.9,210.2 128.1,210.4 128.3,210.8 128.5,211.2 128.7,211.6 128.8,212.2 129,212.8 129.2,213.5 129.4,214.2 129.6,215 129.7,215.9 129.9,216.8 130.1,217.8 130.3,218.9 130.5,220 130.6,221.1 130.8,222.3 131,223.6 131.2,224.9 131.4,226.2 131.5,227.5 131.7,228.9 131.9,230.3 132.1,231.8 132.3,233.2 132.4,234.7 132.6,236.2 132.8,237.7 133,239.2 133.1,240.7 133.3,242.3 133.5,243.8 133.7,245.3 133.9,246.8 134,248.3 134.2,249.7 134.4,251.2 134.6,252.6 134.8,254 134.9,255.3 135.1,256.6 135.3,257.9 135.5,259.2 135.7,260.4 135.8,261.5 136,262.6 136.2,263.6 136.4,264.6 136.6,265.6 136.7,266.4 136.9,267.3 137.1,268 137.3,268.7 137.5,269.3 137.6,269.8 137.8,270.3 138,270.7 138.2,271.1 138.4,271.3 138.5,271.5 138.7,271.6 138.9,271.7 139.1,271.6 139.2,271.5 139.4,271.4 139.6,271.1 139.8,270.8 140,270.4 140.1,270 140.3,269.5 140.5,268.9 140.7,268.3 140.8,267.6 141,266.9 141.2,266.1 141.4,265.3 141.6,264.4 141.7,263.4 141.9,262.4 142.1,261.4 142.3,260.3 142.4,259.2 142.6,258 142.8,256.8 143,255.6 143.2,254.3 143.3,253 143.5,251.7 143.7,250.4 143.9,249.1 144,247.7 144.2,246.4 144.4,245 144.6,243.6 144.8,242.3 144.9,240.9 145.1,239.6 145.3,238.2 145.5,236.9 145.6,235.6 145.8,234.3 146,233.1 146.2,231.9 146.4,230.7 146.5,229.5 146.7,228.4 146.9,227.3 147.1,226.2 147.2,225.2 147.4,224.3 147.6,223.4 147.8,222.5 148,221.7 148.1,221 148.3,220.3 148.5,219.7 148.7,219.1 148.8,218.6 149,218.2 149.2,217.8 149.4,217.5 149.6,217.3 149.7,217.1 149.9,217 150.1,217 150.3,205.1 150.4,206.3 150.6,207.1 150.8,208.9 151,212 151.2,214 151.3,216.1 151.5,218.7 151.7,218.4 151.9,219.6 152,221.1 152.2,221.5 152.4,221.9 152.6,223 152.7,223.8 152.9,225.3 153.1,224.9 153.3,226 153.5,226.8 153.6,228.8 153.8,227.8 154,229.6 154.2,230.9 154.3,230.3 154.5,232.6 154.7,234.5 154.9,234.8 155,237 155.2,235.8 155.4,237.7 155.6,238.9 155.8,238.6 155.9,241.3 156.1,240.7 156.3,243.3 156.5,243.2 156.6,244.3 156.8,243.3 157,243.8 157.2,245.9 157.4,245.7 157.5,247 157.7,247 157.9,248.4 158.1,249.5 158.2,250 158.4,248.7 158.6,247.6 158.8,249.3 158.9,250.2 159.1,248.6 159.3,250.1 159.5,250.6 159.7,250.9 159.8,251.7 160,252.4 160.2,253.8 160.4,252.7 160.5,253.4 160.7,252.3 160.9,253.2 161.1,253.7 161.3,251.4 161.4,249 161.6,249.7 161.8,249.2 162,248.6 162.1,247.7 162.3,246.4 162.5,246.6 162.7,243.8 162.8,244.7 163,243.8 163.2,241.9 163.4,240.9 163.6,241.2 163.7,239.2 163.9,236.9 164.1,235.5 164.3,234.4 164.4,229.9 164.6,227.6 164.8,226.4 165,226.8 165.1,226.2 165.3,227.4 165.5,228.5 165.7,228.7 165.9,230.2 166,232.5 166.2,233.8 166.4,234.6 166.6,235.8 166.7,236.2 166.9,236.9 167.1,236.4 167.3,234.3 167.5,235.7 167.6,237 167.8,237.4 168,238.3 168.2,237.7 168.3,238.5 168.5,241.2 168.7,240.2 168.9,242 169,240.7 169.2,242.3 169.4,240.8 169.6,242.6 169.8,242 169.9,240.9 170.1,239.5 170.3,239.6 170.5,241 170.6,239.4 170.8,239.4 171,239.7 171.2,239.8 171.3,237 171.5,238.7 171.7,238.3 171.9,235.8 172.1,235.1 172.2,234.1 172.4,232.2 172.6,232 172.8,232 172.9,231.9 173.1,233.7 173.3,236.2 173.5,237.6 173.7,239.4 173.8,240.1 174,242.7 174.2,244.4 174.4,243 174.5,245 174.7,245.9 174.9,243.6 175.1,244.8 175.2,243.5 175.4,244.6 175.6,245.2 175.8,245.2 176,244.1 176.1,243.4 176.3,243.5 176.5,242.1 176.7,242.5 176.8,239.4 177,240.1 177.2,236.8 177.4,234.5 177.6,233.1 177.7,231.8 177.9,235.6 178.1,233.3 178.3,233.4 178.4,234.6 178.6,237.7 178.8,236.8 179,235.6 179.1,239.9 179.3,237.6 179.5,236.8 179.7,238.7 179.9,236.9 180,238.7 180.2,238.1 180.4,238 180.6,236.7 180.7,237.1 180.9,236 181.1,238.8 181.3,238.2 181.4,237.3 181.6,238.2 181.8,240.7 182,238.1 182.2,239.1 182.3,237.3 182.5,236.5 182.7,234.3 182.9,234.7 183,236.3 183.2,235 183.4,231.7 183.6,232.6 183.8,230.4 183.9,231.3 184.1,232.5 184.3,229.9 184.5,232 184.6,233.2 184.8,227.1 185,231.3 185.2,226.6 185.3,224.5 185.5,223.7 185.7,224.4 185.9,219.2 186.1,221.6 186.2,221.3 186.4,220.6 186.6,220.5 186.8,223.2 186.9,224.8 187.1,228.9 187.3,230.7 187.5,233.8 187.7,234.2 187.8,234.1 188,236.2 188.2,235.9 188.4,238 188.5,238.6 188.7,238.3 188.9,239.4 189.1,239.1 189.2,240.7 189.4,239.7 189.6,243.9 189.8,245.3 190,248 190.1,247.8 190.3,247.8 190.5,250.6 190.7,249.8 190.8,248.5 191,249.3 191.2,249.3 191.4,246.4 191.5,247.1 191.7,246.1 191.9,244.4 192.1,244 192.3,245.7 192.4,245.4 192.6,243.6 192.8,243.7 193,245.9 193.1,240.8 193.3,242.7 193.5,242 193.7,245.5 193.9,242.5 194,246.3 194.2,246.5 194.4,249.2 194.6,247.9 194.7,248.4 194.9,248.6 195.1,247.7 195.3,248.3 195.4,246.7 195.6,248.9 195.8,249.6 196,248.1 196.2,247.2 196.3,246.6 196.5,247.8 196.7,252.7 196.9,250.1 197,249.3 197.2,252.2 197.4,253.5 197.6,252 197.8,252.8 197.9,249.9 198.1,249.9 198.3,246.5 198.5,247.2 198.6,248.9 198.8,247 199,247.2 199.2,250.6 199.3,251.4 199.5,255.2 199.7,250.1" fill="none" stroke="#c4c4c4" stroke-width="0.9" stroke-linejoin="round" stroke-linecap="round" />
<path d="M29.6,239.4m-1.3,0a1.3,1.3 0 1,0 2.6,0a1.3,1.3 0 1,0 -2.6,0M30.3,239.4m-1.3,0a1.3,1.3 0 1,0 2.6,0a1.3,1.3 0 1,0 -2.6,0M31,239.3m-1.3,0a1.3,1.3 0 1,0 2.6,0a1.3,1.3 0 1,0 -2.6,0M31.7,239.1m-1.3,0a1.3,1.3 0 1,0 2.6,0a1.3,1.3 0 1,0 -2.6,0M32.4,239m-1.3,0a1.3,1.3 0 1,0 2.6,0a1.3,1.3 0 1,0 -2.6,0M33.1,238.7m-1.3,0a1.3,1.3 0 1,0 2.6,0a1.3,1.3 0 1,0 -2.6,0M33.9,238.5m-1.3,0a1.3,1.3 0 1,0 2.6,0a1.3,1.3 0 1,0 -2.6,0M34.6,238.2m-1.3,0a1.3,1.3 0 1,0 2.6,0a1.3,1.3 0 1,0 -2.6,0M35.3,237.9m-1.3,0a1.3,1.3 0 1,0 2.6,0a1.3,1.3 0 1,0 -2.6,0M36,237.5m-1.3,0a1.3,1.3 0 1,0 2.6,0a1.3,1.3 0 1,0 -2.6,0M36.7,237.1m-1.3,0a1.3,1.3 0 1,0 2.6,0a1.3,1.3 0 1,0 -2.6,0M37.4,236.7m-1.3,0a1.3,1.3 0 1,0 2.6,0a1.3,1.3 0 1,0 -2.6,0M38.1,236.2m-1.3,0a1.3,1.3 0 1,0 2.6,0a1.3,1.3 0 1,0 -2.6,0M38.8,235.7m-1.3,0a1.3,1.3 0 1,0 2.6,0a1.3,1.3 0 1,0 -2.6,0M39.5,235.2m-1.3,0a1.3,1.3 0 1,0 2.6,0a1.3,1.3 0 1,0 -2.6,0M40.2,234.6m-1.3,0a1.3,1.3 0 1,0 2.6,0a1.3,1.3 0 1,0 -2.6,0M40.9,234m-1.3,0a1.3,1.3 0 1,0 2.6,0a1.3,1.3 0 1,0 -2.6,0M41.6,233.4m-1.3,0a1.3,1.3 0 1,0 2.6,0a1.3,1.3 0 1,0 -2.6,0M42.4,232.8m-1.3,0a1.3,1.3 0 1,0 2.6,0a1.3,1.3 0 1,0 -2.6,0M43.1,232.1m-1.3,0a1.3,1.3 0 1,0 2.6,0a1.3,1.3 0 1,0 -2.6,0M43.8,231.4m-1.3,0a1.3,1.3 0 1,0 2.6,0a1.3,1.3 0 1,0 -2.6,0M44.5,230.6m-1.3,0a1.3,1.3 0 1,0 2.6,0a1.3,1.3 0 1,0 -2.6,0M45.2,229.9m-1.3,0a1.3,1.3 0 1,0 2.6,0a1.3,1.3 0 1,0 -2.6,0M45.9,229.1m-1.3,0a1.3,1.3 0 1,0 2.6,0a1.3,1.3 0 1,0 -2.6,0M46.6,228.2m-1.3,0a1.3,1.3 0 1,0 2.6,0a1.3,1.3 0 1,0 -2.6,0M47.3,227.4m-1.3,0a1.3,1.3 0 1,0 2.6,0a1.3,1.3 0 1,0 -2.6,0M48,226.5m-1.3,0a1.3,1.3 0 1,0 2.6,0a1.3,1.3 0 1,0 -2.6,0M48.7,225.6m-1.3,0a1.3,1.3 0 1,0 2.6,0a1.3,1.3 0 1,0 -2.6,0M49.4,224.7m-1.3,0a1.3,1.3 0 1,0 2.6,0a1.3,1.3 0 1,0 -2.6,0M50.2,223.7m-1.3,0a1.3,1.3 0 1,0 2.6,0a1.3,1.3 0 1,0 -2.6,0M50.9,254.2m-1.3,0a1.3,1.3 0 1,0 2.6,0a1.3,1.3 0 1,0 -2.6,0M51.6,253.7m-1.3,0a1.3,1.3 0 1,0 2.6,0a1.3,1.3 0 1,0 -2.6,0M52.3,252.4m-1.3,0a1.3,1.3 0 1,0 2.6,0a1.3,1.3 0 1,0 -2.6,0M53,250.3m-1.3,0a1.3,1.3 0 1,0 2.6,0a1.3,1.3 0 1,0 -2.6,0M53.7,247.3m-1.3,0a1.3,1.3 0 1,0 2.6,0a1.3,1.3 0 1,0 -2.6,0M54.4,243.7m-1.3,0a1.3,1.3 0 1,0 2.6,0a1.3,1.3 0 1,0 -2.6,0M55.1,239.4m-1.3,0a1.3,1.3 0 1,0 2.6,0a1.3,1.3 0 1,0 -2.6,0M55.8,234.7m-1.3,0a1.3,1.3 0 1,0 2.6,0a1.3,1.3 0 1,0 -2.6,0M56.5,229.6m-1.3,0a1.3,1.3 0 1,0 2.6,0a1.3,1.3 0 1,0 -2.6,0M57.2,224.2m-1.3,0a1.3,1.3 0 1,0 2.6,0a1.3,1.3 0 1,0 -2.6,0M58,218.7m-1.3,0a1.3,1.3 0 1,0 2.6,0a1.3,1.3 0 1,0 -2.6,0M58.7,213.3m-1.3,0a1.3,1.3 0 1,0 2.6,0a1.3,1.3 0 1,0 -2.6,0M59.4,208.1m-1.3,0a1.3,1.3 0 1,0 2.6,0a1.3,1.3 0 1,0 -2.6,0M60.1,203.1m-1.3,0a1.3,1.3 0 1,0 2.6,0a1.3,1.3 0 1,0 -2.6,0M60.8,198.7m-1.3,0a1.3,1.3 0 1,0 2.6,0a1.3,1.3 0 1,0 -2.6,0M61.5,194.8m-1.3,0a1.3,1.3 0 1,0 2.6,0a1.3,1.3 0 1,0 -2.6,0M62.2,191.5m-1.3,0a1.3,1.3 0 1,0 2.6,0a1.3,1.3 0 1,0 -2.6,0M62.9,189.1m-1.3,0a1.3,1.3 0 1,0 2.6,0a1.3,1.3 0 1,0 -2.6,0M63.6,187.4m-1.3,0a1.3,1.3 0 1,0 2.6,0a1.3,1.3 0 1,0 -2.6,0M64.3,186.6m-1.3,0a1.3,1.3 0 1,0 2.6,0a1.3,1.3 0 1,0 -2.6,0M65,186.7m-1.3,0a1.3,1.3 0 1,0 2.6,0a1.3,1.3 0 1,0 -2.6,0M65.7,187.4m-1.3,0a1.3,1.3 0 1,0 2.6,0a1.3,1.3 0 1,0 -2.6,0M66.5,188.8m-1.3,0a1.3,1.3 0 1,0 2.6,0a1.3,1.3 0 1,0 -2.6,0M67.2,190.9m-1.3,0a1.3,1.3 0 1,0 2.6,0a1.3,1.3 0 1,0 -2.6,0M67.9,193.7m-1.3,0a1.3,1.3 0 1,0 2.6,0a1.3,1.3 0 1,0 -2.6,0M68.6,196.9m-1.3,0a1.3,1.3 0 1,0 2.6,0a1.3,1.3 0 1,0 -2.6,0M69.3,200.8m-1.3,0a1.3,1.3 0 1,0 2.6,0a1.3,1.3 0 1,0 -2.6,0M70,205.1m-1.3,0a1.3,1.3 0 1,0 2.6,0a1.3,1.3 0 1,0 -2.6,0M70.7,209.8m-1.3,0a1.3,1.3 0 1,0 2.6,0a1.3,1.3 0 1,0 -2.6,0M71.4,214.9m-1.3,0a1.3,1.3 0 1,0 2.6,0a1.3,1.3 0 1,0 -2.6,0M72.1,220.3m-1.3,0a1.3,1.3 0 1,0 2.6,0a1.3,1.3 0 1,0 -2.6,0M72.8,225.8m-1.3,0a1.3,1.3 0 1,0 2.6,0a1.3,1.3 0 1,0 -2.6,0M73.5,231.5m-1.3,0a1.3,1.3 0 1,0 2.6,0a1.3,1.3 0 1,0 -2.6,0M74.3,237.2m-1.3,0a1.3,1.3 0 1,0 2.6,0a1.3,1.3 0 1,0 -2.6,0M75,242.9m-1.3,0a1.3,1.3 0 1,0 2.6,0a1.3,1.3 0 1,0 -2.6,0M75.7,248.4m-1.3,0a1.3,1.3 0 1,0 2.6,0a1.3,1.3 0 1,0 -2.6,0M76.4,253.7m-1.3,0a1.3,1.3 0 1,0 2.6,0a1.3,1.3 0 1,0 -2.6,0M77.1,258.7m-1.3,0a1.3,1.3 0 1,0 2.6,0a1.3,1.3 0 1,0 -2.6,0M77.8,263.4m-1.3,0a1.3,1.3 0 1,0 2.6,0a1.3,1.3 0 1,0 -2.6,0M78.5,267.6m-1.3,0a1.3,1.3 0 1,0 2.6,0a1.3,1.3 0 1,0 -2.6,0M79.2,271.4m-1.3,0a1.3,1.3 0 1,0 2.6,0a1.3,1.3 0 1,0 -2.6,0M79.9,274.5m-1.3,0a1.3,1.3 0 1,0 2.6,0a1.3,1.3 0 1,0 -2.6,0M80.6,277.1m-1.3,0a1.3,1.3 0 1,0 2.6,0a1.3,1.3 0 1,0 -2.6,0M81.3,279.1m-1.3,0a1.3,1.3 0 1,0 2.6,0a1.3,1.3 0 1,0 -2.6,0M82,280.4m-1.3,0a1.3,1.3 0 1,0 2.6,0a1.3,1.3 0 1,0 -2.6,0M82.8,281m-1.3,0a1.3,1.3 0 1,0 2.6,0a1.3,1.3 0 1,0 -2.6,0M83.5,280.8m-1.3,0a1.3,1.3 0 1,0 2.6,0a1.3,1.3 0 1,0 -2.6,0M84.2,279.5m-1.3,0a1.3,1.3 0 1,0 2.6,0a1.3,1.3 0 1,0 -2.6,0M84.9,276.9m-1.3,0a1.3,1.3 0 1,0 2.6,0a1.3,1.3 0 1,0 -2.6,0M85.6,273.3m-1.3,0a1.3,1.3 0 1,0 2.6,0a1.3,1.3 0 1,0 -2.6,0M86.3,268.6m-1.3,0a1.3,1.3 0 1,0 2.6,0a1.3,1.3 0 1,0 -2.6,0M87,263m-1.3,0a1.3,1.3 0 1,0 2.6,0a1.3,1.3 0 1,0 -2.6,0M87.7,256.7m-1.3,0a1.3,1.3 0 1,0 2.6,0a1.3,1.3 0 1,0 -2.6,0M88.4,249.9m-1.3,0a1.3,1.3 0 1,0 2.6,0a1.3,1.3 0 1,0 -2.6,0M89.1,242.6m-1.3,0a1.3,1.3 0 1,0 2.6,0a1.3,1.3 0 1,0 -2.6,0M89.8,235.2m-1.3,0a1.3,1.3 0 1,0 2.6,0a1.3,1.3 0 1,0 -2.6,0M90.6,227.9m-1.3,0a1.3,1.3 0 1,0 2.6,0a1.3,1.3 0 1,0 -2.6,0M91.3,220.8m-1.3,0a1.3,1.3 0 1,0 2.6,0a1.3,1.3 0 1,0 -2.6,0M92,214.1m-1.3,0a1.3,1.3 0 1,0 2.6,0a1.3,1.3 0 1,0 -2.6,0M92.7,208.1m-1.3,0a1.3,1.3 0 1,0 2.6,0a1.3,1.3 0 1,0 -2.6,0M93.4,202.8m-1.3,0a1.3,1.3 0 1,0 2.6,0a1.3,1.3 0 1,0 -2.6,0M94.1,198.6m-1.3,0a1.3,1.3 0 1,0 2.6,0a1.3,1.3 0 1,0 -2.6,0M94.8,195.3m-1.3,0a1.3,1.3 0 1,0 2.6,0a1.3,1.3 0 1,0 -2.6,0M95.5,193.2m-1.3,0a1.3,1.3 0 1,0 2.6,0a1.3,1.3 0 1,0 -2.6,0M96.2,192.4m-1.3,0a1.3,1.3 0 1,0 2.6,0a1.3,1.3 0 1,0 -2.6,0M96.9,192.8m-1.3,0a1.3,1.3 0 1,0 2.6,0a1.3,1.3 0 1,0 -2.6,0M97.6,194.7m-1.3,0a1.3,1.3 0 1,0 2.6,0a1.3,1.3 0 1,0 -2.6,0M98.3,198m-1.3,0a1.3,1.3 0 1,0 2.6,0a1.3,1.3 0 1,0 -2.6,0M99.1,202.5m-1.3,0a1.3,1.3 0 1,0 2.6,0a1.3,1.3 0 1,0 -2.6,0M99.8,208.1m-1.3,0a1.3,1.3 0 1,0 2.6,0a1.3,1.3 0 1,0 -2.6,0M100.5,214.5m-1.3,0a1.3,1.3 0 1,0 2.6,0a1.3,1.3 0 1,0 -2.6,0M101.2,221.5m-1.3,0a1.3,1.3 0 1,0 2.6,0a1.3,1.3 0 1,0 -2.6,0M101.9,228.7m-1.3,0a1.3,1.3 0 1,0 2.6,0a1.3,1.3 0 1,0 -2.6,0M102.6,235.9m-1.3,0a1.3,1.3 0 1,0 2.6,0a1.3,1.3 0 1,0 -2.6,0M103.3,242.8m-1.3,0a1.3,1.3 0 1,0 2.6,0a1.3,1.3 0 1,0 -2.6,0M104,249m-1.3,0a1.3,1.3 0 1,0 2.6,0a1.3,1.3 0 1,0 -2.6,0M104.7,254.4m-1.3,0a1.3,1.3 0 1,0 2.6,0a1.3,1.3 0 1,0 -2.6,0M105.4,258.7m-1.3,0a1.3,1.3 0 1,0 2.6,0a1.3,1.3 0 1,0 -2.6,0M106.1,261.7m-1.3,0a1.3,1.3 0 1,0 2.6,0a1.3,1.3 0 1,0 -2.6,0M106.9,263.3m-1.3,0a1.3,1.3 0 1,0 2.6,0a1.3,1.3 0 1,0 -2.6,0M107.6,263.6m-1.3,0a1.3,1.3 0 1,0 2.6,0a1.3,1.3 0 1,0 -2.6,0M108.3,263.3m-1.3,0a1.3,1.3 0 1,0 2.6,0a1.3,1.3 0 1,0 -2.6,0M109,262.7m-1.3,0a1.3,1.3 0 1,0 2.6,0a1.3,1.3 0 1,0 -2.6,0M109.7,261.8m-1.3,0a1.3,1.3 0 1,0 2.6,0a1.3,1.3 0 1,0 -2.6,0M110.4,260.5m-1.3,0a1.3,1.3 0 1,0 2.6,0a1.3,1.3 0 1,0 -2.6,0M111.1,259.1m-1.3,0a1.3,1.3 0 1,0 2.6,0a1.3,1.3 0 1,0 -2.6,0M111.8,257.3m-1.3,0a1.3,1.3 0 1,0 2.6,0a1.3,1.3 0 1,0 -2.6,0M112.5,255.3m-1.3,0a1.3,1.3 0 1,0 2.6,0a1.3,1.3 0 1,0 -2.6,0M113.2,253.1m-1.3,0a1.3,1.3 0 1,0 2.6,0a1.3,1.3 0 1,0 -2.6,0M113.9,250.7m-1.3,0a1.3,1.3 0 1,0 2.6,0a1.3,1.3 0 1,0 -2.6,0M114.7,248.1m-1.3,0a1.3,1.3 0 1,0 2.6,0a1.3,1.3 0 1,0 -2.6,0M115.4,245.4m-1.3,0a1.3,1.3 0 1,0 2.6,0a1.3,1.3 0 1,0 -2.6,0M116.1,242.6m-1.3,0a1.3,1.3 0 1,0 2.6,0a1.3,1.3 0 1,0 -2.6,0M116.8,239.7m-1.3,0a1.3,1.3 0 1,0 2.6,0a1.3,1.3 0 1,0 -2.6,0M117.5,236.8m-1.3,0a1.3,1.3 0 1,0 2.6,0a1.3,1.3 0 1,0 -2.6,0M118.2,233.9m-1.3,0a1.3,1.3 0 1,0 2.6,0a1.3,1.3 0 1,0 -2.6,0M118.9,231.1m-1.3,0a1.3,1.3 0 1,0 2.6,0a1.3,1.3 0 1,0 -2.6,0M119.6,228.3m-1.3,0a1.3,1.3 0 1,0 2.6,0a1.3,1.3 0 1,0 -2.6,0M120.3,225.6m-1.3,0a1.3,1.3 0 1,0 2.6,0a1.3,1.3 0 1,0 -2.6,0M121,223.1m-1.3,0a1.3,1.3 0 1,0 2.6,0a1.3,1.3 0 1,0 -2.6,0M121.7,220.8m-1.3,0a1.3,1.3 0 1,0 2.6,0a1.3,1.3 0 1,0 -2.6,0M122.4,218.6m-1.3,0a1.3,1.3 0 1,0 2.6,0a1.3,1.3 0 1,0 -2.6,0M123.2,216.7m-1.3,0a1.3,1.3 0 1,0 2.6,0a1.3,1.3 0 1,0 -2.6,0M123.9,215.1m-1.3,0a1.3,1.3 0 1,0 2.6,0a1.3,1.3 0 1,0 -2.6,0M124.6,213.7m-1.3,0a1.3,1.3 0 1,0 2.6,0a1.3,1.3 0 1,0 -2.6,0M125.3,212.6m-1.3,0a1.3,1.3 0 1,0 2.6,0a1.3,1.3 0 1,0 -2.6,0M126,211.8m-1.3,0a1.3,1.3 0 1,0 2.6,0a1.3,1.3 0 1,0 -2.6,0M126.7,211.3m-1.3,0a1.3,1.3 0 1,0 2.6,0a1.3,1.3 0 1,0 -2.6,0M127.4,211.2m-1.3,0a1.3,1.3 0 1,0 2.6,0a1.3,1.3 0 1,0 -2.6,0M128.1,211.7m-1.3,0a1.3,1.3 0 1,0 2.6,0a1.3,1.3 0 1,0 -2.6,0M128.8,213.4m-1.3,0a1.3,1.3 0 1,0 2.6,0a1.3,1.3 0 1,0 -2.6,0M129.5,216m-1.3,0a1.3,1.3 0 1,0 2.6,0a1.3,1.3 0 1,0 -2.6,0M130.2,219.6m-1.3,0a1.3,1.3 0 1,0 2.6,0a1.3,1.3 0 1,0 -2.6,0M131,224m-1.3,0a1.3,1.3 0 1,0 2.6,0a1.3,1.3 0 1,0 -2.6,0M131.7,229m-1.3,0a1.3,1.3 0 1,0 2.6,0a1.3,1.3 0 1,0 -2.6,0M132.4,234.4m-1.3,0a1.3,1.3 0 1,0 2.6,0a1.3,1.3 0 1,0 -2.6,0M133.1,240.1m-1.3,0a1.3,1.3 0 1,0 2.6,0a1.3,1.3 0 1,0 -2.6,0M133.8,245.7m-1.3,0a1.3,1.3 0 1,0 2.6,0a1.3,1.3 0 1,0 -2.6,0M134.5,251.2m-1.3,0a1.3,1.3 0 1,0 2.6,0a1.3,1.3 0 1,0 -2.6,0M135.2,256.3m-1.3,0a1.3,1.3 0 1,0 2.6,0a1.3,1.3 0 1,0 -2.6,0M135.9,260.8m-1.3,0a1.3,1.3 0 1,0 2.6,0a1.3,1.3 0 1,0 -2.6,0M136.6,264.6m-1.3,0a1.3,1.3 0 1,0 2.6,0a1.3,1.3 0 1,0 -2.6,0M137.3,267.4m-1.3,0a1.3,1.3 0 1,0 2.6,0a1.3,1.3 0 1,0 -2.6,0M138,269.3m-1.3,0a1.3,1.3 0 1,0 2.6,0a1.3,1.3 0 1,0 -2.6,0M138.7,270.1m-1.3,0a1.3,1.3 0 1,0 2.6,0a1.3,1.3 0 1,0 -2.6,0M139.5,269.8m-1.3,0a1.3,1.3 0 1,0 2.6,0a1.3,1.3 0 1,0 -2.6,0M140.2,268.4m-1.3,0a1.3,1.3 0 1,0 2.6,0a1.3,1.3 0 1,0 -2.6,0M140.9,266.1m-1.3,0a1.3,1.3 0 1,0 2.6,0a1.3,1.3 0 1,0 -2.6,0M141.6,262.9m-1.3,0a1.3,1.3 0 1,0 2.6,0a1.3,1.3 0 1,0 -2.6,0M142.3,259m-1.3,0a1.3,1.3 0 1,0 2.6,0a1.3,1.3 0 1,0 -2.6,0M143,254.4m-1.3,0a1.3,1.3 0 1,0 2.6,0a1.3,1.3 0 1,0 -2.6,0M143.7,249.5m-1.3,0a1.3,1.3 0 1,0 2.6,0a1.3,1.3 0 1,0 -2.6,0M144.4,244.3m-1.3,0a1.3,1.3 0 1,0 2.6,0a1.3,1.3 0 1,0 -2.6,0M145.1,239.1m-1.3,0a1.3,1.3 0 1,0 2.6,0a1.3,1.3 0 1,0 -2.6,0M145.8,234.1m-1.3,0a1.3,1.3 0 1,0 2.6,0a1.3,1.3 0 1,0 -2.6,0M146.5,229.4m-1.3,0a1.3,1.3 0 1,0 2.6,0a1.3,1.3 0 1,0 -2.6,0M147.3,225.3m-1.3,0a1.3,1.3 0 1,0 2.6,0a1.3,1.3 0 1,0 -2.6,0M148,222m-1.3,0a1.3,1.3 0 1,0 2.6,0a1.3,1.3 0 1,0 -2.6,0M148.7,219.5m-1.3,0a1.3,1.3 0 1,0 2.6,0a1.3,1.3 0 1,0 -2.6,0M149.4,218m-1.3,0a1.3,1.3 0 1,0 2.6,0a1.3,1.3 0 1,0 -2.6,0M150.1,217.4m-1.3,0a1.3,1.3 0 1,0 2.6,0a1.3,1.3 0 1,0 -2.6,0M150.8,217.9m-1.3,0a1.3,1.3 0 1,0 2.6,0a1.3,1.3 0 1,0 -2.6,0M151.5,219.3m-1.3,0a1.3,1.3 0 1,0 2.6,0a1.3,1.3 0 1,0 -2.6,0M152.2,221.5m-1.3,0a1.3,1.3 0 1,0 2.6,0a1.3,1.3 0 1,0 -2.6,0M152.9,224.4m-1.3,0a1.3,1.3 0 1,0 2.6,0a1.3,1.3 0 1,0 -2.6,0M153.6,227.9m-1.3,0a1.3,1.3 0 1,0 2.6,0a1.3,1.3 0 1,0 -2.6,0M154.3,231.6m-1.3,0a1.3,1.3 0 1,0 2.6,0a1.3,1.3 0 1,0 -2.6,0M155,235.5m-1.3,0a1.3,1.3 0 1,0 2.6,0a1.3,1.3 0 1,0 -2.6,0M155.8,239.3m-1.3,0a1.3,1.3 0 1,0 2.6,0a1.3,1.3 0 1,0 -2.6,0M156.5,242.7m-1.3,0a1.3,1.3 0 1,0 2.6,0a1.3,1.3 0 1,0 -2.6,0M157.2,245.6m-1.3,0a1.3,1.3 0 1,0 2.6,0a1.3,1.3 0 1,0 -2.6,0M157.9,247.9m-1.3,0a1.3,1.3 0 1,0 2.6,0a1.3,1.3 0 1,0 -2.6,0M158.6,249.2m-1.3,0a1.3,1.3 0 1,0 2.6,0a1.3,1.3 0 1,0 -2.6,0M159.3,249.7m-1.3,0a1.3,1.3 0 1,0 2.6,0a1.3,1.3 0 1,0 -2.6,0M160,249.5m-1.3,0a1.3,1.3 0 1,0 2.6,0a1.3,1.3 0 1,0 -2.6,0M160.7,248.8m-1.3,0a1.3,1.3 0 1,0 2.6,0a1.3,1.3 0 1,0 -2.6,0M161.4,247.7m-1.3,0a1.3,1.3 0 1,0 2.6,0a1.3,1.3 0 1,0 -2.6,0M162.1,246.2m-1.3,0a1.3,1.3 0 1,0 2.6,0a1.3,1.3 0 1,0 -2.6,0M162.8,244.6m-1.3,0a1.3,1.3 0 1,0 2.6,0a1.3,1.3 0 1,0 -2.6,0M163.6,242.8m-1.3,0a1.3,1.3 0 1,0 2.6,0a1.3,1.3 0 1,0 -2.6,0M164.3,241m-1.3,0a1.3,1.3 0 1,0 2.6,0a1.3,1.3 0 1,0 -2.6,0M165,239.4m-1.3,0a1.3,1.3 0 1,0 2.6,0a1.3,1.3 0 1,0 -2.6,0M165.7,238m-1.3,0a1.3,1.3 0 1,0 2.6,0a1.3,1.3 0 1,0 -2.6,0M166.4,237m-1.3,0a1.3,1.3 0 1,0 2.6,0a1.3,1.3 0 1,0 -2.6,0M167.1,236.4m-1.3,0a1.3,1.3 0 1,0 2.6,0a1.3,1.3 0 1,0 -2.6,0M167.8,236.3m-1.3,0a1.3,1.3 0 1,0 2.6,0a1.3,1.3 0 1,0 -2.6,0M168.5,236.5m-1.3,0a1.3,1.3 0 1,0 2.6,0a1.3,1.3 0 1,0 -2.6,0M169.2,237.1m-1.3,0a1.3,1.3 0 1,0 2.6,0a1.3,1.3 0 1,0 -2.6,0M169.9,237.9m-1.3,0a1.3,1.3 0 1,0 2.6,0a1.3,1.3 0 1,0 -2.6,0M170.6,238.9m-1.3,0a1.3,1.3 0 1,0 2.6,0a1.3,1.3 0 1,0 -2.6,0M171.3,240.1m-1.3,0a1.3,1.3 0 1,0 2.6,0a1.3,1.3 0 1,0 -2.6,0M172.1,241.2m-1.3,0a1.3,1.3 0 1,0 2.6,0a1.3,1.3 0 1,0 -2.6,0M172.8,242.3m-1.3,0a1.3,1.3 0 1,0 2.6,0a1.3,1.3 0 1,0 -2.6,0M173.5,243.2m-1.3,0a1.3,1.3 0 1,0 2.6,0a1.3,1.3 0 1,0 -2.6,0M174.2,243.8m-1.3,0a1.3,1.3 0 1,0 2.6,0a1.3,1.3 0 1,0 -2.6,0M174.9,244.1m-1.3,0a1.3,1.3 0 1,0 2.6,0a1.3,1.3 0 1,0 -2.6,0M175.6,244m-1.3,0a1.3,1.3 0 1,0 2.6,0a1.3,1.3 0 1,0 -2.6,0M176.3,243.6m-1.3,0a1.3,1.3 0 1,0 2.6,0a1.3,1.3 0 1,0 -2.6,0M177,242.9m-1.3,0a1.3,1.3 0 1,0 2.6,0a1.3,1.3 0 1,0 -2.6,0M177.7,241.9m-1.3,0a1.3,1.3 0 1,0 2.6,0a1.3,1.3 0 1,0 -2.6,0M178.4,240.6m-1.3,0a1.3,1.3 0 1,0 2.6,0a1.3,1.3 0 1,0 -2.6,0M179.1,239.2m-1.3,0a1.3,1.3 0 1,0 2.6,0a1.3,1.3 0 1,0 -2.6,0M179.9,237.7m-1.3,0a1.3,1.3 0 1,0 2.6,0a1.3,1.3 0 1,0 -2.6,0M180.6,236.2m-1.3,0a1.3,1.3 0 1,0 2.6,0a1.3,1.3 0 1,0 -2.6,0M181.3,234.8m-1.3,0a1.3,1.3 0 1,0 2.6,0a1.3,1.3 0 1,0 -2.6,0M182,233.6m-1.3,0a1.3,1.3 0 1,0 2.6,0a1.3,1.3 0 1,0 -2.6,0M182.7,232.6m-1.3,0a1.3,1.3 0 1,0 2.6,0a1.3,1.3 0 1,0 -2.6,0M183.4,231.9m-1.3,0a1.3,1.3 0 1,0 2.6,0a1.3,1.3 0 1,0 -2.6,0M184.1,231.6m-1.3,0a1.3,1.3 0 1,0 2.6,0a1.3,1.3 0 1,0 -2.6,0M184.8,231.6m-1.3,0a1.3,1.3 0 1,0 2.6,0a1.3,1.3 0 1,0 -2.6,0M185.5,232.1m-1.3,0a1.3,1.3 0 1,0 2.6,0a1.3,1.3 0 1,0 -2.6,0M186.2,232.9m-1.3,0a1.3,1.3 0 1,0 2.6,0a1.3,1.3 0 1,0 -2.6,0M186.9,234.1m-1.3,0a1.3,1.3 0 1,0 2.6,0a1.3,1.3 0 1,0 -2.6,0M187.7,235.6m-1.3,0a1.3,1.3 0 1,0 2.6,0a1.3,1.3 0 1,0 -2.6,0M188.4,237.2m-1.3,0a1.3,1.3 0 1,0 2.6,0a1.3,1.3 0 1,0 -2.6,0M189.1,239.1m-1.3,0a1.3,1.3 0 1,0 2.6,0a1.3,1.3 0 1,0 -2.6,0M189.8,240.9m-1.3,0a1.3,1.3 0 1,0 2.6,0a1.3,1.3 0 1,0 -2.6,0M190.5,242.8m-1.3,0a1.3,1.3 0 1,0 2.6,0a1.3,1.3 0 1,0 -2.6,0M191.2,244.5m-1.3,0a1.3,1.3 0 1,0 2.6,0a1.3,1.3 0 1,0 -2.6,0M191.9,246m-1.3,0a1.3,1.3 0 1,0 2.6,0a1.3,1.3 0 1,0 -2.6,0M192.6,247.2m-1.3,0a1.3,1.3 0 1,0 2.6,0a1.3,1.3 0 1,0 -2.6,0M193.3,248.2m-1.3,0a1.3,1.3 0 1,0 2.6,0a1.3,1.3 0 1,0 -2.6,0M194,248.7m-1.3,0a1.3,1.3 0 1,0 2.6,0a1.3,1.3 0 1,0 -2.6,0M194.7,248.8m-1.3,0a1.3,1.3 0 1,0 2.6,0a1.3,1.3 0 1,0 -2.6,0M195.4,248.2m-1.3,0a1.3,1.3 0 1,0 2.6,0a1.3,1.3 0 1,0 -2.6,0M196.2,247m-1.3,0a1.3,1.3 0 1,0 2.6,0a1.3,1.3 0 1,0 -2.6,0M196.9,245.3m-1.3,0a1.3,1.3 0 1,0 2.6,0a1.3,1.3 0 1,0 -2.6,0M197.6,243.5m-1.3,0a1.3,1.3 0 1,0 2.6,0a1.3,1.3 0 1,0 -2.6,0M198.3,241.8m-1.3,0a1.3,1.3 0 1,0 2.6,0a1.3,1.3 0 1,0 -2.6,0M199,240.7m-1.3,0a1.3,1.3 0 1,0 2.6,0a1.3,1.3 0 1,0 -2.6,0M199.7,240.3m-1.3,0a1.3,1.3 0 1,0 2.6,0a1.3,1.3 0 1,0 -2.6,0" fill="none" stroke="#f59a48" stroke-width="0.65"/>
<rect x="29.6" y="172.6" width="170.2" height="133.8" fill="none" stroke="#111" stroke-width="1" />
<line x1="27.8" y1="194.6" x2="29.6" y2="194.6" stroke="#111" stroke-width="0.8" />
<text x="26" y="196.4" font-size="5.2" fill="#000" text-anchor="end" stroke="#000" stroke-width="0.22">1</text>
<line x1="27.8" y1="239.4" x2="29.6" y2="239.4" stroke="#111" stroke-width="0.8" />
<text x="26" y="241.2" font-size="5.2" fill="#000" text-anchor="end" stroke="#000" stroke-width="0.22">0</text>
<line x1="27.8" y1="284.2" x2="29.6" y2="284.2" stroke="#111" stroke-width="0.8" />
<text x="26" y="286" font-size="5.2" fill="#000" text-anchor="end" stroke="#000" stroke-width="0.22">-1</text>
<line x1="29.6" y1="306.4" x2="29.6" y2="308.4" stroke="#111" stroke-width="0.8" />
<text x="29.6" y="315.3" font-size="5.4" fill="#000" text-anchor="middle" stroke="#000" stroke-width="0.22">0</text>
<line x1="86.3" y1="306.4" x2="86.3" y2="308.4" stroke="#111" stroke-width="0.8" />
<text x="86.3" y="315.3" font-size="5.4" fill="#000" text-anchor="middle" stroke="#000" stroke-width="0.22">4</text>
<line x1="143" y1="306.4" x2="143" y2="308.4" stroke="#111" stroke-width="0.8" />
<text x="143" y="315.3" font-size="5.4" fill="#000" text-anchor="middle" stroke="#000" stroke-width="0.22">8</text>
<line x1="199.7" y1="306.4" x2="199.7" y2="308.4" stroke="#111" stroke-width="0.8" />
<text x="199.7" y="315.3" font-size="5.4" fill="#000" text-anchor="middle" stroke="#000" stroke-width="0.22">12</text>
<text x="114.4" y="329.4" font-size="9" fill="#000" text-anchor="middle" font-weight="bold" stroke="#000" stroke-width="0.08">k (&#197;<tspan font-size="5.5" dy="-3.2">-1</tspan><tspan dy="3.2">)</tspan></text>
<text x="11.5" y="239.3" font-size="9.46" fill="#000" text-anchor="middle" font-weight="bold" textLength="44" lengthAdjust="spacingAndGlyphs" transform="rotate(-90 11.5 239.3)" stroke="#000" stroke-width="0.08">k<tspan font-size="5.5" dy="1.8">3</tspan><tspan dy="-1.8">&#967;(k) (&#197;</tspan><tspan font-size="5.5" dy="-3">-3</tspan><tspan dy="3">)</tspan></text>
<text x="0.2" y="177.5" font-size="19.5" fill="#000" text-anchor="start" >d</text>
<line x1="130.8" y1="180.4" x2="146.2" y2="180.4" stroke="#c4c4c4" stroke-width="1" />
<text x="149" y="182.7" font-size="6.8" fill="#000" text-anchor="start" textLength="37" lengthAdjust="spacingAndGlyphs" stroke="#000" stroke-width="0.22">Ru NPs/TiN</text>
<circle cx="138.2" cy="189.3" r="1.3" fill="none" stroke="#f59a48" stroke-width="0.65"/>
<text x="149" y="191.6" font-size="6.8" fill="#000" text-anchor="start" stroke="#000" stroke-width="0.22">fitting</text>
<line x1="284.4" y1="281" x2="284.4" y2="296" stroke="#333" stroke-width="0.9" />
<line x1="288.3" y1="276.4" x2="288.3" y2="296" stroke="#333" stroke-width="1" />
<path d="M266.1,296L266.4,296 266.6,296 266.9,296 267.1,296 267.4,296 267.6,296 267.9,296 268.1,296 268.4,296 268.6,296 268.9,296 269.1,296 269.4,296 269.6,296 269.9,296 270.1,296 270.4,296 270.6,296 270.9,296 271.1,296 271.4,296 271.6,296 271.9,296 272.1,296 272.4,296 272.6,296 272.9,296 273.1,296 273.4,296 273.6,296 273.9,296 274.1,296 274.4,296 274.6,296 274.9,296 275.1,296 275.4,296 275.6,296 275.9,296 276.1,296 276.4,296 276.6,296 276.9,296 277.1,296 277.4,296 277.6,296 277.9,296 278.1,296 278.4,296 278.6,296 278.9,296 279.1,296 279.4,296 279.6,295.9 279.9,295.9 280.1,295.9 280.4,295.9 280.6,295.9 280.9,295.9 281.2,295.9 281.4,295.9 281.7,295.9 281.9,295.9 282.2,295.9 282.4,295.9 282.7,295.9 282.9,295.9 283.2,295.9 283.4,295.8 283.7,295.2 283.9,293.9 284.2,283.6 284.4,269.4 284.7,257.9 284.9,249.7 285.2,245.8 285.4,246.2 285.7,247.4 285.9,248.5 286.2,249.7 286.4,250.9 286.7,252.2 286.9,253.5 287.2,254.6 287.4,255.6 287.7,256.5 287.9,257.2 288.2,257.9 288.4,258.6 288.7,259.2 288.9,259.8 289.2,260.4 289.4,260.9 289.7,261.4 289.9,261.8 290.2,262.3 290.4,262.7 290.7,263.1 290.9,263.5 291.2,263.9 291.4,264.3 291.7,264.7 291.9,265 292.2,265.4 292.4,265.7 292.7,266 292.9,266.3 293.2,266.7 293.4,267 293.7,267.3 293.9,267.6 294.2,267.9 294.4,268.2 294.7,268.5 294.9,268.8 295.2,269.1 295.5,269.4 295.7,269.8 296,270.1 296.2,270.4 296.5,270.7 296.7,271 297,271.3 297.2,271.7 297.5,272 297.7,272.3 298,272.6 298.2,272.9 298.5,273.2 298.7,273.5 299,273.8 299.2,274.1 299.5,274.4 299.7,274.7 300,275 300.2,275.3 300.5,275.5 300.7,275.8 301,276.1 301.2,276.4 301.5,276.6 301.7,276.9 302,277.2 302.2,277.4 302.5,277.7 302.7,277.9 303,278.2 303.2,278.4 303.5,278.7 303.7,278.9 304,279.2 304.2,279.4 304.5,279.7 304.7,279.9 305,280.2 305.2,280.4 305.5,280.7 305.7,280.9 306,281.1 306.2,281.4 306.5,281.6 306.7,281.8 307,282.1 307.2,282.3 307.5,282.5 307.7,282.7 308,282.9 308.2,283.2 308.5,283.4 308.7,283.6 309,283.8 309.2,284 309.5,284.2 309.7,284.4 310,284.5 310.3,284.7 310.5,284.9 310.8,285.1 311,285.2 311.3,285.4 311.5,285.6 311.8,285.7 312,285.9 312.3,286.1 312.5,286.2 312.8,286.4 313,286.5 313.3,286.7 313.5,286.9 313.8,287 314,287.2 314.3,287.3 314.5,287.5 314.8,287.7 315,287.8 315.3,288 315.5,288.1 315.8,288.2 316,288.4 316.3,288.5 316.5,288.7 316.8,288.8 317,288.9 317.3,289 317.5,289.1 317.8,289.3 318,289.4 318.3,289.5 318.5,289.5 318.8,289.6 319,289.7 319.3,289.8 319.5,289.8 319.8,289.9 320,289.9 320.3,290 320.5,290 320.8,290 321,290.1 321.3,290.1 321.5,290.1 321.8,290.1 322,290.1 322.3,290.2 322.5,290.2 322.8,290.2 323,290.2 323.3,290.3 323.5,290.3 323.8,290.3 324,290.3 324.3,290.3 324.6,290.3 324.8,290.4 325.1,290.4 325.3,290.4 325.6,290.4 325.8,290.4 326.1,290.4 326.3,290.4 326.6,290.5 326.8,290.5 327.1,290.5 327.3,290.5 327.6,290.5 327.8,290.5 328.1,290.5 328.3,290.5 328.6,290.6 328.8,290.6 329.1,290.6 329.3,290.6 329.6,290.6 329.8,290.6 330.1,290.6 330.3,290.6 330.6,290.6 330.8,290.6 331.1,290.7 331.3,290.7 331.6,290.7 331.8,290.7 332.1,290.7 332.3,290.7 332.6,290.7 332.8,290.7 333.1,290.7 333.3,290.7 333.6,290.7 333.8,290.8 334.1,290.8 334.3,290.8 334.6,290.8 334.8,290.8 335.1,290.8 335.3,290.8 335.6,290.8 335.8,290.8 336.1,290.8 336.3,290.8 336.6,290.9 336.8,290.9 337.1,290.9 337.3,290.9 337.6,290.9 337.8,290.9 338.1,290.9 338.3,290.9 338.6,290.9 338.8,290.9 339.1,290.9 339.4,290.9 339.6,290.9 339.9,290.9 340.1,291 340.4,291 340.6,291 340.9,291 341.1,291 341.4,291 341.6,291 341.9,291 342.1,291 342.4,291 342.6,291 342.9,291 343.1,291 343.4,291 343.6,291 343.9,291 344.1,291 344.4,291 344.6,291.1 344.9,291.1 345.1,291.1 345.4,291.1 345.6,291.1 345.9,291.1 346.1,291.1 346.4,291.1 346.6,291.1 346.9,291.1 347.1,291.1 347.4,291.1 347.6,291.1 347.9,291.1 348.1,291.2 348.4,291.2 348.6,291.2 348.9,291.2 349.1,291.2 349.4,291.2 349.6,291.2 349.9,291.2 350.1,291.2 350.4,291.3 350.6,291.3 350.9,291.3 351.1,291.3 351.4,291.3 351.6,291.3 351.9,291.4 352.1,291.4 352.4,291.4 352.6,291.4 352.9,291.5 353.1,291.5 353.4,291.5 353.7,291.6 353.9,291.6 354.2,291.7 354.4,291.7 354.7,291.8 354.9,291.8 355.2,291.9 355.4,291.9 355.7,292 355.9,292.1 356.2,292.1 356.4,292.2 356.7,292.2 356.9,292.3 357.2,292.4 357.4,292.4 357.7,292.5 357.9,292.6 358.2,292.6 358.4,292.7 358.7,292.8 358.9,292.8 359.2,292.9 359.4,293 359.7,293 359.9,293.1 360.2,293.2 360.4,293.2 360.7,293.3 360.9,293.4 361.2,293.4 361.4,293.5 361.7,293.5 361.9,293.6 362.2,293.6 362.4,293.7 362.7,293.8 362.9,293.8 363.2,293.9 363.4,294 363.7,294 363.9,294.1 364.2,294.2 364.4,294.2 364.7,294.3 364.9,294.4 365.2,294.5 365.4,294.5 365.7,294.6 365.9,294.7 366.2,294.8 366.4,294.8 366.7,294.9 366.9,295 367.2,295 367.4,295.1 367.7,295.2 367.9,295.3 368.2,295.3 368.5,295.4 368.7,295.4 369,295.5 369.2,295.6 369.5,295.6 369.7,295.7 370,295.7 370.2,295.8 370.5,295.8 370.7,295.8 371,295.9 371.2,295.9 371.5,295.9 371.7,296 372,296 372.2,296 372.5,296 372.7,296 373,296 373.2,296 373.5,296 373.7,296 374,296 374.2,296 374.5,296 374.7,296 375,296 375.2,296 375.5,296 375.7,296 376,296 376.2,296 376.5,296 376.7,296 377,296 377.2,296 377.5,296 377.7,296 378,296 378.2,296 378.5,296 378.7,296 379,296 379.2,296.1 379.5,296.1 379.7,296.1 380,296.1 380.2,296.1 380.5,296.1 380.7,296.1 381,296.1 381.2,296.1 381.5,296.1 381.7,296.1 382,296.1 382.2,296.1 382.5,296.1 382.8,296.1 383,296.1 383.3,296.1 383.5,296.1 383.8,296.1 384,296.1 384.3,296.1 384.5,296.1 384.8,296.1 385,296.1 385.3,296.1 385.5,296.1 385.8,296.1 386,296.1 386.3,296.1 386.5,296.1 386.8,296.1 387,296.1 387.3,296.1 387.5,296.1 387.8,296.1 388,296.1 388.3,296.1 388.5,296.1 388.8,296.1 389,296.1 389.3,296.1 389.5,296.1 389.8,296.1 390,296.1 390.3,296.1 390.5,296.1 390.8,296.1 391,296.1 391.3,296.1 391.5,296.1 391.8,296.1 392,296.1 392.3,296.1 392.5,296.1 392.8,296.1 393,296.1 393.3,296.1 393.5,296.1 393.8,296.1 394,296.1 394.3,296.1 394.5,296.1 394.8,296.1 395,296.1 395.3,296.1 395.5,296.1 395.8,296.1 396,296.1 396.3,296.1 396.5,296.1 396.8,296.1 397,296.1 397.3,296.1" fill="none" stroke="#ef4b4b" stroke-width="1.1" stroke-linejoin="round" stroke-linecap="round" />
<path d="M266.1,296L266.4,296 266.6,296 266.9,296 267.1,296 267.4,296 267.6,296 267.9,296 268.1,296 268.4,296 268.6,296 268.9,296 269.1,296 269.4,296 269.6,296 269.9,296 270.1,296 270.4,296 270.6,296 270.9,296 271.1,296 271.4,296 271.6,296 271.9,296 272.1,296 272.4,296 272.6,296 272.9,296 273.1,296 273.4,296 273.6,296 273.9,296 274.1,296 274.4,296 274.6,296 274.9,296 275.1,296 275.4,296 275.6,296 275.9,296 276.1,296 276.4,296 276.6,296 276.9,296 277.1,296 277.4,296 277.6,296 277.9,296 278.1,296 278.4,296 278.6,296 278.9,296 279.1,296 279.4,296 279.6,296 279.9,296 280.1,296 280.4,296 280.6,296 280.9,296 281.2,296 281.4,296 281.7,296 281.9,296 282.2,296 282.4,296 282.7,296 282.9,296 283.2,295.9 283.4,295.9 283.7,295.9 283.9,295.9 284.2,295.9 284.4,295.9 284.7,295.9 284.9,295.9 285.2,295.9 285.4,295.9 285.7,295.9 285.9,295.9 286.2,295.9 286.4,295.9 286.7,295.9 286.9,295.9 287.2,295.9 287.4,295.9 287.7,295.9 287.9,295.7 288.2,295.1 288.4,278.5 288.7,234.9 288.9,206.3 289.2,201 289.4,202.7 289.7,204.9 289.9,206.8 290.2,208.8 290.4,210.9 290.7,213.1 290.9,215.2 291.2,217.4 291.4,219.5 291.7,221.6 291.9,223.5 292.2,225.4 292.4,227.3 292.7,229.2 292.9,231.1 293.2,233 293.4,234.8 293.7,236.6 293.9,238.3 294.2,240 294.4,241.6 294.7,243 294.9,244.4 295.2,245.6 295.5,246.6 295.7,247.5 296,248.4 296.2,249.2 296.5,250 296.7,250.7 297,251.4 297.2,252.1 297.5,252.7 297.7,253.3 298,253.9 298.2,254.5 298.5,255 298.7,255.6 299,256.1 299.2,256.6 299.5,257.1 299.7,257.6 300,258.1 300.2,258.6 300.5,259.1 300.7,259.6 301,260.1 301.2,260.5 301.5,261 301.7,261.4 302,261.9 302.2,262.3 302.5,262.7 302.7,263.1 303,263.6 303.2,264 303.5,264.4 303.7,264.8 304,265.1 304.2,265.5 304.5,265.9 304.7,266.3 305,266.7 305.2,267.1 305.5,267.5 305.7,267.8 306,268.2 306.2,268.6 306.5,269 306.7,269.4 307,269.8 307.2,270.2 307.5,270.6 307.7,271 308,271.4 308.2,271.9 308.5,272.3 308.7,272.7 309,273.1 309.2,273.5 309.5,273.9 309.7,274.4 310,274.8 310.3,275.2 310.5,275.6 310.8,276 311,276.4 311.3,276.7 311.5,277.1 311.8,277.5 312,277.8 312.3,278.2 312.5,278.5 312.8,278.8 313,279.1 313.3,279.4 313.5,279.7 313.8,280 314,280.2 314.3,280.5 314.5,280.8 314.8,281 315,281.3 315.3,281.5 315.5,281.8 315.8,282 316,282.3 316.3,282.5 316.5,282.7 316.8,283 317,283.2 317.3,283.4 317.5,283.6 317.8,283.8 318,284 318.3,284.2 318.5,284.4 318.8,284.6 319,284.7 319.3,284.9 319.5,285 319.8,285.2 320,285.3 320.3,285.4 320.5,285.5 320.8,285.6 321,285.7 321.3,285.8 321.5,285.9 321.8,286 322,286.1 322.3,286.2 322.5,286.3 322.8,286.4 323,286.4 323.3,286.5 323.5,286.6 323.8,286.7 324,286.7 324.3,286.8 324.6,286.9 324.8,286.9 325.1,287 325.3,287.1 325.6,287.1 325.8,287.2 326.1,287.2 326.3,287.3 326.6,287.3 326.8,287.4 327.1,287.4 327.3,287.5 327.6,287.5 327.8,287.6 328.1,287.6 328.3,287.6 328.6,287.7 328.8,287.7 329.1,287.8 329.3,287.8 329.6,287.8 329.8,287.9 330.1,287.9 330.3,287.9 330.6,287.9 330.8,288 331.1,288 331.3,288 331.6,288.1 331.8,288.1 332.1,288.1 332.3,288.1 332.6,288.2 332.8,288.2 333.1,288.2 333.3,288.2 333.6,288.2 333.8,288.3 334.1,288.3 334.3,288.3 334.6,288.3 334.8,288.4 335.1,288.4 335.3,288.4 335.6,288.4 335.8,288.4 336.1,288.5 336.3,288.5 336.6,288.5 336.8,288.5 337.1,288.5 337.3,288.6 337.6,288.6 337.8,288.6 338.1,288.6 338.3,288.6 338.6,288.7 338.8,288.7 339.1,288.7 339.4,288.7 339.6,288.8 339.9,288.8 340.1,288.8 340.4,288.8 340.6,288.9 340.9,288.9 341.1,288.9 341.4,288.9 341.6,288.9 341.9,289 342.1,289 342.4,289 342.6,289 342.9,289.1 343.1,289.1 343.4,289.1 343.6,289.1 343.9,289.1 344.1,289.2 344.4,289.2 344.6,289.2 344.9,289.2 345.1,289.2 345.4,289.3 345.6,289.3 345.9,289.3 346.1,289.3 346.4,289.3 346.6,289.4 346.9,289.4 347.1,289.4 347.4,289.4 347.6,289.4 347.9,289.5 348.1,289.5 348.4,289.5 348.6,289.5 348.9,289.6 349.1,289.6 349.4,289.6 349.6,289.6 349.9,289.6 350.1,289.7 350.4,289.7 350.6,289.7 350.9,289.7 351.1,289.8 351.4,289.8 351.6,289.8 351.9,289.8 352.1,289.9 352.4,289.9 352.6,289.9 352.9,289.9 353.1,290 353.4,290 353.7,290 353.9,290 354.2,290.1 354.4,290.1 354.7,290.1 354.9,290.2 355.2,290.2 355.4,290.2 355.7,290.3 355.9,290.3 356.2,290.3 356.4,290.4 356.7,290.4 356.9,290.4 357.2,290.5 357.4,290.5 357.7,290.5 357.9,290.6 358.2,290.6 358.4,290.7 358.7,290.7 358.9,290.8 359.2,290.8 359.4,290.9 359.7,290.9 359.9,290.9 360.2,291 360.4,291 360.7,291.1 360.9,291.2 361.2,291.2 361.4,291.3 361.7,291.3 361.9,291.4 362.2,291.4 362.4,291.5 362.7,291.5 362.9,291.6 363.2,291.7 363.4,291.7 363.7,291.8 363.9,291.8 364.2,291.9 364.4,292 364.7,292 364.9,292.1 365.2,292.1 365.4,292.2 365.7,292.3 365.9,292.3 366.2,292.4 366.4,292.5 366.7,292.5 366.9,292.6 367.2,292.7 367.4,292.7 367.7,292.8 367.9,292.9 368.2,293 368.5,293.1 368.7,293.2 369,293.3 369.2,293.4 369.5,293.5 369.7,293.6 370,293.7 370.2,293.8 370.5,293.9 370.7,294 371,294.1 371.2,294.2 371.5,294.3 371.7,294.4 372,294.5 372.2,294.6 372.5,294.7 372.7,294.8 373,294.9 373.2,295 373.5,295 373.7,295.1 374,295.1 374.2,295.2 374.5,295.2 374.7,295.3 375,295.3 375.2,295.3 375.5,295.3 375.7,295.4 376,295.4 376.2,295.4 376.5,295.4 376.7,295.4 377,295.4 377.2,295.5 377.5,295.5 377.7,295.5 378,295.5 378.2,295.5 378.5,295.5 378.7,295.6 379,295.6 379.2,295.6 379.5,295.6 379.7,295.6 380,295.6 380.2,295.6 380.5,295.7 380.7,295.7 381,295.7 381.2,295.7 381.5,295.7 381.7,295.7 382,295.7 382.2,295.7 382.5,295.8 382.8,295.8 383,295.8 383.3,295.8 383.5,295.8 383.8,295.8 384,295.8 384.3,295.8 384.5,295.8 384.8,295.9 385,295.9 385.3,295.9 385.5,295.9 385.8,295.9 386,295.9 386.3,295.9 386.5,295.9 386.8,295.9 387,295.9 387.3,295.9 387.5,296 387.8,296 388,296 388.3,296 388.5,296 388.8,296 389,296 389.3,296 389.5,296 389.8,296 390,296 390.3,296 390.5,296 390.8,296 391,296 391.3,296 391.5,296 391.8,296.1 392,296.1 392.3,296.1 392.5,296.1 392.8,296.1 393,296.1 393.3,296.1 393.5,296.1 393.8,296.1 394,296.1 394.3,296.1 394.5,296.1 394.8,296.1 395,296.1 395.3,296.1 395.5,296.1 395.8,296.1 396,296.1 396.3,296.1 396.5,296.1 396.8,296.1 397,296.1 397.3,296.1" fill="none" stroke="#45c1d6" stroke-width="1.1" stroke-linejoin="round" stroke-linecap="round" />
<path d="M266.1,296L266.4,296 266.6,296 266.9,296 267.1,296 267.4,296 267.6,296 267.9,296 268.1,296 268.4,296 268.6,296 268.9,296 269.1,296 269.4,296 269.6,296 269.9,296 270.1,296 270.4,296 270.6,296 270.9,296 271.1,296 271.4,296 271.6,296 271.9,296 272.1,296 272.4,296 272.6,296 272.9,296 273.1,296 273.4,296 273.6,296 273.9,296 274.1,296 274.4,296 274.6,296 274.9,296 275.1,296 275.4,296 275.6,296 275.9,296 276.1,296 276.4,296 276.6,296 276.9,296 277.1,296 277.4,296 277.6,296 277.9,296 278.1,296 278.4,296 278.6,296 278.9,296 279.1,296 279.4,296 279.6,296 279.9,296 280.1,296 280.4,296 280.6,296 280.9,296 281.2,296 281.4,296 281.7,296 281.9,296 282.2,296 282.4,296 282.7,296 282.9,296 283.2,295.9 283.4,295.9 283.7,295.9 283.9,295.9 284.2,295.9 284.4,295.9 284.7,295.9 284.9,295.9 285.2,295.9 285.4,295.9 285.7,295.9 285.9,295.9 286.2,295.9 286.4,295.9 286.7,295.9 286.9,295.9 287.2,295.9 287.4,295.9 287.7,295.9 287.9,295.9 288.2,295.7 288.4,295.4 288.7,294 288.9,283.5 289.2,269.4 289.4,251.2 289.7,235.3 289.9,220.4 290.2,208.5 290.4,202.1 290.7,197.8 290.9,196.4 291.2,196.8 291.4,197.5 291.7,198.5 291.9,199.8 292.2,201.9 292.4,204.7 292.7,207.7 292.9,210.5 293.2,212.7 293.4,214.3 293.7,215.8 293.9,217.3 294.2,218.7 294.4,220 294.7,221.2 294.9,222.4 295.2,223.5 295.5,224.6 295.7,225.7 296,226.7 296.2,227.7 296.5,228.6 296.7,229.6 297,230.5 297.2,231.4 297.5,232.3 297.7,233.2 298,234.1 298.2,235 298.5,235.9 298.7,236.8 299,237.6 299.2,238.5 299.5,239.3 299.7,240.1 300,240.9 300.2,241.6 300.5,242.4 300.7,243.2 301,243.9 301.2,244.7 301.5,245.4 301.7,246.1 302,246.8 302.2,247.5 302.5,248.2 302.7,248.9 303,249.6 303.2,250.2 303.5,250.9 303.7,251.6 304,252.2 304.2,252.9 304.5,253.6 304.7,254.2 305,254.9 305.2,255.5 305.5,256.1 305.7,256.8 306,257.4 306.2,258 306.5,258.6 306.7,259.2 307,259.9 307.2,260.5 307.5,261.1 307.7,261.6 308,262.2 308.2,262.8 308.5,263.4 308.7,263.9 309,264.5 309.2,265.1 309.5,265.6 309.7,266.1 310,266.7 310.3,267.2 310.5,267.7 310.8,268.2 311,268.7 311.3,269.2 311.5,269.7 311.8,270.2 312,270.7 312.3,271.2 312.5,271.6 312.8,272.1 313,272.6 313.3,273 313.5,273.5 313.8,274 314,274.4 314.3,274.9 314.5,275.3 314.8,275.7 315,276.2 315.3,276.6 315.5,277 315.8,277.4 316,277.8 316.3,278.2 316.5,278.6 316.8,279 317,279.3 317.3,279.7 317.5,280 317.8,280.4 318,280.7 318.3,281 318.5,281.3 318.8,281.6 319,281.9 319.3,282.3 319.5,282.6 319.8,282.9 320,283.2 320.3,283.5 320.5,283.8 320.8,284.1 321,284.4 321.3,284.7 321.5,284.9 321.8,285.2 322,285.4 322.3,285.6 322.5,285.8 322.8,286 323,286.2 323.3,286.3 323.5,286.5 323.8,286.6 324,286.7 324.3,286.7 324.6,286.8 324.8,286.9 325.1,287 325.3,287 325.6,287.1 325.8,287.2 326.1,287.2 326.3,287.3 326.6,287.3 326.8,287.4 327.1,287.4 327.3,287.5 327.6,287.5 327.8,287.6 328.1,287.6 328.3,287.7 328.6,287.7 328.8,287.8 329.1,287.8 329.3,287.8 329.6,287.9 329.8,287.9 330.1,287.9 330.3,288 330.6,288 330.8,288 331.1,288.1 331.3,288.1 331.6,288.1 331.8,288.2 332.1,288.2 332.3,288.2 332.6,288.3 332.8,288.3 333.1,288.3 333.3,288.4 333.6,288.4 333.8,288.4 334.1,288.4 334.3,288.5 334.6,288.5 334.8,288.5 335.1,288.5 335.3,288.6 335.6,288.6 335.8,288.6 336.1,288.6 336.3,288.7 336.6,288.7 336.8,288.7 337.1,288.7 337.3,288.7 337.6,288.8 337.8,288.8 338.1,288.8 338.3,288.8 338.6,288.8 338.8,288.9 339.1,288.9 339.4,288.9 339.6,288.9 339.9,289 340.1,289 340.4,289 340.6,289 340.9,289 341.1,289.1 341.4,289.1 341.6,289.1 341.9,289.1 342.1,289.1 342.4,289.2 342.6,289.2 342.9,289.2 343.1,289.2 343.4,289.2 343.6,289.3 343.9,289.3 344.1,289.3 344.4,289.3 344.6,289.3 344.9,289.3 345.1,289.4 345.4,289.4 345.6,289.4 345.9,289.4 346.1,289.4 346.4,289.5 346.6,289.5 346.9,289.5 347.1,289.5 347.4,289.5 347.6,289.5 347.9,289.6 348.1,289.6 348.4,289.6 348.6,289.6 348.9,289.6 349.1,289.6 349.4,289.7 349.6,289.7 349.9,289.7 350.1,289.7 350.4,289.7 350.6,289.8 350.9,289.8 351.1,289.8 351.4,289.8 351.6,289.8 351.9,289.9 352.1,289.9 352.4,289.9 352.6,289.9 352.9,289.9 353.1,290 353.4,290 353.7,290 353.9,290 354.2,290.1 354.4,290.1 354.7,290.1 354.9,290.1 355.2,290.2 355.4,290.2 355.7,290.2 355.9,290.2 356.2,290.3 356.4,290.3 356.7,290.3 356.9,290.3 357.2,290.4 357.4,290.4 357.7,290.4 357.9,290.5 358.2,290.5 358.4,290.5 358.7,290.6 358.9,290.6 359.2,290.7 359.4,290.7 359.7,290.7 359.9,290.8 360.2,290.8 360.4,290.9 360.7,290.9 360.9,290.9 361.2,291 361.4,291 361.7,291.1 361.9,291.1 362.2,291.2 362.4,291.2 362.7,291.3 362.9,291.3 363.2,291.4 363.4,291.4 363.7,291.5 363.9,291.5 364.2,291.6 364.4,291.6 364.7,291.7 364.9,291.7 365.2,291.8 365.4,291.8 365.7,291.9 365.9,292 366.2,292 366.4,292.1 366.7,292.1 366.9,292.2 367.2,292.3 367.4,292.3 367.7,292.4 367.9,292.5 368.2,292.6 368.5,292.7 368.7,292.7 369,292.8 369.2,292.9 369.5,293 369.7,293.1 370,293.2 370.2,293.3 370.5,293.4 370.7,293.5 371,293.6 371.2,293.7 371.5,293.8 371.7,293.9 372,294 372.2,294.1 372.5,294.2 372.7,294.3 373,294.3 373.2,294.4 373.5,294.5 373.7,294.6 374,294.7 374.2,294.8 374.5,294.9 374.7,295 375,295.1 375.2,295.2 375.5,295.3 375.7,295.4 376,295.4 376.2,295.5 376.5,295.6 376.7,295.6 377,295.7 377.2,295.7 377.5,295.8 377.7,295.8 378,295.8 378.2,295.8 378.5,295.8 378.7,295.8 379,295.8 379.2,295.8 379.5,295.8 379.7,295.9 380,295.9 380.2,295.9 380.5,295.9 380.7,295.9 381,295.9 381.2,295.9 381.5,295.9 381.7,295.9 382,295.9 382.2,295.9 382.5,295.9 382.8,295.9 383,295.9 383.3,296 383.5,296 383.8,296 384,296 384.3,296 384.5,296 384.8,296 385,296 385.3,296 385.5,296 385.8,296 386,296 386.3,296 386.5,296 386.8,296 387,296 387.3,296 387.5,296 387.8,296 388,296 388.3,296 388.5,296 388.8,296 389,296.1 389.3,296.1 389.5,296.1 389.8,296.1 390,296.1 390.3,296.1 390.5,296.1 390.8,296.1 391,296.1 391.3,296.1 391.5,296.1 391.8,296.1 392,296.1 392.3,296.1 392.5,296.1 392.8,296.1 393,296.1 393.3,296.1 393.5,296.1 393.8,296.1 394,296.1 394.3,296.1 394.5,296.1 394.8,296.1 395,296.1 395.3,296.1 395.5,296.1 395.8,296.1 396,296.1 396.3,296.1 396.5,296.1 396.8,296.1 397,296.1 397.3,296.1" fill="none" stroke="#f7931e" stroke-width="1.1" stroke-linejoin="round" stroke-linecap="round" />
<rect x="265.9" y="184" width="131.7" height="114.6" fill="none" stroke="#333" stroke-width="1" />
<line x1="266.1" y1="298.6" x2="266.1" y2="300.6" stroke="#111" stroke-width="0.8" />
<text x="266.1" y="307.2" font-size="5.4" fill="#000" text-anchor="middle" stroke="#000" stroke-width="0.22">20</text>
<line x1="292.34" y1="298.6" x2="292.34" y2="300.6" stroke="#111" stroke-width="0.8" />
<text x="292.34" y="307.2" font-size="5.4" fill="#000" text-anchor="middle" stroke="#000" stroke-width="0.22">16</text>
<line x1="318.58" y1="298.6" x2="318.58" y2="300.6" stroke="#111" stroke-width="0.8" />
<text x="318.58" y="307.2" font-size="5.4" fill="#000" text-anchor="middle" stroke="#000" stroke-width="0.22">12</text>
<line x1="344.82" y1="298.6" x2="344.82" y2="300.6" stroke="#111" stroke-width="0.8" />
<text x="344.82" y="307.2" font-size="5.4" fill="#000" text-anchor="middle" stroke="#000" stroke-width="0.22">8</text>
<line x1="371.06" y1="298.6" x2="371.06" y2="300.6" stroke="#111" stroke-width="0.8" />
<text x="371.06" y="307.2" font-size="5.4" fill="#000" text-anchor="middle" stroke="#000" stroke-width="0.22">4</text>
<line x1="397.3" y1="298.6" x2="397.3" y2="300.6" stroke="#111" stroke-width="0.8" />
<text x="397.3" y="307.2" font-size="5.4" fill="#000" text-anchor="middle" stroke="#000" stroke-width="0.22">0</text>
<text x="332.2" y="318.1" font-size="9.13" fill="#000" text-anchor="middle" font-weight="bold" textLength="78" lengthAdjust="spacingAndGlyphs" stroke="#000" stroke-width="0.08">Binding energy (eV)</text>
<text x="260.5" y="241.4" font-size="8.8" fill="#000" text-anchor="middle" font-weight="bold" textLength="54" lengthAdjust="spacingAndGlyphs" transform="rotate(-90 260.5 241.4)" stroke="#000" stroke-width="0.08">Intensity (a.u.)</text>
<text x="223.3" y="177.5" font-size="20" fill="#000" text-anchor="start" >e</text>
<line x1="339.7" y1="197.5" x2="350.8" y2="197.5" stroke="#ef4b4b" stroke-width="1.4" />
<text x="352.7" y="200.1" font-size="8.47" fill="#000" text-anchor="start" textLength="16.3" lengthAdjust="spacingAndGlyphs" stroke="#000" stroke-width="0.22">TiO<tspan font-size="5.8" dy="1.8">2</tspan></text>
<line x1="339.7" y1="209" x2="350.8" y2="209" stroke="#45c1d6" stroke-width="1.4" />
<text x="352.7" y="211.6" font-size="8.47" fill="#000" text-anchor="start" textLength="12.8" lengthAdjust="spacingAndGlyphs" stroke="#000" stroke-width="0.22">TiN</text>
<line x1="339.7" y1="218.6" x2="350.8" y2="218.6" stroke="#f7931e" stroke-width="1.4" />
<text x="352.7" y="221.2" font-size="8.47" fill="#000" text-anchor="start" textLength="42.4" lengthAdjust="spacingAndGlyphs" stroke="#000" stroke-width="0.22">Ru NPs/TiN</text>
<text x="267.2" y="274.9" font-size="7.92" fill="#45c0d5" text-anchor="start" textLength="18.3" lengthAdjust="spacingAndGlyphs" stroke="#45c0d5" stroke-width="0.22">16.67</text>
<text x="267.2" y="288.8" font-size="7.92" fill="#e84848" text-anchor="start" textLength="17.8" lengthAdjust="spacingAndGlyphs" stroke="#e84848" stroke-width="0.22">17.21</text>
<text x="290" y="291" font-size="7.92" fill="#f5962e" text-anchor="start" textLength="18.4" lengthAdjust="spacingAndGlyphs" stroke="#f5962e" stroke-width="0.22">16.55</text>
<defs>
<linearGradient id="gru" x1="0" x2="1" y1="0" y2="0"><stop offset="0" stop-color="#e6f6fa"/><stop offset="1" stop-color="#9fe2ee"/></linearGradient>
<linearGradient id="gtin" x1="0" x2="1" y1="0" y2="0"><stop offset="0" stop-color="#f8868b"/><stop offset="1" stop-color="#fde2e3"/></linearGradient>
<linearGradient id="gnp" x1="0" x2="1" y1="0" y2="0"><stop offset="0" stop-color="#f9a27f"/><stop offset="1" stop-color="#fde7df"/></linearGradient>
</defs>
<rect x="449.5" y="237.5" width="47.2" height="59.9" fill="url(#gru)" stroke="none" stroke-width="1" />
<rect x="507" y="228.5" width="47" height="68.9" fill="url(#gtin)" stroke="none" stroke-width="1" />
<rect x="594" y="234.9" width="47.9" height="62.5" fill="url(#gnp)" stroke="none" stroke-width="1" />
<path d="M449.5,197.2 H497.2 V297.4" fill="none" stroke="#000" stroke-width="1.8"/>
<line x1="449.5" y1="237.5" x2="497.2" y2="237.5" stroke="#000" stroke-width="1.8" />
<path d="M507.0,297.4 V197.2 H554" fill="none" stroke="#000" stroke-width="1.8"/>
<line x1="507" y1="228.5" x2="554" y2="228.5" stroke="#000" stroke-width="1.8" />
<path d="M594.0,297.4 V197.2 H641.9" fill="none" stroke="#000" stroke-width="1.8"/>
<line x1="594" y1="234.9" x2="641.9" y2="234.9" stroke="#000" stroke-width="1.8" />
<line x1="473.1" y1="202.6" x2="473.1" y2="211.3" stroke="#000" stroke-width="1.8" /><path d="M473.1,198.1 L475.9,203.1 L470.3,203.1 Z" fill="#000"/>
<line x1="473.1" y1="232.1" x2="473.1" y2="223.7" stroke="#000" stroke-width="1.8" /><path d="M473.1,236.6 L475.9,231.6 L470.3,231.6 Z" fill="#000"/>
<line x1="531.4" y1="202.6" x2="531.4" y2="207.6" stroke="#000" stroke-width="1.8" /><path d="M531.4,198.1 L534.2,203.1 L528.6,203.1 Z" fill="#000"/>
<line x1="531.4" y1="223.1" x2="531.4" y2="217.8" stroke="#000" stroke-width="1.8" /><path d="M531.4,227.6 L534.2,222.6 L528.6,222.6 Z" fill="#000"/>
<line x1="620" y1="202.6" x2="620" y2="211.3" stroke="#000" stroke-width="1.8" /><path d="M620,198.1 L622.8,203.1 L617.2,203.1 Z" fill="#000"/>
<line x1="620" y1="229.5" x2="620" y2="220.8" stroke="#000" stroke-width="1.8" /><path d="M620,234 L622.8,229 L617.2,229 Z" fill="#000"/>
<text x="413.7" y="178.8" font-size="19.8" fill="#000" text-anchor="start" >f</text>
<text x="423.3" y="196.8" font-size="10.4" font-style="italic">E<tspan font-size="7.6" dy="2.3">vac</tspan></text>
<text x="433.2" y="236.1" font-size="10.4" font-style="italic">E<tspan font-size="7.6" dy="2.3">F</tspan></text>
<text x="559.8" y="198" font-size="10.4" font-style="italic">E<tspan font-size="7.6" dy="2.3">vac</tspan></text>
<text x="559.2" y="231.4" font-size="10.4" font-style="italic">E<tspan font-size="7.6" dy="2.3">F</tspan></text>
<text x="646" y="197.6" font-size="10.4" font-style="italic">E<tspan font-size="7.6" dy="2.3">vac</tspan></text>
<text x="649.7" y="236.8" font-size="10.4" font-style="italic">E<tspan font-size="7.6" dy="2.3">F</tspan></text>
<text x="429.4" y="221.9" font-size="10" font-style="italic">&#934;<tspan font-size="7" dy="2.4">m</tspan></text><text x="444.9" y="221.9" font-size="11" fill="#000" text-anchor="start" textLength="44.5" lengthAdjust="spacingAndGlyphs" stroke="#000" stroke-width="0.22">= 4.71 eV</text>
<text x="513.7" y="216.3" font-size="10" font-style="italic">&#934;<tspan font-size="7" dy="2.4">s</tspan></text><text x="526.9" y="216.3" font-size="11" fill="#000" text-anchor="start" textLength="44.5" lengthAdjust="spacingAndGlyphs" stroke="#000" stroke-width="0.22">= 4.53 eV</text>
<text x="600.7" y="219.1" font-size="10" font-style="italic">&#934;</text><text x="610.8" y="219.1" font-size="11" fill="#000" text-anchor="start" textLength="44.5" lengthAdjust="spacingAndGlyphs" stroke="#000" stroke-width="0.22">= 4.65 eV</text>
<text x="472.75" y="271.9" font-size="11.44" fill="#000" text-anchor="middle" textLength="13.29" lengthAdjust="spacingAndGlyphs" stroke="#000" stroke-width="0.22">Ru</text>
<text x="531.1" y="267.5" font-size="11.44" fill="#000" text-anchor="middle" textLength="15.79" lengthAdjust="spacingAndGlyphs" stroke="#000" stroke-width="0.22">TiN</text>
<text x="618.9" y="264" font-size="11.44" fill="#000" text-anchor="middle" textLength="13.29" lengthAdjust="spacingAndGlyphs" stroke="#000" stroke-width="0.22">Ru</text>
<text x="618.55" y="276.3" font-size="11.44" fill="#000" text-anchor="middle" textLength="38.2" lengthAdjust="spacingAndGlyphs" stroke="#000" stroke-width="0.22">NPs/TiN</text>
<text x="495.3" y="316.9" font-size="10.34" fill="#000" text-anchor="middle" textLength="60.61" lengthAdjust="spacingAndGlyphs" stroke="#000" stroke-width="0.22">Before contact</text>
<text x="618.3" y="316.9" font-size="10.34" fill="#000" text-anchor="middle" textLength="52.77" lengthAdjust="spacingAndGlyphs" stroke="#000" stroke-width="0.22">After contact</text>
<clipPath id="hg"><rect x="21.6" y="333.1" width="143.4" height="127.3"/></clipPath>
<g clip-path="url(#hg)">
<rect x="21.6" y="333.1" width="143.4" height="127.3" fill="#2a0000"/>
<path d="M86.6,333.3 165.1,333.1 165.1,443.9 87.6,444.4 21.6,444.1 21.6,387.2 27.5,385.1 29.6,383.6 29.7,382.6 27.6,378.6 27.9,377.1 29.3,375.6 33.1,373.6 44.1,369.6 48.1,367.6 50.7,365.6 56.8,359.1 59.4,357.1 63.6,355.7 76.6,354.4 80.1,353.3 82.6,351.8 83.9,350.1 83.9,348.1 82.6,346.2 78.3,342.6 77.9,341.1 79.7,338.6ZM147.6,335.1 145.6,335.9 144.7,337.1 145.1,338.6 146.6,339.6 149.1,340.2 152.1,340.1 154.6,339.2 155.6,338.1 155.3,336.6 153.6,335.4 150.6,334.8ZM116.4,380.1 115.6,381.1 117,382.1 119.1,382.6 125.5,382.6 127.4,382.1 128.6,381.1 127.9,380.1 125.1,379.3 121.6,379.1ZM68,388.1 64.1,388.7 61.1,389.6 59.7,390.6 59.4,392.1 60.8,393.1 64.1,394 74.1,394.7 84.1,394 87.8,393.1 89.2,392.1 88.9,391.1 87.6,390.2 82.6,388.8 75.6,388ZM102.3,417.6 86.1,418.3 80.5,419.1 80.4,419.6 90.1,420.8 108.6,421.3 126.6,420.7 133.1,420.1 134.7,419.6 134,419.1 130.9,418.6 125.1,418.1Z" fill="#560000" fill-rule="evenodd"/>
<path d="M110.8,333.1 147.2,333.1 144.6,333.9 142.6,335.1 141.7,336.6 141.8,338.1 143.2,339.6 145.1,340.6 147.6,341.3 150.6,341.5 156.1,340.6 157.9,339.6 159.2,338.1 159.3,336.6 158.2,335.1 156.1,333.9 153.4,333.1 165.1,333.1 165.1,388.7 142.6,389.5 126.4,391.1 119.6,392.6 119.8,393.1 122.1,393.6 128.1,394.1 165.1,394.5 165.1,442.2 88.6,442.8 21.6,442.5 21.6,396.9 47.1,395.9 70.1,396.2 81.1,395.9 95.1,394.6 100.5,393.6 102.4,392.6 101.4,391.6 99.2,390.6 92.1,388.2 72.2,384.6 66.6,383.1 60.5,380.1 59,378.6 58.8,377.6 60.2,375.6 68,369.6 76.6,360.1 85.6,354.6 88.2,352.6 89.9,350.6 92.7,345.6 95.1,343.1 102.1,338.1ZM157.9,364.1 157.1,364.8 156.8,365.6 157.5,366.6 158.6,367.1 162,367.1 163,366.6 163.6,365.6 163.2,364.6 161.6,363.8 159.6,363.6ZM116.8,378.1 111.1,379.6 109.9,380.6 109.7,381.6 111.1,382.9 114.1,384 118.6,384.9 123.1,385.2 127.1,384.9 130.1,384.3 132.8,383.1 134,381.6 133.9,380.6 132.8,379.6 129.1,378.4 123.1,377.8ZM92.1,417.6 78.1,418.6 75.8,419.1 75.8,419.6 88.1,420.9 108.6,421.5 129.1,421 137.6,420.2 140.2,419.6 139.3,419.1 136.1,418.6 122.1,417.6 107.1,417.3Z" fill="#740000" fill-rule="evenodd"/>
<path d="M129.9,333.1 136.7,333.1 137.3,334.1 137.9,337.1 139.3,339.1 142.4,341.1 146.6,342.4 150.6,342.8 154.6,342.7 165.1,340.2 165.1,361.8 160.6,361.7 157.6,362.3 155.3,363.6 154.3,365.6 154.9,367.1 157.1,368.6 159.6,369.2 165.1,369.8 165.1,385.4 162.1,386.6 157.1,387.2 148.6,387.2 142.6,386.5 140.6,385.9 139.4,385.1 139.1,381.1 137.2,379.1 133.3,377.6 127.6,376.7 118.1,376.6 109.1,377.9 104.4,379.6 102.3,381.1 100.2,383.6 97.7,384.1 92.6,383.6 87.6,382.4 83.2,380.6 80.3,378.6 79.1,376.6 79.1,374.6 80.3,371.6 83.1,366.6 88.1,360.1 98.6,349.9 104.6,345 112.2,340.1 120.1,336.3ZM157.6,396 165.1,396.5 165.1,441.3 89.1,442 21.6,441.5 21.6,398.7 101.1,396.4 131.1,396.7ZM104.8,417.1 83.1,417.7 69.4,419.1 69.6,419.6 78.1,420.6 106.1,421.7 133.9,421.1 146.8,420.1 148.7,419.6 142.8,418.6 131.6,417.8Z" fill="#920000" fill-rule="evenodd"/>
<path d="M128.1,339.6 130.6,339.2 133.1,339.4 144.1,343.4 158.6,345.3 160.4,346.1 161.4,347.1 162.3,349.1 162.9,352.1 162.9,355.6 162.4,357.6 160.7,359.1 154.1,362.2 152.6,363.8 152,365.6 152.3,367.1 153.5,368.6 159.4,372.1 160.5,373.6 160.9,376.1 160.7,380.6 160.1,382.5 159.2,383.6 157.1,384.5 154.6,384.9 149.1,384.3 146.9,383.1 144.6,380.1 142.1,378.2 138.6,376.7 134.1,375.7 128.1,375.1 121.6,375 100.1,376.2 96.1,375.5 93.7,373.6 93.1,372.1 93,370.1 94.4,365.6 97.6,360.6 102.9,354.6 108.6,349.6 115.1,345.1 122.1,341.6ZM156.6,397.5 165.1,398.1 165.1,418.5 108.1,416.8 83.6,417.3 51.1,419.1 21.6,418.1 21.6,400.4 96.1,397.8 132.1,398.1ZM51.1,419.1 79,421.1 104.6,421.9 165.1,420.8 165.1,440.4 89.6,441.3 21.6,440.8 21.6,420.2Z" fill="#af0000" fill-rule="evenodd"/>
<path d="M132.1,344.6 137.6,344.7 147.6,346.7 151.2,348.1 153.7,350.6 154.9,353.6 155.1,356.6 154.5,358.1 150.7,362.1 149.2,364.6 148.9,367.1 149.7,371.1 149.2,372.6 148.1,373.1 146.1,373.3 133.1,372 115.1,371.8 110.6,371.1 107.6,369.4 106.2,367.1 106.5,363.6 108.4,359.6 111.7,355.6 116.1,351.7 121.1,348.5 127.1,345.8ZM91.6,399.1 134.1,399.2 153.1,398.8 165.1,399.6 165.1,417.5 150.1,417.5 109.1,416.6 57.6,417.5 21.6,416.7 21.6,402.2ZM57.6,420.7 108.6,422.2 165.1,421.7 165.1,439.7 89.6,440.8 21.6,440.1 21.6,421.2Z" fill="#cd0000" fill-rule="evenodd"/>
<path d="M133.6,352.5 138.6,352.7 140.6,353.5 142.1,354.6 143,356.1 143.3,358.1 142.9,359.6 141.8,361.1 138.6,362.8 133.1,363.6 127.1,363.1 124.1,361.6 123.6,360.6 123.6,359.1 125.1,356.6 128.7,354.1ZM96.6,400.1 134.6,400.4 153.1,400.2 165.1,401.2 165.1,416.5 147.1,416.8 104.1,416.2 61.1,416.6 42.8,416.1 21.6,414.8 21.6,405.4 32.2,404.1 56,402.1 78.6,400.7ZM59.6,421.4 103.6,422.4 165.1,422.5 165.1,438.9 90.6,440.2 58.1,440.1 21.6,439.4 21.6,421.9Z" fill="#ea0000" fill-rule="evenodd"/>
<path d="M88.1,401.6 107.6,401.2 150.6,401.8 157.1,402.1 162.6,402.9 165.1,403.3 165.1,415.1 141.6,416.1 68.6,415.8 50.3,414.6 45.8,413.6 45,413.1 44.5,412.1 44.4,409.6 45,408.1 47.3,406.6 50.4,405.6 58.4,404.1 66.8,403.1ZM66.1,421.9 165.1,423.4 165.1,438 126.6,439.2 91.6,439.7 58.1,439.6 21.6,438.7 21.6,422.7Z" fill="#ff1000" fill-rule="evenodd"/>
<path d="M90.1,403.1 112.1,402.7 148.1,404.1 152.4,404.6 156.2,405.6 157.5,406.6 157.9,408.1 157.1,411.1 155.1,413.1 150.6,414.2 140.5,415.1 120.1,415.4 81.2,415.1 69.1,414.1 66.1,413.1 65.3,412.1 65.2,410.6 65.8,408.6 67.3,407.1 69.4,406.1 78.1,404.2ZM47.6,422.6 69.6,422.4 134.1,423.3 165.1,424.5 165.1,436.8 129.6,438.5 93.6,439.2 58.1,439 21.6,437.9 21.6,423.4Z" fill="#ff4500" fill-rule="evenodd"/>
<path d="M101.6,405.1 114.1,405.1 126.1,406.4 131.2,407.6 135.4,409.1 137.7,410.6 138,411.6 137,412.6 135.7,413.1 130.6,414 110.6,414.6 89.6,414 84.6,413.1 83.5,412.6 82.7,411.6 82.8,410.6 83.6,409.6 88.1,407.1 94.1,405.7ZM52.6,423.1 75.6,422.9 125.1,423.7 144.6,424.5 158.6,425.6 165.1,426.6 165.1,434.7 154.9,436.1 141.5,437.1 100.6,438.5 59.6,438.4 21.6,437 21.6,424.4Z" fill="#ff7a00" fill-rule="evenodd"/>
<path d="M59.1,423.6 99.1,423.7 120.6,424.2 136.6,425.1 145.9,426.1 151.2,427.1 155.2,428.6 156.5,429.6 156.9,430.6 156,432.1 154.3,433.1 146.5,435.1 132.1,436.6 112.3,437.6 87.1,438.1 61.6,437.8 40.1,437 21.6,435.5 21.6,425.8 35.6,424.6Z" fill="#ffaf00" fill-rule="evenodd"/>
<path d="M69.1,424.1 102.6,424.4 127,425.6 139.9,427.6 144.1,429.1 145.5,430.6 144.6,431.8 141.7,433.1 131.6,435.2 115.1,436.6 92.6,437.3 66.6,437.2 44.6,436.2 29.8,434.6 25.2,433.6 21.6,432.4 21.6,428.8 25.3,427.6 30.1,426.6 45.1,425Z" fill="#ffe400" fill-rule="evenodd"/>
<path d="M63.1,425.1 88.6,424.8 113.1,425.7 122,426.6 129.6,427.9 134.1,429.1 135.6,430 136,430.6 135.1,431.6 131.1,433 119.1,435 103.6,436.1 82.6,436.6 61.6,436.1 46.1,435 34.1,433 30.1,431.6 29.2,430.6 30.1,429.6 32.1,428.8 39.6,427.1 49.6,425.9Z" fill="#ffff00" fill-rule="evenodd"/>
<path d="M65.6,426.1 86.1,425.7 106.1,426.5 121.6,428.4 126.2,429.6 127.3,430.6 126.2,431.6 123.1,432.5 113,434.1 99.1,435.2 82.6,435.6 66.1,435.2 52.2,434.1 42.1,432.5 39,431.6 37.9,430.6 38.6,429.8 40.4,429.1 45.6,428 54.6,426.9Z" fill="#ffff00" fill-rule="evenodd"/>
<path d="M70.1,427.1 86.6,426.8 102.1,427.5 114.6,428.9 117.4,429.6 118.9,430.6 117.6,431.5 115.5,432.1 107.6,433.2 95.6,434.1 82.6,434.4 69.6,434.1 57.6,433.2 49.7,432.1 47.6,431.5 46.3,430.6 47.8,429.6 52.5,428.6Z" fill="#ffff62" fill-rule="evenodd"/>
<path d="M73.1,428.1 85.6,427.9 97.6,428.4 106.6,429.3 109.6,430.1 110.1,430.6 108,431.6 101.1,432.5 82.6,433.3 64.1,432.5 57.3,431.6 55.1,430.6 57.1,429.6 60.1,429.1Z" fill="#ffffe7" fill-rule="evenodd"/>
<path d="M21.6,402.8 70.1,400.2 95.1,399.3 133.6,399.6 153.1,399.2 165.1,400" fill="none" stroke="#5a4a4a" stroke-width="0.6"/>
<path d="M165.1,417.2 149.6,417.3 105.6,416.5 56.6,417.3 21.6,416.3" fill="none" stroke="#5a4a4a" stroke-width="0.6"/>
<path d="M21.6,421.4 55.1,420.9 105.1,422.2 165.1,421.9" fill="none" stroke="#5a4a4a" stroke-width="0.6"/>
<path d="M165.1,439.4 89.6,440.6 21.6,439.9" fill="none" stroke="#5a4a4a" stroke-width="0.6"/>
<path d="M133.6,346.1 138.6,346.1 145.6,347.6 149.1,349.2 151.6,352.1 152.6,355.1 152.5,357.6 148.3,363.6 146.1,369.4 144.6,370.2 142.1,370.5 120.6,370.2 115.1,369.5 112.9,368.6 111.5,367.6 110.2,365.1 110.5,362.1 112.3,358.6 115.3,355.1 119.6,351.7 124,349.1 129,347.1 133.6,346.1" fill="none" stroke="#5a4a4a" stroke-width="0.6"/>
<path d="M21.6,423.2 66.6,422.3 139.6,423.2 165.1,424.1" fill="none" stroke="#5a4a4a" stroke-width="0.6"/>
<path d="M165.1,437.2 130.1,438.7 92.6,439.4 57.1,439.2 21.6,438.2" fill="none" stroke="#5a4a4a" stroke-width="0.6"/>
<path d="M88.6,402.6 110.6,402.1 152.1,403.4 157.7,404.1 161,405.1 163.2,406.6 163.6,408.1 162.2,412.1 160,413.6 154.9,414.6 144.1,415.3 123.1,415.6 74.6,415.2 62.7,414.1 60,413.1 59.3,412.1 59.2,410.1 59.6,408.6 61.1,407.1 63.2,406.1 72.4,404.1 88.6,402.6" fill="none" stroke="#5a4a4a" stroke-width="0.6"/>
<path d="M21.6,424.5 40.1,423.6 62.6,423 115.8,423.6 144.6,424.6 156.4,425.6 165.1,427.1" fill="none" stroke="#5a4a4a" stroke-width="0.6"/>
<path d="M165.1,434.2 157.3,435.6 144.6,436.8 126.1,437.8 103.1,438.4 60.6,438.4 21.6,436.8" fill="none" stroke="#5a4a4a" stroke-width="0.6"/>
<path d="M101.6,405.6 113.1,405.6 122.9,406.6 132.5,409.1 135.3,410.6 135.6,411.6 134.1,412.8 130.1,413.7 123.1,414.2 110.6,414.4 97.1,414.2 90.1,413.7 86.6,412.9 84.9,411.6 85,410.6 86,409.6 89.9,407.6 95.1,406.3 101.6,405.6" fill="none" stroke="#5a4a4a" stroke-width="0.6"/>
<path d="M21.6,428.3 31.6,426.1 48.1,424.7 67.6,424 94.1,424.1 119.6,424.9 132.6,426 143.1,428.1 146.1,429.5 146.8,430.6 146.1,431.6 143.6,432.9 134.1,435.1 122.1,436.3 102.1,437.2 76.6,437.5 53.1,436.9 31.4,435.1 21.6,432.9" fill="none" stroke="#5a4a4a" stroke-width="0.6"/>
<path d="M73.6,425.6 93.1,425.6 110.7,426.6 124.6,428.6 127.9,429.6 129,430.6 127.9,431.6 124.7,432.6 114.1,434.3 99.6,435.4 82.6,435.8 65.6,435.4 51.1,434.3 40.5,432.6 37.3,431.6 36.2,430.6 37.1,429.7 38.6,429.1 47.6,427.4 59.6,426.2 73.6,425.6" fill="none" stroke="#5a4a4a" stroke-width="0.6"/>
<path d="M67.1,428.1 81.6,427.6 96.6,428 108.3,429.1 111.1,429.7 112.7,430.6 110.8,431.6 104.1,432.6 94.1,433.3 82.6,433.6 71.1,433.3 61.1,432.6 54.5,431.6 52.5,430.6 54.1,429.7 57,429.1 67.1,428.1" fill="none" stroke="#5a4a4a" stroke-width="0.6"/>
</g>
<line x1="21.3" y1="333.1" x2="21.3" y2="462.6" stroke="#777" stroke-width="0.6" />
<line x1="19.4" y1="333.1" x2="21.6" y2="333.1" stroke="#555" stroke-width="0.6" />
<text x="18.6" y="335.4" font-size="6.4" fill="#000" text-anchor="end" stroke="#000" stroke-width="0.22">6</text>
<line x1="19.4" y1="377.2" x2="21.6" y2="377.2" stroke="#555" stroke-width="0.6" />
<text x="18.6" y="379.5" font-size="6.4" fill="#000" text-anchor="end" stroke="#000" stroke-width="0.22">4</text>
<line x1="19.4" y1="421.3" x2="21.6" y2="421.3" stroke="#555" stroke-width="0.6" />
<text x="18.6" y="423.6" font-size="6.4" fill="#000" text-anchor="end" stroke="#000" stroke-width="0.22">2</text>
<line x1="21.6" y1="460.4" x2="21.6" y2="462.6" stroke="#555" stroke-width="0.6" />
<text x="21.6" y="469.7" font-size="6.4" fill="#000" text-anchor="middle" stroke="#000" stroke-width="0.22">0</text>
<line x1="69.4" y1="460.4" x2="69.4" y2="462.6" stroke="#555" stroke-width="0.6" />
<text x="69.4" y="469.7" font-size="6.4" fill="#000" text-anchor="middle" stroke="#000" stroke-width="0.22">4</text>
<line x1="117.2" y1="460.4" x2="117.2" y2="462.6" stroke="#555" stroke-width="0.6" />
<text x="117.2" y="469.7" font-size="6.4" fill="#000" text-anchor="middle" stroke="#000" stroke-width="0.22">8</text>
<line x1="165" y1="460.4" x2="165" y2="462.6" stroke="#555" stroke-width="0.6" />
<text x="165" y="469.7" font-size="6.4" fill="#000" text-anchor="middle" stroke="#000" stroke-width="0.22">12</text>
<text x="91.87" y="482" font-size="9.6" fill="#000" text-anchor="middle" font-weight="bold" stroke="#000" stroke-width="0.08">k (&#197;<tspan font-size="6.2" dy="-4.2">-1</tspan><tspan dy="4.2">)</tspan></text>
<text x="10" y="402.5" font-size="9.9" fill="#000" text-anchor="middle" font-weight="bold" textLength="30.3" lengthAdjust="spacingAndGlyphs" transform="rotate(-90 10 402.5)" stroke="#000" stroke-width="0.08">R+&#945; (&#197;)</text>
<clipPath id="hh"><rect x="191.6" y="333.2" width="144.9" height="128.3"/></clipPath>
<g clip-path="url(#hh)">
<rect x="191.6" y="333.2" width="144.9" height="128.3" fill="#2a0000"/>
<path d="M251.1,333.2 336.6,333.2 336.6,437.7 321.1,437.7 271.1,436.8 191.6,436.8 191.6,427.7 212.1,427.5 218.3,427.2 221,426.7 218.6,424.8 216.9,422.7 213,421.2 203.6,420.1 191.6,420 191.6,399.5 198.2,398.7 200.3,397.7 200.2,396.7 198.5,394.2 197.7,392.2 197.5,390.2 198,388.2 200.8,384.2 209.1,377.2 211.7,374.2 213,371.2 214.2,363.7 215.4,359.7 217.5,355.7 220.6,351.7 226,346.7 232.6,342.1 241.1,337.5ZM315.7,335.2 312.6,336.7 311.1,338.7 311.1,340.2 311.6,341.2 314.1,343.1 317.6,344 321.6,343.8 324.8,342.7 326.8,340.7 327.2,339.7 326.9,338.2 324.6,336 320.6,334.8ZM278.6,356.7 278.6,357.2 279.1,357.4 280.4,357.2 280.5,356.7 280.1,356.5Z" fill="#560000" fill-rule="evenodd"/>
<path d="M294.1,336.7 299.6,336.2 303.1,336.7 304.6,337.7 307.4,341.2 309.8,343.2 313.6,344.8 318.1,345.6 322.1,345.4 326.1,344.4 329.7,342.7 334.1,339.7 336.6,339 336.6,426.7 316.1,427.1 241.6,425.3 228.6,424.1 218.5,421.2 212.1,420.1 202.6,419.3 191.6,419.2 191.6,402 214.3,400.7 220.6,399.7 222.3,398.7 221.8,397.7 218.4,395.2 216.5,393.2 215.8,391.2 216.2,388.7 217.4,386.7 219.1,385.1 228.2,378.7 231.4,375.7 233,372.7 234.3,366.2 235.5,362.7 237.8,359.2 241.5,355.7 245.6,352.8 250.6,350 264.1,344.4 279.1,339.7ZM276.4,353.7 273.9,354.7 272.8,356.2 273.1,357.7 275.2,359.2 278.1,359.9 281.6,359.7 284.1,358.7 285.4,357.2 285.1,355.7 283,354.2 279.6,353.5ZM322.6,428.8 336.6,428.9 336.6,434.8 269.6,434.3 191.6,434.3 191.6,430.1 271.6,430Z" fill="#740000" fill-rule="evenodd"/>
<path d="M297.1,343.7 302.6,343.7 312.1,346.4 317.6,347.1 323.1,347 332.6,345.6 336.6,345.9 336.6,425.2 303.1,425.5 246.1,424.4 233.1,423.3 220.1,420.4 212.6,419.3 202.6,418.6 191.6,418.4 191.6,403.5 223.6,401.7 233.2,400.7 238.5,399.7 239.3,399.2 239.1,398.7 231.7,395.7 228.4,393.7 226.9,391.7 226.9,389.2 227.8,387.7 229.9,385.7 240.6,379.2 244.1,376.2 245.9,373.2 248.3,365.7 251.3,361.7 254.1,359.4 257.1,357.6 260.6,356.2 263.1,355.8 265.1,356.1 269.5,359.2 274.1,361 279.6,361.5 284.6,360.5 286.6,359.4 287.9,358.2 288.4,357.2 288.5,355.7 287.1,353.5 281.9,350.2 281,349.2 281.2,348.7 282.4,347.7 286.1,346.2ZM280.8,378.2 278.6,378.7 276.9,379.7 276.4,380.7 276.9,381.7 279.9,383.2 284.6,383.7 288.6,382.9 289.9,382.2 290.6,381.2 289.8,379.7 287.8,378.7 284.6,378.1Z" fill="#920000" fill-rule="evenodd"/>
<path d="M302.6,348.7 307.1,348.5 328.6,349.5 332.6,350.1 336.6,351.6 336.6,361.5 334.1,362.4 333.1,363.5 332.8,364.7 333.6,366.7 335.1,367.5 336.6,367.8 336.6,424.3 299.1,424.7 249.6,423.7 236.1,422.6 221.2,419.7 213.1,418.6 191.6,417.5 191.6,405 252.1,401.1 290.6,400.3 297.4,399.7 301.1,398.7 301.4,398.2 301.1,397.7 297.8,396.2 293.1,395 288.1,394.4 281.1,394.5 260.6,396.3 248.6,395.9 243.6,394.9 240,393.7 237.7,392.2 236.7,390.2 237.5,388.2 239.9,386.2 251.6,380.2 255.2,377.7 257.2,375.2 260.6,368.2 262.2,366.2 264.1,364.7 267.6,363.5 279.6,363.2 283.6,362.6 286.6,361.6 289.1,360.2 291.1,358.2 292.1,356.2 292.7,352.7 293.9,351.2 297.4,349.7ZM277.6,376.7 274.1,377.6 272,378.7 271.1,380.2 271.7,381.7 273.6,383.2 276.6,384.5 280.6,385.4 284.1,385.6 287.6,385.4 290.6,384.6 293.1,383.2 294.1,381.7 293.9,380.2 293.1,379.2 289.6,377.4 284.1,376.4Z" fill="#af0000" fill-rule="evenodd"/>
<path d="M310.6,352.7 318.6,352.5 325.6,353.3 330.6,354.9 332.5,356.2 333.1,357.2 332.8,358.7 330.7,362.2 330.2,364.7 330.9,366.7 332.1,368.2 334.1,369.3 336.6,369.9 336.6,395.7 332,398.2 332.1,398.7 333.1,399.2 336.6,400.1 336.6,423.5 298.6,424 252.1,423 238.6,421.9 215.1,418 191.6,416.1 191.6,407.1 209.9,405.2 245.6,402.6 299.1,401 309,400.2 316.6,398.7 316.8,398.2 315.1,397.2 297.1,390.2 294.3,388.7 294,388.2 294.3,387.2 297.1,383.9 297.8,381.7 297.2,379.7 295.1,377.7 292.1,376.2 288.1,375.1 276.2,373.2 275.1,372.7 274.3,371.7 274.7,370.2 276.6,368.2 279.5,366.7 287.1,364 290.6,362.3 299.6,355.4 304.3,353.7ZM262.1,384.2 265.1,384.4 268.1,385.2 272.8,387.2 274.5,388.7 273.5,389.7 270.4,390.7 260.6,392.1 253.6,391.6 251.2,390.7 250.4,389.7 251,388.2 253.3,386.7 258.1,384.9Z" fill="#cd0000" fill-rule="evenodd"/>
<path d="M312.6,357.6 320.1,357.4 323.1,357.9 325.2,358.7 326.7,360.2 328,365.7 329.4,368.2 332.1,370.5 336.6,372.2 336.6,388.4 335.1,389.6 330.1,392 324.6,392.9 318.6,392.4 311.6,390.2 307.4,388.2 304.6,386.3 303.5,384.7 301.9,380.2 300.6,378.4 291.6,371.7 291.3,370.2 292.3,368.2 294.9,365.7 299,362.7 305.1,359.5ZM325.6,401 336.6,401.7 336.6,422.8 317.1,423.4 293.1,423.4 266.1,422.9 248.1,422 239.1,420.9 204.5,415.2 200.7,413.7 199.7,411.7 199.9,410.7 200.7,409.7 204.1,408.2 212,406.7 225.6,405.2 252.1,403.3 292.6,402.2Z" fill="#ea0000" fill-rule="evenodd"/>
<path d="M315.1,363.6 319.6,363.5 322.6,364.6 327.6,370.2 333.5,375.2 334.4,377.2 334.3,379.2 333,381.7 331.1,383.8 328.6,385.3 325.6,386.2 322.6,386.4 319.1,386 315.6,384.9 312.5,383.2 310.1,381.2 307.6,378.3 305.3,375.2 304.4,373.2 304.2,371.7 304.9,369.7 306.4,367.7 309.1,365.7 312.1,364.4ZM324.6,402 336.6,402.7 336.6,422 317.6,422.8 294.6,422.9 269.1,422.3 251.1,421.4 238.6,419.7 222,416.2 218.7,415.2 216.8,414.2 216,413.2 215.5,411.7 215.5,410.7 216,409.7 218.9,408.2 225.7,406.7 237.9,405.2 259.1,403.8Z" fill="#ff1000" fill-rule="evenodd"/>
<path d="M322.1,402.9 336.6,403.6 336.6,421.2 318.1,422.1 296.1,422.3 271.1,421.8 253.9,420.7 243.2,419.2 233.5,416.7 229.8,414.7 228.3,411.2 228.6,409.7 231,408.2 237.4,406.7 244.9,405.7 263.6,404.4Z" fill="#ff4500" fill-rule="evenodd"/>
<path d="M308.1,403.7 323.6,403.7 336.6,404.5 336.6,420.3 321.1,421.3 300.1,421.7 276.6,421.3 259.2,420.2 249.6,418.8 243.7,417.2 240.6,415.2 239.1,411.2 239.4,409.7 241.7,408.2 245.4,407.2 252,406.2 269.6,404.9Z" fill="#ff7a00" fill-rule="evenodd"/>
<path d="M296.1,404.7 320.1,404.3 336.6,405.5 336.6,418.9 326.2,420.2 309.6,421 289.6,421 271.2,420.2 261.1,419.2 253.9,417.7 250.1,415.7 249,414.2 248.6,412.7 248.5,410.7 249.6,409.2 251.7,408.2 255.9,407.2 271.2,405.7Z" fill="#ffaf00" fill-rule="evenodd"/>
<path d="M303.1,405.2 323.1,405.3 330.6,405.9 336.6,406.9 336.6,416.1 334.4,417.2 331,418.2 319.6,419.7 304.1,420.3 286.1,420.1 272.3,419.2 263.6,417.8 260.1,416.7 258.2,415.7 257,414.7 256.2,413.2 256.6,411.2 257.9,409.7 259.9,408.7 263.9,407.7 278.5,406.2Z" fill="#ffe400" fill-rule="evenodd"/>
<path d="M297.6,406.2 313.6,405.9 325.1,406.5 329.5,407.2 332.6,408.2 334,409.2 334.3,410.2 333.6,412.2 331.9,414.2 329.7,415.7 327.4,416.7 320.6,418.2 308.6,419.2 290.6,419.3 275.9,418.2 266.7,416.2 263.8,414.7 262.7,413.2 263.3,411.7 265.1,410.3 271.1,408.4 280.1,407.2Z" fill="#ffff00" fill-rule="evenodd"/>
<path d="M300.1,407.2 312.6,407.1 321.1,407.8 325.8,409.2 326.7,410.2 326.9,411.7 326.2,413.2 325.1,414.2 320.3,416.2 312.6,417.5 302.6,418.2 290.1,418 279.1,417.1 271.1,415.2 269.2,414.2 268.5,413.2 269,412.2 270.6,411.2 277.4,409.2 287.1,407.9Z" fill="#ffff00" fill-rule="evenodd"/>
<path d="M299.6,408.7 308.1,408.7 314.6,409.4 318.4,410.7 319.5,411.7 319.7,412.7 318.2,414.2 313.2,415.7 306.6,416.6 298.6,416.9 289.6,416.7 281.6,416 276.1,414.7 275,414.2 274.1,413.2 274.6,412.4 275.8,411.7 281.1,410.3 289.1,409.3Z" fill="#ffff62" fill-rule="evenodd"/>
<path d="M290.1,410.7 298.1,410.3 305.1,410.6 310.1,411.3 312.6,412.7 311.9,413.7 308.9,414.7 304.1,415.4 297.6,415.7 285.6,415.1 281.3,414.2 280,413.2 281.1,412.2 282.8,411.7Z" fill="#ffffe7" fill-rule="evenodd"/>
<path d="M336.6,393.8 330.6,396.3 324.1,397.1 317.1,396 308.1,393 300.5,389.7 297.7,387.7 297.6,386.2 298.8,383.2 299,381.7 298.3,379.7 296.6,377.9 291.6,375.4 281.1,372.4 279.9,371.7 279.5,370.7 280.3,369.2 282.2,367.7 291.6,362.9 301.1,356.5 308.1,354.4 316.1,353.7 324.6,354.4 328.1,355.5 330.1,356.6 330.9,358.2 329.6,363.2 330,366.2 330.9,367.7 332.6,369.2 336.6,370.5" fill="none" stroke="#5a4a4a" stroke-width="0.6"/>
<path d="M191.6,408.1 199.9,406.7 209.1,405.7 246.6,402.9 293.6,401.6 323.6,399.4 327.6,399.5 336.6,400.7" fill="none" stroke="#5a4a4a" stroke-width="0.6"/>
<path d="M336.6,423.3 298.1,423.9 251.6,422.8 239.1,421.7 217.1,418 191.6,415.3" fill="none" stroke="#5a4a4a" stroke-width="0.6"/>
<path d="M262.1,387.7 263.4,387.7 264.3,388.2 262.6,388.9 260.5,388.7 260.5,388.2 262.1,387.7" fill="none" stroke="#5a4a4a" stroke-width="0.6"/>
<path d="M336.6,421.5 317.6,422.3 294.6,422.5 269.1,421.9 251.6,420.8 240.7,419.2 229,416.2 226.8,415.2 225.6,414.2 224.8,412.7 224.4,410.7 224.8,409.7 226.2,408.7 231.1,407.2 241.2,405.7 253,404.7 315.6,402.6 326.1,402.7 336.6,403.3" fill="none" stroke="#5a4a4a" stroke-width="0.6"/>
<path d="M319.1,370.2 322.1,371 325.2,373.7 326.3,376.2 326,377.2 325.1,378.4 323.1,379.3 320.1,379.2 317.6,378.1 315.5,376.2 314.7,374.2 315.1,372.2 316.9,370.7 319.1,370.2" fill="none" stroke="#5a4a4a" stroke-width="0.6"/>
<path d="M336.6,420.1 317.6,421.4 296.1,421.6 273.1,421 257.6,419.9 250,418.7 243.6,416.6 241.4,414.7 240.3,410.7 241.1,409.2 245.6,407.4 252.1,406.4 263.6,405.4 312.6,403.7 327.6,403.9 336.6,404.6" fill="none" stroke="#5a4a4a" stroke-width="0.6"/>
<path d="M336.6,416.6 330.6,418.5 318.1,419.9 301.6,420.4 283.1,420.1 269.1,419 262.1,417.8 257.2,415.7 256.2,414.7 255.3,412.7 255.5,411.7 256.6,410 259.6,408.4 264.1,407.4 273.6,406.4 293.6,405.4 316.1,405 328.1,405.5 336.6,406.7" fill="none" stroke="#5a4a4a" stroke-width="0.6"/>
<path d="M294.1,407.2 309.1,406.8 320.1,407.2 323.6,407.7 326.8,408.7 328.1,409.7 328.4,411.2 327.9,412.7 326.4,414.2 322,416.2 314.6,417.6 304.6,418.4 290.6,418.3 278.6,417.3 270.6,415.5 268,414.2 267.4,413.2 267.8,412.2 269.2,411.2 275.1,409.3 282.6,408.1 294.1,407.2" fill="none" stroke="#5a4a4a" stroke-width="0.6"/>
<path d="M291.1,410.2 300.1,409.9 307.6,410.2 312.5,411.2 314.1,412 314.6,412.7 313.9,413.7 312.9,414.2 309.6,415.1 297.6,416.1 290.6,415.9 284.1,415.3 279.4,414.2 278.2,413.2 279.3,412.2 281.6,411.5 291.1,410.2" fill="none" stroke="#5a4a4a" stroke-width="0.6"/>
</g>
<line x1="191.3" y1="333.2" x2="191.3" y2="463.7" stroke="#777" stroke-width="0.6" />
<line x1="189.4" y1="333.2" x2="191.6" y2="333.2" stroke="#555" stroke-width="0.6" />
<text x="188.6" y="335.5" font-size="6.4" fill="#000" text-anchor="end" stroke="#000" stroke-width="0.22">6</text>
<line x1="189.4" y1="377.3" x2="191.6" y2="377.3" stroke="#555" stroke-width="0.6" />
<text x="188.6" y="379.6" font-size="6.4" fill="#000" text-anchor="end" stroke="#000" stroke-width="0.22">4</text>
<line x1="189.4" y1="421.4" x2="191.6" y2="421.4" stroke="#555" stroke-width="0.6" />
<text x="188.6" y="423.7" font-size="6.4" fill="#000" text-anchor="end" stroke="#000" stroke-width="0.22">2</text>
<line x1="191.6" y1="461.5" x2="191.6" y2="463.7" stroke="#555" stroke-width="0.6" />
<text x="191.6" y="470.8" font-size="6.4" fill="#000" text-anchor="middle" stroke="#000" stroke-width="0.22">0</text>
<line x1="239.9" y1="461.5" x2="239.9" y2="463.7" stroke="#555" stroke-width="0.6" />
<text x="239.9" y="470.8" font-size="6.4" fill="#000" text-anchor="middle" stroke="#000" stroke-width="0.22">4</text>
<line x1="288.2" y1="461.5" x2="288.2" y2="463.7" stroke="#555" stroke-width="0.6" />
<text x="288.2" y="470.8" font-size="6.4" fill="#000" text-anchor="middle" stroke="#000" stroke-width="0.22">8</text>
<line x1="336.5" y1="461.5" x2="336.5" y2="463.7" stroke="#555" stroke-width="0.6" />
<text x="336.5" y="470.8" font-size="6.4" fill="#000" text-anchor="middle" stroke="#000" stroke-width="0.22">12</text>
<text x="262.6" y="482" font-size="9.6" fill="#000" text-anchor="middle" font-weight="bold" stroke="#000" stroke-width="0.08">k (&#197;<tspan font-size="6.2" dy="-4.2">-1</tspan><tspan dy="4.2">)</tspan></text>
<text x="180" y="402.6" font-size="9.9" fill="#000" text-anchor="middle" font-weight="bold" textLength="30.3" lengthAdjust="spacingAndGlyphs" transform="rotate(-90 180 402.6)" stroke="#000" stroke-width="0.08">R+&#945; (&#197;)</text>
<clipPath id="hi"><rect x="361" y="333" width="144.8" height="129"/></clipPath>
<g clip-path="url(#hi)">
<rect x="361" y="333" width="144.8" height="129" fill="#2a0000"/>
<path d="M489,350.5 496.5,350.4 506,352 506,448.8 421,449.2 361,449 361,380.1 382.5,380.7 427,382.9 453,383 465,382.1 474,380.6 479.6,378.5 480.9,377.5 481.5,376 480.6,374.5 478.6,373 472.4,370.5 463.5,368.6 453,367.6 428.5,367.5 383.5,369.4 361,369.9 361,356 454,355.7 467.5,354.5ZM432.3,419 421.5,420 421.7,420.5 425,421 441,421.5 459,421.1 469.9,420 467.8,419.5 453.5,419Z" fill="#560000" fill-rule="evenodd"/>
<path d="M486,359.4 496,359.1 506,360.5 506,366.7 498,368.4 491,368.4 481.9,366.5 477.7,365 475.5,363.5 475.6,362.5 477.1,361.5 480.5,360.4ZM492,383 498.5,382.9 506,383.5 506,447 422,447.7 361,447.4 361,385.6 456.5,386.1 471.5,385.5ZM435.1,418.5 420,419.2 415.1,420 414.7,420.5 417.5,421.2 424.5,421.7 445.5,422.1 473,421.3 481.5,420.6 485.1,420 484.9,419.5 483,419.2 476.5,418.8Z" fill="#740000" fill-rule="evenodd"/>
<path d="M495,388 506,388.1 506,446 423.5,446.8 361,446.5 361,390.2 391,389.5 455,389.1 461.5,389.6 471,392.1 478.5,392.8 485,392 487.8,391 491.5,388.7ZM411.6,394 410.8,394.5 412.5,395 414,394.5 413.2,394ZM434.8,413.5 435,414 443.7,414 443.6,413.5ZM422.2,418.5 410.9,419.5 407.5,420.5 408,421 409.5,421.4 415,422 437,422.8 483.5,422.3 495.6,422 500,421.5 499.3,420.5 496.5,419.5 490.5,418.7 483.5,418.2 440.5,418Z" fill="#920000" fill-rule="evenodd"/>
<path d="M499,391.5 506,391.5 506,418.6 480.5,417.5 429.5,417.7 407.5,419 400.2,420 396.2,421 395.5,421.5 396.8,422 401.8,422.5 419,423.2 506,424.5 506,445.2 423.5,446.1 361,445.8 361,423.6 370.3,423 374.6,422.5 375.4,422 361,420.1 361,394 384,392.9 394,392.9 399,393.6 403.2,395.5 406.6,396.5 413,397 419,396.2 420.8,395.5 425.5,392.8 431.5,391.9 455.5,391.7 471.5,393.6 478,394 485,393.5ZM428.2,413 424.5,413.5 424.5,414 430,414.7 440,414.9 449.5,414.7 454.7,414 454.3,413.5 446.5,412.8Z" fill="#af0000" fill-rule="evenodd"/>
<path d="M435.5,394 455.5,393.7 478,395.1 497,394 506,394.2 506,417 479.5,416.7 437.5,416.9 416,417.7 384.5,419.7 373,419.2 361,417.9 361,397.4 379.3,396 390,395.6 395,395.9 406.5,397.9 414,398.1 420,397.4 429.5,394.8ZM419.9,413 417.5,413.5 417.4,414 425.5,415.2 441,415.8 456,415.2 461,414.6 462.8,414 462.1,413.5 459.1,413 450.5,412.4 437.5,412.2ZM385,424 415,424.1 506,425.7 506,444.3 424,445.6 361,445.1 361,424.7Z" fill="#cd0000" fill-rule="evenodd"/>
<path d="M437.5,396 456.5,395.7 476.5,396.3 496,396.2 506,396.7 506,415.1 492.5,415.5 478,415.4 474.2,415 472.8,414 471.2,413.5 465,412.7 453,411.9 439.5,411.7 424.5,412 413.5,412.8 410.3,413.5 410.1,414 412,414.7 418.3,416 417.2,416.5 411.5,417 394,418 384,418.1 375,417.5 367.7,416.5 361,414.8 361,406.1 365,403 371,401 379.5,399.5 390,398.5 408.5,399.3 416,399.2 422,398.5 432,396.5ZM380.5,425 432.5,425.1 506,426.6 506,443.5 425.5,445 361,444.5 361,425.5Z" fill="#ea0000" fill-rule="evenodd"/>
<path d="M448.5,398 487.3,398.5 496.5,399.1 506,400.3 506,411.6 497.2,412.5 488.5,412.8 451,411.2 420,411.3 403.5,412.7 400.1,413.5 399.6,414 400.1,415 400,415.5 397.2,416 392,416.2 385.4,416 378.5,415 375.4,414 374.7,413.5 374.2,412.5 374.8,411.5 377,410.3 389,406.5 395,403.5 399.5,402.2 418,400.7 435.3,398.5ZM397,425.5 446,425.9 506,427.7 506,442.6 427,444.5 395,444.5 361,443.9 361,426.3Z" fill="#ff1000" fill-rule="evenodd"/>
<path d="M451,402 462.5,402 471.6,402.5 477.1,403.5 478.3,404 478.9,405 478.1,407 476.7,408 473.1,409 468.2,409.5 444.5,409.5 435.4,409 432.8,408.5 432.2,408 434.2,405 437.2,403.5 443.2,402.5ZM405.5,426.1 439,426.5 473.7,427.5 506,429.1 506,441.2 467.1,443 431,443.9 396.5,443.9 361,443.2 361,427Z" fill="#ff4500" fill-rule="evenodd"/>
<path d="M385,427 410,426.7 438.5,427.1 463.8,428 487.7,429.5 497,430.5 504.1,432 506,433.1 506,437.1 504.7,438 501.6,439 491.2,440.5 455.5,442.6 408.5,443.5 361,442.4 361,427.9Z" fill="#ff7a00" fill-rule="evenodd"/>
<path d="M395.5,427.5 435.5,427.8 468.9,429.5 477.6,430.5 484.6,432 487.7,433.5 488.6,434.5 488.8,435.5 488,436.7 486,437.9 479.8,439.5 467.1,441 451.1,442 429,442.7 405.5,442.9 383.5,442.5 361,441.5 361,428.9Z" fill="#ffaf00" fill-rule="evenodd"/>
<path d="M387.5,428.5 421,428.2 452.1,429.5 461.8,430.5 469.9,432 474.5,433.7 475.5,434.5 475.8,435.5 475,436.5 473,437.5 464.6,439.5 453.5,440.8 438.5,441.6 417.5,442.2 395.5,442 377,441.4 361,440.1 361,430.3 373.5,429.2Z" fill="#ffe400" fill-rule="evenodd"/>
<path d="M406,429 429,429.3 447,430.5 454.5,431.5 461,432.9 464.1,434 465.3,435 465.3,435.5 464.2,436.5 461.5,437.5 452.5,439.2 439.9,440.5 424.5,441.2 406.5,441.4 388.5,440.9 373.5,439.9 361,438.2 361,432.3 379.7,430Z" fill="#ffff00" fill-rule="evenodd"/>
<path d="M392.5,430.5 414,430.1 435,431 450.6,433 455,434.3 455.9,435 455.9,435.5 454.4,436.5 451,437.4 440.6,439 427,440 410.5,440.4 393.7,440 378.5,438.9 366.5,437.3 363.5,436.5 361.8,435.5 362,434.9 363.7,434 369.5,432.8 380,431.4Z" fill="#ffff00" fill-rule="evenodd"/>
<path d="M399,431.5 415.5,431.3 431.5,432.1 443,433.6 446.1,434.5 446.9,435 446.9,435.5 445.5,436.3 442.8,437 435,438.1 423.5,438.9 410,439.2 396,438.9 383.5,438.1 375,437 372,436.2 370.5,435.5 370.6,435 371.4,434.5 378,433.1 387.5,432.1Z" fill="#ffff62" fill-rule="evenodd"/>
<path d="M406.5,432.5 418.5,432.6 429,433.3 436.3,434.5 437.3,435 437.4,435.5 434.5,436.5 428,437.3 409.5,438.1 390,437.3 383,436.5 379.8,435.5 379.9,435 381.1,434.5 387.1,433.5Z" fill="#ffffe7" fill-rule="evenodd"/>
<path d="M361,398.6 378.5,396.9 390.5,396.4 408.5,398.4 415.5,398.3 422,397.4 432,395 439,394.4 455.5,394.3 478,395.4 496,394.6 506,394.9" fill="none" stroke="#5a4a4a" stroke-width="0.6"/>
<path d="M506,416.6 455,416.4 451,416 462,415 465.2,414 464,413.4 460.5,412.9 455,412.5 439,412.1 423.5,412.5 417,413.2 415.6,413.5 415.5,414 420.5,415 436,416.5 386.5,419.2 375.5,418.9 361,417.2" fill="none" stroke="#5a4a4a" stroke-width="0.6"/>
<path d="M361,425 383,424.3 409.5,424.2 506,425.9" fill="none" stroke="#5a4a4a" stroke-width="0.6"/>
<path d="M506,444.1 429,445.4 361,445" fill="none" stroke="#5a4a4a" stroke-width="0.6"/>
<path d="M361,426.8 392.5,426 425,426 464,426.9 506,428.6" fill="none" stroke="#5a4a4a" stroke-width="0.6"/>
<path d="M506,441.7 464,443.3 430,444.1 396,444.1 361,443.4" fill="none" stroke="#5a4a4a" stroke-width="0.6"/>
<path d="M441.5,400.5 462.5,400.1 483,401 492,402.5 494.1,403.5 494.8,405 493.7,407.5 491.4,409 487.4,410 482,410.6 471,410.8 406.2,410 406.4,409.5 413.9,407 419.1,404 422.1,403 430.3,401.5 441.5,400.5" fill="none" stroke="#5a4a4a" stroke-width="0.6"/>
<path d="M361,428 378,427.3 406.5,426.8 439,427.2 469.5,428.4 490.3,430 497,430.9 502,432.3 503.7,433.5 504.2,435 503.8,436.5 502.5,437.7 497.5,439.3 484,440.9 468,442 445,442.9 414,443.4 381.5,443 361,442.3" fill="none" stroke="#5a4a4a" stroke-width="0.6"/>
<path d="M361,430.1 377.5,428.8 400,428.1 438,428.6 457.5,429.8 467,431 475,433.2 477,434.6 477.2,435.5 475,437.3 467.5,439.3 453.5,440.9 437.5,441.8 400,442.2 375.5,441.4 361,440.3" fill="none" stroke="#5a4a4a" stroke-width="0.6"/>
<path d="M361,434.4 368.8,432.5 381.5,431 397.5,430 415.5,429.9 433,430.5 446.5,431.9 454.5,433.5 457.2,434.5 457.8,435.5 456,436.6 454,437.2 441.5,439.2 427.5,440.2 409,440.6 382,439.5 369,438.1 361,436.2" fill="none" stroke="#5a4a4a" stroke-width="0.6"/>
<path d="M396,432.5 411.5,432.2 426,432.7 437.2,434 439.5,434.7 440.1,435 440.2,435.5 437.6,436.5 430.5,437.5 409.5,438.4 387.6,437.5 379.9,436.5 377.1,435.5 377.2,435 378.2,434.5 381.5,433.8 396,432.5" fill="none" stroke="#5a4a4a" stroke-width="0.6"/>
</g>
<line x1="360.7" y1="333" x2="360.7" y2="464.2" stroke="#777" stroke-width="0.6" />
<line x1="358.8" y1="333" x2="361" y2="333" stroke="#555" stroke-width="0.6" />
<text x="358" y="335.3" font-size="6.4" fill="#000" text-anchor="end" stroke="#000" stroke-width="0.22">6</text>
<line x1="358.8" y1="377.1" x2="361" y2="377.1" stroke="#555" stroke-width="0.6" />
<text x="358" y="379.4" font-size="6.4" fill="#000" text-anchor="end" stroke="#000" stroke-width="0.22">4</text>
<line x1="358.8" y1="421.2" x2="361" y2="421.2" stroke="#555" stroke-width="0.6" />
<text x="358" y="423.5" font-size="6.4" fill="#000" text-anchor="end" stroke="#000" stroke-width="0.22">2</text>
<line x1="361" y1="462" x2="361" y2="464.2" stroke="#555" stroke-width="0.6" />
<text x="361" y="471.3" font-size="6.4" fill="#000" text-anchor="middle" stroke="#000" stroke-width="0.22">0</text>
<line x1="409.27" y1="462" x2="409.27" y2="464.2" stroke="#555" stroke-width="0.6" />
<text x="409.27" y="471.3" font-size="6.4" fill="#000" text-anchor="middle" stroke="#000" stroke-width="0.22">4</text>
<line x1="457.53" y1="462" x2="457.53" y2="464.2" stroke="#555" stroke-width="0.6" />
<text x="457.53" y="471.3" font-size="6.4" fill="#000" text-anchor="middle" stroke="#000" stroke-width="0.22">8</text>
<line x1="505.8" y1="462" x2="505.8" y2="464.2" stroke="#555" stroke-width="0.6" />
<text x="505.8" y="471.3" font-size="6.4" fill="#000" text-anchor="middle" stroke="#000" stroke-width="0.22">12</text>
<text x="431.95" y="482" font-size="9.6" fill="#000" text-anchor="middle" font-weight="bold" stroke="#000" stroke-width="0.08">k (&#197;<tspan font-size="6.2" dy="-4.2">-1</tspan><tspan dy="4.2">)</tspan></text>
<text x="349.4" y="402.4" font-size="9.9" fill="#000" text-anchor="middle" font-weight="bold" textLength="30.3" lengthAdjust="spacingAndGlyphs" transform="rotate(-90 349.4 402.4)" stroke="#000" stroke-width="0.08">R+&#945; (&#197;)</text>
<clipPath id="hj"><rect x="531.4" y="333" width="147.8" height="129.3"/></clipPath>
<g clip-path="url(#hj)">
<rect x="531.4" y="333" width="147.8" height="129.3" fill="#2a0000"/>
<path d="M580.8,333 583.8,341.5 584.4,345 584.3,348 582.6,353.5 576.9,363.3 574.8,368 574.1,372.5 575.2,375.5 576.7,377 579.4,378.5 588.2,381 599.9,382.6 614.4,383.1 627.9,382.7 638.3,381.5 643.4,380 645,379 646.2,377.5 646.6,375.5 646.4,373 644,361 641.9,354.3 636.3,341.5 635.2,337 635,333 679.4,333 679.4,421.6 615.8,422.5 679.4,423.9 679.4,448.5 531.4,448.8 531.4,423.2 543.8,422.5 531.4,422 531.4,333Z" fill="#560000" fill-rule="evenodd"/>
<path d="M649.9,333 679.4,333 679.4,372.1 675.4,378 674.8,379.5 676,381 679.4,382.5 679.4,419.7 557.9,420.1 531.4,419.9 531.4,381 541.9,378.7 548.4,378.3 573.6,382.5 588.4,384.4 603.4,385.6 619.4,386 636.4,385.7 647.4,384.9 656.4,383.4 659.8,382.5 663.3,381 664.3,380 664.5,379 660.7,373 659.2,368.5 658.9,365 659.1,357.5 658.7,354.5 657.2,351 651.2,340.5 649.9,336ZM600.6,412 600.7,412.5 605.4,412.9 609.9,412.5 610,412 605.4,411.6ZM602.9,423.9 679.4,424.7 679.4,446.5 596.9,447 531.4,446.8 531.4,424.3Z" fill="#740000" fill-rule="evenodd"/>
<path d="M679.4,333 679.4,345.9 675.4,347.4 671.9,347.7 668.4,347.1 665.4,345.8 661.9,343 659.2,339.5 657.7,335.5 657.5,333ZM544.9,384 560.4,384.2 603.4,387.7 637.4,388.6 641.9,389.4 643.4,391 645.8,392 651.9,392.7 657,392.5 660.9,391.5 661.3,391 661.1,390.5 657.6,388.5 658.1,388 659.9,387.5 668.9,386.7 679.4,387.2 679.4,417.8 559.9,418.2 531.4,417.8 531.4,385.3ZM602.6,410.5 594.9,411.1 591.9,411.9 591.5,412.5 592.9,413.3 595.9,413.9 605.4,414.5 614.9,413.9 617.9,413.2 619.1,412.5 618.8,412 617.6,411.5 614.9,411ZM572.9,424.5 679.4,425.3 679.4,445.4 597.9,446.2 531.4,445.8 531.4,424.9Z" fill="#920000" fill-rule="evenodd"/>
<path d="M665.9,333 679.4,333 679.4,337.1 677.7,338.5 675.4,339.5 672.9,339.8 670.4,339.4 668.4,338.4 666.5,336.5 665.7,334.5ZM547.9,386.5 563.9,386.7 605.4,389.9 627.9,390.6 632.9,391.2 642.4,393.1 650.9,393.8 661.9,393.3 666.6,392.5 673.4,390.6 679.4,390.2 679.4,416.1 645.9,416.3 628.9,415.9 625.7,415.5 624.7,415 625.9,413.5 625.9,412.5 623.4,411.3 615.9,410.2 605.4,409.7 595.4,410.1 587.9,411.2 584.7,412.5 584.7,413.5 585.7,415 584.6,415.5 580.9,415.9 559.9,416.4 531.4,416 531.4,387.9ZM603.7,393.5 601.4,394.1 600.6,395 603.5,396 608.9,396.2 613.8,395.5 614.7,395 614.9,394.5 613.4,393.7 610.9,393.3ZM612.9,425 679.4,425.8 679.4,444.6 598.9,445.5 531.4,445 531.4,425.4Z" fill="#af0000" fill-rule="evenodd"/>
<path d="M550.4,388.5 568.9,388.8 592.4,391 595.6,392 595.7,392.5 594.6,394.5 595.4,395.5 598.9,396.6 605.4,397.2 611.9,397.1 617.2,396.5 621,395.5 624.9,393.8 627.4,393.4 654.4,394.8 662.9,394.4 679.4,392.8 679.4,414.3 654.9,414.6 641.9,414.3 636.9,413.7 630.8,411.5 624.4,410.2 615.4,409.3 605.4,409.1 595.4,409.3 586.4,410.2 579.9,411.5 573.9,413.6 567.9,414.4 552.4,414.7 531.4,414.2 531.4,390.1ZM608.4,425.4 679.4,426.4 679.4,443.8 599.4,444.9 531.4,444.4 531.4,425.9Z" fill="#cd0000" fill-rule="evenodd"/>
<path d="M549.4,390.5 564.9,390.5 581.9,391.8 586.9,393 590.2,395.5 593.4,396.7 598.4,397.7 604.9,398.2 616.9,397.8 632.9,395.5 654.4,396 679.4,395.3 679.4,412.3 661.4,412.7 649.4,412.5 643.4,412 625.4,409.2 605.9,408.3 585.9,409.1 567.4,412 560.9,412.6 547.9,412.7 531.4,412 531.4,392.5 540.9,391.2ZM607.4,425.8 679.4,427 679.4,443 599.9,444.4 531.4,443.7 531.4,426.3Z" fill="#ea0000" fill-rule="evenodd"/>
<path d="M552.9,392.5 564.8,392.5 575.9,393.4 580.4,394.3 590.9,397.8 602.9,399.3 615.4,399.3 638.4,397.9 664.4,398.3 674.3,399 679.4,399.9 679.4,408.3 668.2,409.5 654.4,409.9 622.9,407.6 601.4,407.2 586.9,407.7 563.9,409.8 554.4,410.2 541.3,409.5 531.4,407.7 531.4,395.6 541.7,393.5ZM608.4,426.2 679.4,427.7 679.4,442.1 633.9,443.4 600.9,443.9 567.4,443.8 531.4,443.1 531.4,426.8Z" fill="#ff1000" fill-rule="evenodd"/>
<path d="M553.4,395.5 562.4,395.2 571.4,396 576.1,397 584.5,399.5 589.3,401.5 589.1,402 587.9,402.5 580.9,403.6 570.9,404.3 561.4,404.3 553.9,403.7 547.9,402.6 543.4,401 542,399.5 542.9,398 545,397ZM579.9,426.6 611.9,426.7 648.7,427.5 679.4,428.7 679.4,441 642.4,442.5 603.4,443.3 567.9,443.3 531.4,442.4 531.4,427.4Z" fill="#ff4500" fill-rule="evenodd"/>
<path d="M580.4,427 632.4,427.6 653.8,428.5 674.3,430 679.4,430.7 679.4,438.9 670.5,440 654.9,441.1 611.9,442.7 570.9,442.7 531.4,441.5 531.4,428.1Z" fill="#ff7a00" fill-rule="evenodd"/>
<path d="M579.9,427.5 621.4,427.9 650.7,429.5 659.4,430.5 665.9,431.8 670,433.5 670.9,435 670.2,436 668.3,437 660.1,439 646.2,440.5 627.4,441.6 602.9,442.2 576.9,442.2 550.4,441.5 531.4,440.4 531.4,429.1 553.4,428Z" fill="#ffaf00" fill-rule="evenodd"/>
<path d="M560.9,428.5 596.9,428.1 629.9,429.2 640.4,430 650.2,431.5 656.4,433.2 657.9,434 658.3,435 657.3,436 654.7,437 644.9,439 629.4,440.5 610.4,441.3 586.9,441.6 563.9,441.2 544.9,440.2 531.4,438.7 531.4,430.8 542.7,429.5Z" fill="#ffe400" fill-rule="evenodd"/>
<path d="M571.9,429 600.9,428.9 624.7,430 634.1,431 642.4,432.4 646.3,433.5 647.9,434.5 647.9,435 646.6,436 643.3,437 629.9,439.1 612.9,440.4 592.9,440.8 570.9,440.6 553.4,439.6 539.9,438 535,437 531.4,435.8 531.4,433.8 531.9,433.5 540.3,431.5 552.9,430Z" fill="#ffff00" fill-rule="evenodd"/>
<path d="M573.4,430 595.4,429.8 615.9,430.6 632.9,432.7 637.9,434 638.6,434.5 638.7,435 636.9,436 633.4,436.8 621.4,438.5 606.4,439.5 588.9,439.9 571.4,439.5 556.9,438.5 544.9,436.9 541.4,436 539.6,435 539.9,434.3 541.6,433.5 549,432 560.4,430.7Z" fill="#ffff00" fill-rule="evenodd"/>
<path d="M578.4,431 595.9,430.9 612.9,431.7 625.9,433.3 628.7,434 629.6,434.5 629.7,435 627.9,435.9 625,436.5 615.9,437.6 603.4,438.5 589.4,438.8 575.4,438.5 562.4,437.6 553.2,436.5 550.4,435.9 548.5,435 548.6,434.5 550.4,433.7 556.9,432.5Z" fill="#ffff62" fill-rule="evenodd"/>
<path d="M583.4,432 596.9,432 609.4,432.7 618.4,433.9 620.3,434.5 620.4,435 617.2,436 609.9,436.9 589.4,437.7 568.9,436.9 561.1,436 557.9,435 558,434.5 559.1,434 565.3,433Z" fill="#ffffe7" fill-rule="evenodd"/>
<path d="M531.4,390.8 544.9,389.3 556.9,388.9 580.4,390.2 587.4,391 592.4,392.1 593,392.5 593.4,395 595.4,396.1 597.4,396.7 607.9,397.5 618.9,396.6 628.9,394.1 656.4,395.1 679.4,393.5" fill="none" stroke="#5a4a4a" stroke-width="0.6"/>
<path d="M679.4,413.8 661.9,414.1 645.4,413.9 638.9,413.2 632.4,411.4 625.9,410.1 616.4,409.2 603.4,408.9 585.9,409.9 578.4,411.3 572.9,412.9 567.4,413.8 556.4,414.2 531.4,413.6" fill="none" stroke="#5a4a4a" stroke-width="0.6"/>
<path d="M531.4,426 587.9,425.5 679.4,426.5" fill="none" stroke="#5a4a4a" stroke-width="0.6"/>
<path d="M679.4,443.6 588.9,444.8 531.4,444.2" fill="none" stroke="#5a4a4a" stroke-width="0.6"/>
<path d="M531.4,427.2 567.9,426.5 603.4,426.5 637,427 679.4,428.3" fill="none" stroke="#5a4a4a" stroke-width="0.6"/>
<path d="M679.4,441.4 636.9,442.9 602.9,443.5 567.9,443.4 531.4,442.6" fill="none" stroke="#5a4a4a" stroke-width="0.6"/>
<path d="M550.9,394.5 560.9,394.1 570.9,394.7 575.9,395.6 585.9,398.4 592.9,399.8 601.9,400.9 620.4,402 624.6,402.5 627.1,403.5 626.5,404 624.9,404.3 620.4,404.7 592.4,405.7 567.4,407 558.9,407 550.9,406.2 543.9,404.6 537.9,402.3 536,401 535.4,400 535.6,399 536.6,398 539.9,396.5 544.4,395.4 550.9,394.5" fill="none" stroke="#5a4a4a" stroke-width="0.6"/>
<path d="M531.4,428.2 578.4,427.1 614.4,427.3 659.9,429 679.4,431.1" fill="none" stroke="#5a4a4a" stroke-width="0.6"/>
<path d="M679.4,438.5 669.4,439.9 654.9,441 610.9,442.6 576.9,442.7 531.4,441.4" fill="none" stroke="#5a4a4a" stroke-width="0.6"/>
<path d="M531.4,430.6 543.9,429.3 562.9,428.3 590.4,428 618.4,428.5 635.4,429.4 648.4,430.9 657.4,433 659.4,434.2 659.7,435 658.4,436.1 656.9,436.8 646.6,439 632.9,440.4 615.4,441.3 589.9,441.7 563.9,441.3 542.9,440.2 531.4,439" fill="none" stroke="#5a4a4a" stroke-width="0.6"/>
<path d="M586.9,429.5 606.9,429.9 623.2,431 636.6,433 639.7,434 640.5,435 638.8,436 634.7,437 622.4,438.7 606.9,439.7 588.9,440.1 570.9,439.7 555.4,438.6 543.4,437 539.5,436 537.8,435 538.5,434 541.5,433 553.4,431.1 567.9,430 586.9,429.5" fill="none" stroke="#5a4a4a" stroke-width="0.6"/>
<path d="M574.4,432 590.9,431.6 606.9,432.2 619.7,433.5 622.4,434.2 623,434.5 623.1,435 620.2,436 612.4,437 589.4,438 566.4,437.1 558,436 555.2,435 555.2,434.5 556.3,434 559.4,433.3 574.4,432" fill="none" stroke="#5a4a4a" stroke-width="0.6"/>
</g>
<line x1="531.1" y1="333" x2="531.1" y2="464.5" stroke="#777" stroke-width="0.6" />
<line x1="529.2" y1="333" x2="531.4" y2="333" stroke="#555" stroke-width="0.6" />
<text x="528.4" y="335.3" font-size="6.4" fill="#000" text-anchor="end" stroke="#000" stroke-width="0.22">6</text>
<line x1="529.2" y1="377.1" x2="531.4" y2="377.1" stroke="#555" stroke-width="0.6" />
<text x="528.4" y="379.4" font-size="6.4" fill="#000" text-anchor="end" stroke="#000" stroke-width="0.22">4</text>
<line x1="529.2" y1="421.2" x2="531.4" y2="421.2" stroke="#555" stroke-width="0.6" />
<text x="528.4" y="423.5" font-size="6.4" fill="#000" text-anchor="end" stroke="#000" stroke-width="0.22">2</text>
<line x1="531.4" y1="462.3" x2="531.4" y2="464.5" stroke="#555" stroke-width="0.6" />
<text x="531.4" y="471.6" font-size="6.4" fill="#000" text-anchor="middle" stroke="#000" stroke-width="0.22">0</text>
<line x1="580.67" y1="462.3" x2="580.67" y2="464.5" stroke="#555" stroke-width="0.6" />
<text x="580.67" y="471.6" font-size="6.4" fill="#000" text-anchor="middle" stroke="#000" stroke-width="0.22">4</text>
<line x1="629.93" y1="462.3" x2="629.93" y2="464.5" stroke="#555" stroke-width="0.6" />
<text x="629.93" y="471.6" font-size="6.4" fill="#000" text-anchor="middle" stroke="#000" stroke-width="0.22">8</text>
<line x1="679.2" y1="462.3" x2="679.2" y2="464.5" stroke="#555" stroke-width="0.6" />
<text x="679.2" y="471.6" font-size="6.4" fill="#000" text-anchor="middle" stroke="#000" stroke-width="0.22">12</text>
<text x="603.82" y="482" font-size="9.6" fill="#000" text-anchor="middle" font-weight="bold" stroke="#000" stroke-width="0.08">k (&#197;<tspan font-size="6.2" dy="-4.2">-1</tspan><tspan dy="4.2">)</tspan></text>
<text x="519.8" y="402.4" font-size="9.9" fill="#000" text-anchor="middle" font-weight="bold" textLength="30.3" lengthAdjust="spacingAndGlyphs" transform="rotate(-90 519.8 402.4)" stroke="#000" stroke-width="0.08">R+&#945; (&#197;)</text>
<text x="30.1" y="349.5" font-size="9.9" fill="#fafafa" text-anchor="start" textLength="49.9" lengthAdjust="spacingAndGlyphs" stroke="#fafafa" stroke-width="0.22">Ru NPs/TiN</text>
<text x="97.3" y="406.1" font-size="9.9" fill="#fafafa" text-anchor="start" textLength="27.6" lengthAdjust="spacingAndGlyphs" stroke="#fafafa" stroke-width="0.22">Ru-Ru</text>
<text x="48.2" y="421.4" font-size="9.9" fill="#fafafa" text-anchor="start" textLength="31.2" lengthAdjust="spacingAndGlyphs" stroke="#fafafa" stroke-width="0.22">Ru-N/O</text>
<text x="-1" y="334.3" font-size="20" fill="#000" text-anchor="start" >g</text>
<text x="200.1" y="349.7" font-size="9.9" fill="#fafafa" text-anchor="start" textLength="27" lengthAdjust="spacingAndGlyphs" stroke="#fafafa" stroke-width="0.22">Ru foil</text>
<text x="272.3" y="401.7" font-size="9.9" fill="#fafafa" text-anchor="start" textLength="27.8" lengthAdjust="spacingAndGlyphs" stroke="#fafafa" stroke-width="0.22">Ru-Ru</text>
<text x="167.8" y="337.1" font-size="20" fill="#000" text-anchor="start" >h</text>
<text x="370.1" y="349" font-size="9.9" fill="#fafafa" text-anchor="start" textLength="19.3" lengthAdjust="spacingAndGlyphs" stroke="#fafafa" stroke-width="0.22">RuO</text>
<text x="389.5" y="351.6" font-size="6" fill="#fafafa" text-anchor="start" stroke="#fafafa" stroke-width="0.22">2</text>
<text x="385.1" y="421.7" font-size="9.9" fill="#fafafa" text-anchor="start" textLength="22.6" lengthAdjust="spacingAndGlyphs" stroke="#fafafa" stroke-width="0.22">Ru-O</text>
<text x="342.4" y="336.9" font-size="20" fill="#000" text-anchor="start" >i</text>
<text x="543.1" y="349" font-size="9.9" fill="#fafafa" text-anchor="start" textLength="21.8" lengthAdjust="spacingAndGlyphs" stroke="#fafafa" stroke-width="0.22">Ru/C</text>
<text x="544.6" y="427.6" font-size="9.9" fill="#fafafa" text-anchor="start" textLength="21.7" lengthAdjust="spacingAndGlyphs" stroke="#fafafa" stroke-width="0.22">Ru-C</text>
<text x="513.6" y="337.4" font-size="20" fill="#000" text-anchor="start" >j</text>
</svg></body></html>
